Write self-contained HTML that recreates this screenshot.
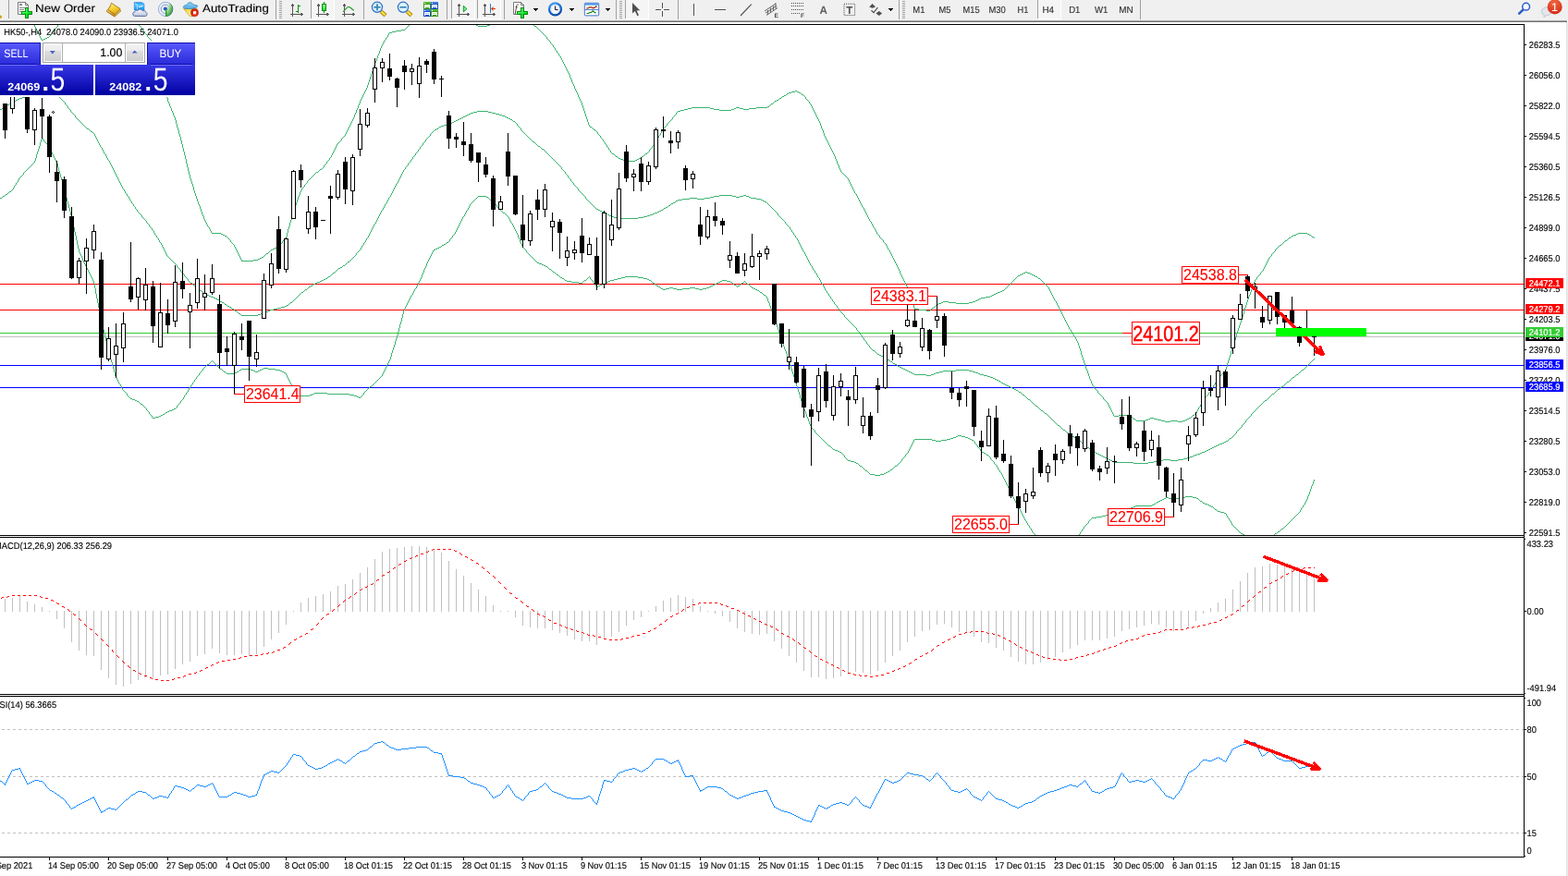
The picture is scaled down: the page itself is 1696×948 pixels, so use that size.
<!DOCTYPE html>
<html><head><meta charset="utf-8"><title>HK50-,H4</title>
<style>html,body{margin:0;padding:0;background:#fff;overflow:hidden}body{width:1696px;height:948px;position:relative;font-family:"Liberation Sans", sans-serif}svg text{white-space:pre}</style>
</head><body>
<svg width="1696" height="948" viewBox="0 0 1696 948" font-family='"Liberation Sans", sans-serif' text-rendering="geometricPrecision" style="position:absolute;left:0;top:0">
<defs>
<clipPath id="cm"><rect x="0" y="27" width="1648" height="552"/></clipPath>
<clipPath id="cd"><rect x="0" y="582" width="1648" height="169"/></clipPath>
<clipPath id="cr"><rect x="0" y="754" width="1648" height="173"/></clipPath>
<linearGradient id="gb1" x1="0" y1="0" x2="0" y2="1"><stop offset="0" stop-color="#5a5aff"/><stop offset="1" stop-color="#2a2ad8"/></linearGradient>
<linearGradient id="gb2" x1="0" y1="0" x2="0" y2="1"><stop offset="0" stop-color="#3838e8"/><stop offset="1" stop-color="#0000a0"/></linearGradient>
<linearGradient id="gbtn" x1="0" y1="0" x2="0" y2="1"><stop offset="0" stop-color="#f2f2f2"/><stop offset="0.4" stop-color="#ebebeb"/><stop offset="0.42" stop-color="#dddddd"/><stop offset="1" stop-color="#cfcfcf"/></linearGradient>

<linearGradient id="gplus" x1="0" y1="0" x2="1" y2="1"><stop offset="0" stop-color="#8cff9c"/><stop offset="0.5" stop-color="#10f030"/><stop offset="1" stop-color="#08b818"/></linearGradient>
<linearGradient id="gcandle" x1="0" y1="0" x2="0" y2="1"><stop offset="0" stop-color="#98ffa0"/><stop offset="1" stop-color="#18dc30"/></linearGradient>
<linearGradient id="ggold" x1="0.2" y1="0" x2="0.6" y2="1"><stop offset="0" stop-color="#fff6a0"/><stop offset="0.5" stop-color="#f4d030"/><stop offset="1" stop-color="#dca818"/></linearGradient>
<linearGradient id="gspine" x1="0" y1="0" x2="0.4" y2="1"><stop offset="0" stop-color="#fbe8a0"/><stop offset="1" stop-color="#c88a18"/></linearGradient>
<linearGradient id="gsky" x1="0" y1="0" x2="0" y2="1"><stop offset="0" stop-color="#1a9cf8"/><stop offset="0.35" stop-color="#58c4ff"/><stop offset="1" stop-color="#0890f0"/></linearGradient>
<linearGradient id="gcloud" x1="0" y1="0" x2="0" y2="1"><stop offset="0" stop-color="#ffffff"/><stop offset="1" stop-color="#b4c0d8"/></linearGradient>
<radialGradient id="glens" cx="0.5" cy="0.5" r="0.6"><stop offset="0" stop-color="#f0fcff"/><stop offset="1" stop-color="#c8eefa"/></radialGradient>
<radialGradient id="gred" cx="0.45" cy="0.25" r="0.85"><stop offset="0" stop-color="#f26a40"/><stop offset="1" stop-color="#d02414"/></radialGradient>
<radialGradient id="gstop" cx="0.6" cy="0.6" r="0.7"><stop offset="0" stop-color="#ff3010"/><stop offset="1" stop-color="#c42010"/></radialGradient>
<linearGradient id="gclock" x1="0.2" y1="0" x2="0.6" y2="1"><stop offset="0" stop-color="#48a8f8"/><stop offset="0.5" stop-color="#1868d0"/><stop offset="1" stop-color="#0848a0"/></linearGradient>
<linearGradient id="ghat" x1="0" y1="0" x2="0" y2="1"><stop offset="0" stop-color="#8cd0f8"/><stop offset="1" stop-color="#58a8e0"/></linearGradient>
<linearGradient id="gface" x1="0" y1="0" x2="1" y2="1"><stop offset="0" stop-color="#f0c820"/><stop offset="0.6" stop-color="#fff890"/><stop offset="1" stop-color="#f0d040"/></linearGradient>
<radialGradient id="gsig" cx="0" cy="0" r="1"><stop offset="0" stop-color="#e8f4e0" stop-opacity="0.6"/><stop offset="0.6" stop-color="#a8d8a0" stop-opacity="0.9"/><stop offset="1" stop-color="#48a848"/></radialGradient>
<linearGradient id="ghandle" x1="0" y1="0" x2="1" y2="0"><stop offset="0" stop-color="#d8a810"/><stop offset="0.5" stop-color="#fff050"/><stop offset="1" stop-color="#c89008"/></linearGradient>
<pattern id="dots" width="2" height="2" patternUnits="userSpaceOnUse"><rect width="2" height="2" fill="#fdfdfd"/><rect width="1" height="1" fill="#ededed"/><rect x="1" y="1" width="1" height="1" fill="#ededed"/></pattern>

</defs>
<rect x="0" y="0" width="1696" height="948" fill="#fff"/>
<g shape-rendering="crispEdges">
<rect x="0" y="307" width="1648" height="1" fill="#ff0000" />
<rect x="0" y="335" width="1648" height="1" fill="#ff0000" />
<rect x="0" y="364" width="1648" height="1" fill="#c0c0c0" />
<rect x="0" y="360" width="1648" height="1" fill="#32cd32" />
<rect x="0" y="395" width="1648" height="1" fill="#0000ff" />
<rect x="0" y="419" width="1648" height="1" fill="#0000ff" />
<path d="M37 27h1v2h-1zM38 29h1v2h-1zM39 31h1v2h-1zM40 33h1v2h-1zM41 35h1v2h-1zM42 37h1v2h-1zM43 39h1v2h-1zM44 41h1v2h-1zM45 43h2v1h-2zM47 42h2v1h-2zM49 41h2v1h-2zM51 40h2v1h-2zM53 39h1v1h-1zM54 38h1v1h-1zM55 36h1v2h-1zM56 35h1v1h-1zM57 34h1v1h-1zM58 33h1v1h-1zM59 31h1v2h-1zM60 30h1v1h-1zM61 29h1v1h-1zM62 27h1v2h-1zM150 27h1v1h-1zM151 28h1v1h-1zM152 29h1v1h-1zM153 30h1v2h-1zM154 32h1v1h-1zM155 33h1v1h-1zM156 34h1v2h-1zM157 36h1v1h-1zM158 37h1v1h-1zM159 38h1v2h-1zM160 40h1v1h-1zM161 41h1v1h-1zM162 42h1v1h-1zM163 43h1v2h-1zM164 45h1v1h-1zM165 46h1v2h-1zM166 48h1v4h-1zM167 52h1v4h-1zM168 56h1v3h-1zM169 59h1v4h-1zM170 63h1v3h-1zM171 66h1v4h-1zM172 70h1v4h-1zM173 74h1v4h-1zM174 78h1v4h-1zM175 82h1v4h-1zM176 86h1v4h-1zM177 90h1v4h-1zM178 94h1v4h-1zM179 98h1v4h-1zM180 102h1v4h-1zM181 106h1v4h-1zM182 110h1v2h-1zM183 112h1v3h-1zM184 115h1v2h-1zM185 117h1v3h-1zM186 120h1v2h-1zM187 122h1v3h-1zM188 125h1v2h-1zM189 127h1v3h-1zM190 130h1v4h-1zM191 134h1v4h-1zM192 138h1v3h-1zM193 141h1v4h-1zM194 145h1v3h-1zM195 148h1v4h-1zM196 152h1v4h-1zM197 156h1v4h-1zM198 160h1v4h-1zM199 164h1v4h-1zM200 168h1v4h-1zM201 172h1v5h-1zM202 177h1v4h-1zM203 181h1v4h-1zM204 185h1v4h-1zM205 189h1v4h-1zM206 193h1v3h-1zM207 196h1v3h-1zM208 199h1v3h-1zM209 202h1v4h-1zM210 206h1v3h-1zM211 209h1v3h-1zM212 212h1v3h-1zM213 215h1v3h-1zM214 218h1v3h-1zM215 221h1v2h-1zM216 223h1v3h-1zM217 226h1v3h-1zM218 229h1v3h-1zM219 232h1v2h-1zM220 234h1v3h-1zM221 237h1v2h-1zM222 239h1v2h-1zM223 241h1v2h-1zM224 243h1v2h-1zM225 245h1v1h-1zM226 246h1v2h-1zM227 248h1v2h-1zM228 250h1v2h-1zM229 252h10v1h-10zM239 253h2v1h-2zM241 254h2v1h-2zM243 255h2v1h-2zM245 256h1v1h-1zM246 257h1v1h-1zM247 258h1v1h-1zM248 259h1v1h-1zM249 260h1v2h-1zM250 262h1v1h-1zM251 263h1v1h-1zM252 264h1v1h-1zM253 265h1v2h-1zM254 267h1v2h-1zM255 269h1v2h-1zM256 271h1v2h-1zM257 273h1v2h-1zM258 275h1v2h-1zM259 277h1v2h-1zM260 279h1v2h-1zM261 281h1v2h-1zM262 282h12v1h-12zM274 281h5v1h-5zM279 280h2v1h-2zM281 279h2v1h-2zM283 278h2v1h-2zM285 277h1v1h-1zM286 276h1v1h-1zM287 275h1v1h-1zM288 274h2v1h-2zM290 273h1v1h-1zM291 272h1v1h-1zM292 271h1v1h-1zM293 270h2v1h-2zM295 269h2v1h-2zM297 268h2v1h-2zM299 267h2v1h-2zM301 266h1v1h-1zM302 265h1v1h-1zM303 264h1v1h-1zM304 263h1v1h-1zM305 261h1v2h-1zM306 260h1v1h-1zM307 259h1v1h-1zM308 258h1v1h-1zM309 256h1v2h-1zM310 252h1v4h-1zM311 248h1v4h-1zM312 245h1v3h-1zM313 241h1v4h-1zM314 238h1v3h-1zM315 234h1v4h-1zM316 230h1v4h-1zM317 227h1v3h-1zM318 224h1v3h-1zM319 222h1v2h-1zM320 219h1v3h-1zM321 216h1v3h-1zM322 213h1v3h-1zM323 211h1v2h-1zM324 208h1v3h-1zM325 206h1v2h-1zM326 204h1v2h-1zM327 203h1v1h-1zM328 202h1v1h-1zM329 200h1v2h-1zM330 199h1v1h-1zM331 198h1v1h-1zM332 196h1v2h-1zM333 195h1v1h-1zM334 194h1v1h-1zM335 193h1v1h-1zM336 192h1v1h-1zM337 191h1v1h-1zM338 190h1v1h-1zM339 189h1v1h-1zM340 188h1v1h-1zM341 187h1v1h-1zM342 186h2v1h-2zM344 185h1v1h-1zM345 184h1v1h-1zM346 183h2v1h-2zM348 182h1v1h-1zM349 181h1v1h-1zM350 179h1v2h-1zM351 178h1v1h-1zM352 177h1v1h-1zM353 175h1v2h-1zM354 174h1v1h-1zM355 173h1v1h-1zM356 171h1v2h-1zM357 170h1v1h-1zM358 168h1v2h-1zM359 166h1v2h-1zM360 164h1v2h-1zM361 162h1v2h-1zM362 160h1v2h-1zM363 158h1v2h-1zM364 156h1v2h-1zM365 155h1v1h-1zM366 154h1v1h-1zM367 153h1v1h-1zM368 152h1v1h-1zM369 150h1v2h-1zM370 149h1v1h-1zM371 148h1v1h-1zM372 147h1v1h-1zM373 145h1v2h-1zM374 143h1v2h-1zM375 141h1v2h-1zM376 139h1v2h-1zM377 137h1v2h-1zM378 135h1v2h-1zM379 133h1v2h-1zM380 131h1v2h-1zM381 129h1v2h-1zM382 127h1v2h-1zM383 124h1v3h-1zM384 122h1v2h-1zM385 119h1v3h-1zM386 117h1v2h-1zM387 114h1v3h-1zM388 112h1v2h-1zM389 109h1v3h-1zM390 107h1v2h-1zM391 105h1v2h-1zM392 103h1v2h-1zM393 101h1v2h-1zM394 99h1v2h-1zM395 97h1v2h-1zM396 95h1v2h-1zM397 92h1v3h-1zM398 89h1v3h-1zM399 86h1v3h-1zM400 83h1v3h-1zM401 80h1v3h-1zM402 77h1v3h-1zM403 74h1v3h-1zM404 71h1v3h-1zM405 68h1v3h-1zM406 66h1v2h-1zM407 63h1v3h-1zM408 60h1v3h-1zM409 58h1v2h-1zM410 55h1v3h-1zM411 52h1v3h-1zM412 50h1v2h-1zM413 48h1v2h-1zM414 46h1v2h-1zM415 44h1v2h-1zM416 43h1v1h-1zM417 41h1v2h-1zM418 40h1v1h-1zM419 38h1v2h-1zM420 36h1v2h-1zM421 35h3v1h-3zM424 34h4v1h-4zM428 33h6v1h-6zM434 32h4v1h-4zM438 31h1v1h-1zM439 30h1v1h-1zM440 29h1v1h-1zM441 28h1v1h-1zM442 27h1v1h-1zM515 27h2v1h-2zM517 28h10v1h-10zM527 27h3v1h-3zM577 27h1v1h-1zM578 28h2v1h-2zM580 29h1v1h-1zM581 30h1v1h-1zM582 31h1v1h-1zM583 32h1v1h-1zM584 33h1v1h-1zM585 34h1v1h-1zM586 35h1v1h-1zM587 36h1v1h-1zM588 37h1v1h-1zM589 38h1v1h-1zM590 39h1v1h-1zM591 40h1v2h-1zM592 42h1v1h-1zM593 43h1v1h-1zM594 44h1v1h-1zM595 45h1v2h-1zM596 47h1v1h-1zM597 48h1v1h-1zM598 49h1v2h-1zM599 51h1v1h-1zM600 52h1v2h-1zM601 54h1v1h-1zM602 55h1v2h-1zM603 57h1v1h-1zM604 58h1v2h-1zM605 60h1v1h-1zM606 61h1v2h-1zM607 63h1v2h-1zM608 65h1v2h-1zM609 67h1v2h-1zM610 69h1v2h-1zM611 71h1v2h-1zM612 73h1v2h-1zM613 75h1v2h-1zM614 77h1v2h-1zM615 79h1v2h-1zM616 81h1v3h-1zM617 84h1v2h-1zM618 86h1v3h-1zM619 89h1v2h-1zM620 91h1v2h-1zM621 93h1v3h-1zM622 96h1v2h-1zM623 98h1v2h-1zM624 100h1v2h-1zM625 102h1v3h-1zM626 105h1v2h-1zM627 107h1v2h-1zM628 109h1v2h-1zM629 111h1v3h-1zM630 114h1v3h-1zM631 117h1v3h-1zM632 120h1v3h-1zM633 123h1v3h-1zM634 126h1v3h-1zM635 129h1v3h-1zM636 132h1v3h-1zM637 135h1v2h-1zM638 137h2v1h-2zM640 138h1v1h-1zM641 139h1v1h-1zM642 140h2v1h-2zM644 141h1v1h-1zM645 142h1v1h-1zM646 143h1v2h-1zM647 145h1v1h-1zM648 146h1v1h-1zM649 147h1v2h-1zM650 149h1v1h-1zM651 150h1v1h-1zM652 151h1v2h-1zM653 153h1v1h-1zM654 154h1v2h-1zM655 156h1v1h-1zM656 157h1v2h-1zM657 159h1v1h-1zM658 160h1v2h-1zM659 162h1v1h-1zM660 163h1v2h-1zM661 165h1v1h-1zM662 166h2v1h-2zM664 167h1v1h-1zM665 168h1v1h-1zM666 169h2v1h-2zM668 170h1v1h-1zM669 171h2v1h-2zM671 172h3v1h-3zM674 173h2v1h-2zM676 174h11v1h-11zM687 173h2v1h-2zM689 172h2v1h-2zM691 171h2v1h-2zM693 170h1v1h-1zM694 169h2v1h-2zM696 168h1v1h-1zM697 167h1v1h-1zM698 166h2v1h-2zM700 165h1v1h-1zM701 164h1v1h-1zM702 162h1v2h-1zM703 161h1v1h-1zM704 160h1v1h-1zM705 158h1v2h-1zM706 157h1v1h-1zM707 156h1v1h-1zM708 154h1v2h-1zM709 153h1v1h-1zM710 151h1v2h-1zM711 149h1v2h-1zM712 147h1v2h-1zM713 146h1v1h-1zM714 144h1v2h-1zM715 142h1v2h-1zM716 140h1v2h-1zM717 139h1v1h-1zM718 138h1v1h-1zM719 137h1v1h-1zM720 136h1v1h-1zM721 134h1v2h-1zM722 133h1v1h-1zM723 132h1v1h-1zM724 131h1v1h-1zM725 130h1v1h-1zM726 129h1v1h-1zM727 127h1v2h-1zM728 126h1v1h-1zM729 125h1v1h-1zM730 124h1v1h-1zM731 122h1v2h-1zM732 121h1v1h-1zM733 120h3v1h-3zM736 119h4v1h-4zM740 118h4v1h-4zM744 117h4v1h-4zM748 116h20v1h-20zM768 117h4v1h-4zM772 118h6v1h-6zM778 119h13v1h-13zM791 118h3v1h-3zM794 117h2v1h-2zM796 116h4v1h-4zM800 117h4v1h-4zM804 118h6v1h-6zM810 117h8v1h-8zM818 116h12v1h-12zM830 115h2v1h-2zM832 114h1v1h-1zM833 113h1v1h-1zM834 112h2v1h-2zM836 111h1v1h-1zM837 110h1v1h-1zM838 109h2v1h-2zM840 108h2v1h-2zM842 107h1v1h-1zM843 106h2v1h-2zM845 105h1v1h-1zM846 104h2v1h-2zM848 103h2v1h-2zM850 102h1v1h-1zM851 101h2v1h-2zM853 100h3v1h-3zM856 99h4v1h-4zM860 98h2v1h-2zM862 99h2v1h-2zM864 100h2v1h-2zM866 101h1v1h-1zM867 102h2v1h-2zM869 103h1v1h-1zM870 104h1v1h-1zM871 105h1v2h-1zM872 107h1v1h-1zM873 108h1v1h-1zM874 109h1v1h-1zM875 110h1v2h-1zM876 112h1v1h-1zM877 113h1v2h-1zM878 115h1v2h-1zM879 117h1v2h-1zM880 119h1v2h-1zM881 121h1v2h-1zM882 123h1v2h-1zM883 125h1v2h-1zM884 127h1v2h-1zM885 129h1v2h-1zM886 131h1v2h-1zM887 133h1v3h-1zM888 136h1v3h-1zM889 139h1v2h-1zM890 141h1v3h-1zM891 144h1v3h-1zM892 147h1v2h-1zM893 149h1v2h-1zM894 151h1v2h-1zM895 153h1v2h-1zM896 155h1v2h-1zM897 157h1v2h-1zM898 159h1v2h-1zM899 161h1v2h-1zM900 163h1v2h-1zM901 165h1v2h-1zM902 167h1v2h-1zM903 169h1v3h-1zM904 172h1v2h-1zM905 174h1v3h-1zM906 177h1v2h-1zM907 179h1v3h-1zM908 182h1v2h-1zM909 184h1v2h-1zM910 186h1v1h-1zM911 187h1v1h-1zM912 188h1v1h-1zM913 189h1v1h-1zM914 190h1v1h-1zM915 191h1v1h-1zM916 192h1v1h-1zM917 193h1v2h-1zM918 195h1v2h-1zM919 197h1v2h-1zM920 199h1v2h-1zM921 201h1v2h-1zM922 203h1v2h-1zM923 205h1v2h-1zM924 207h1v2h-1zM925 209h1v1h-1zM926 210h1v2h-1zM927 212h1v2h-1zM928 214h1v2h-1zM929 216h1v2h-1zM930 218h1v2h-1zM931 220h1v2h-1zM932 222h1v2h-1zM933 224h1v1h-1zM934 225h1v2h-1zM935 227h1v2h-1zM936 229h1v2h-1zM937 231h1v2h-1zM938 233h1v2h-1zM939 235h1v2h-1zM940 237h1v2h-1zM941 239h1v1h-1zM942 240h1v2h-1zM943 242h1v2h-1zM944 244h1v2h-1zM945 246h1v1h-1zM946 247h1v2h-1zM947 249h1v2h-1zM948 251h1v2h-1zM949 253h1v1h-1zM950 254h1v1h-1zM951 255h1v2h-1zM952 257h1v1h-1zM953 258h1v1h-1zM954 259h1v1h-1zM955 260h1v2h-1zM956 262h1v1h-1zM957 263h1v1h-1zM958 264h1v2h-1zM959 266h1v2h-1zM960 268h1v2h-1zM961 270h1v1h-1zM962 271h1v2h-1zM963 273h1v2h-1zM964 275h1v2h-1zM965 277h1v2h-1zM966 279h1v2h-1zM967 281h1v2h-1zM968 283h1v2h-1zM969 285h1v2h-1zM970 287h1v2h-1zM971 289h1v2h-1zM972 291h1v2h-1zM973 293h1v3h-1zM974 296h1v2h-1zM975 298h1v2h-1zM976 300h1v2h-1zM977 302h1v2h-1zM978 304h1v2h-1zM979 306h1v2h-1zM980 308h1v2h-1zM981 310h1v3h-1zM982 313h1v3h-1zM983 316h1v3h-1zM984 319h1v3h-1zM985 322h1v2h-1zM986 324h1v3h-1zM987 327h1v3h-1zM988 330h1v3h-1zM989 333h1v2h-1zM990 334h4v1h-4zM994 335h8v1h-8zM1002 336h4v1h-4zM1006 335h1v1h-1zM1007 334h1v1h-1zM1008 333h2v1h-2zM1010 332h1v1h-1zM1011 331h1v1h-1zM1012 330h1v1h-1zM1013 329h2v1h-2zM1015 328h3v1h-3zM1018 327h2v1h-2zM1020 326h6v1h-6zM1026 327h8v1h-8zM1034 328h14v1h-14zM1048 327h4v1h-4zM1052 326h3v1h-3zM1055 325h2v1h-2zM1057 324h2v1h-2zM1059 323h2v1h-2zM1061 322h5v1h-5zM1066 321h5v1h-5zM1071 320h2v1h-2zM1073 319h2v1h-2zM1075 318h2v1h-2zM1077 317h2v1h-2zM1079 316h3v1h-3zM1082 315h2v1h-2zM1084 314h2v1h-2zM1086 313h1v1h-1zM1087 312h1v1h-1zM1088 311h1v1h-1zM1089 310h1v1h-1zM1090 309h1v1h-1zM1091 308h1v1h-1zM1092 307h1v1h-1zM1093 306h1v1h-1zM1094 305h1v1h-1zM1095 304h1v1h-1zM1096 303h1v1h-1zM1097 302h1v1h-1zM1098 301h1v1h-1zM1099 300h1v1h-1zM1100 299h1v1h-1zM1101 298h2v1h-2zM1103 297h2v1h-2zM1105 296h2v1h-2zM1107 295h2v1h-2zM1109 294h2v1h-2zM1111 295h3v1h-3zM1114 296h2v1h-2zM1116 297h2v1h-2zM1118 298h2v1h-2zM1120 299h2v1h-2zM1122 300h1v1h-1zM1123 301h2v1h-2zM1125 302h1v1h-1zM1126 303h1v1h-1zM1127 304h1v1h-1zM1128 305h1v1h-1zM1129 306h1v1h-1zM1130 307h1v1h-1zM1131 308h1v1h-1zM1132 309h1v1h-1zM1133 310h1v1h-1zM1134 311h1v2h-1zM1135 313h1v2h-1zM1136 315h1v2h-1zM1137 317h1v2h-1zM1138 319h1v2h-1zM1139 321h1v2h-1zM1140 323h1v2h-1zM1141 325h1v1h-1zM1142 326h1v2h-1zM1143 328h1v2h-1zM1144 330h1v2h-1zM1145 332h1v2h-1zM1146 334h1v2h-1zM1147 336h1v2h-1zM1148 338h1v2h-1zM1149 340h1v2h-1zM1150 342h1v2h-1zM1151 344h1v2h-1zM1152 346h1v2h-1zM1153 348h1v2h-1zM1154 350h1v2h-1zM1155 352h1v2h-1zM1156 354h1v2h-1zM1157 356h1v1h-1zM1158 357h1v2h-1zM1159 359h1v2h-1zM1160 361h1v1h-1zM1161 362h1v2h-1zM1162 364h1v1h-1zM1163 365h1v2h-1zM1164 367h1v2h-1zM1165 369h1v2h-1zM1166 371h1v3h-1zM1167 374h1v3h-1zM1168 377h1v3h-1zM1169 380h1v4h-1zM1170 384h1v3h-1zM1171 387h1v3h-1zM1172 390h1v3h-1zM1173 393h1v3h-1zM1174 396h1v3h-1zM1175 399h1v2h-1zM1176 401h1v3h-1zM1177 404h1v3h-1zM1178 407h1v3h-1zM1179 410h1v2h-1zM1180 412h1v3h-1zM1181 415h1v2h-1zM1182 417h1v1h-1zM1183 418h1v2h-1zM1184 420h1v1h-1zM1185 421h1v1h-1zM1186 422h1v1h-1zM1187 423h1v2h-1zM1188 425h1v1h-1zM1189 426h1v1h-1zM1190 427h1v1h-1zM1191 428h1v1h-1zM1192 429h1v1h-1zM1193 430h1v2h-1zM1194 432h1v1h-1zM1195 433h1v1h-1zM1196 434h1v1h-1zM1197 435h1v1h-1zM1198 436h1v2h-1zM1199 438h1v2h-1zM1200 440h1v2h-1zM1201 442h1v2h-1zM1202 444h1v2h-1zM1203 446h1v2h-1zM1204 448h1v2h-1zM1205 450h5v1h-5zM1210 449h12v1h-12zM1222 450h2v1h-2zM1224 451h1v1h-1zM1225 452h1v1h-1zM1226 453h2v1h-2zM1228 454h1v1h-1zM1229 455h10v1h-10zM1239 454h3v1h-3zM1242 453h2v1h-2zM1244 452h4v1h-4zM1248 453h4v1h-4zM1252 454h4v1h-4zM1256 455h4v1h-4zM1260 456h6v1h-6zM1266 455h8v1h-8zM1274 456h5v1h-5zM1279 455h3v1h-3zM1282 454h2v1h-2zM1284 453h2v1h-2zM1286 452h2v1h-2zM1288 451h1v1h-1zM1289 450h1v1h-1zM1290 449h2v1h-2zM1292 448h1v1h-1zM1293 447h1v1h-1zM1294 445h1v2h-1zM1295 443h1v2h-1zM1296 441h1v2h-1zM1297 440h1v1h-1zM1298 438h1v2h-1zM1299 436h1v2h-1zM1300 434h1v2h-1zM1301 433h1v1h-1zM1302 432h1v1h-1zM1303 430h1v2h-1zM1304 429h1v1h-1zM1305 428h1v1h-1zM1306 427h1v1h-1zM1307 425h1v2h-1zM1308 424h1v1h-1zM1309 423h1v1h-1zM1310 421h1v2h-1zM1311 419h1v2h-1zM1312 417h1v2h-1zM1313 416h1v1h-1zM1314 414h1v2h-1zM1315 412h1v2h-1zM1316 410h1v2h-1zM1317 409h1v1h-1zM1318 408h1v1h-1zM1319 407h1v1h-1zM1320 406h1v1h-1zM1321 405h1v1h-1zM1322 404h1v1h-1zM1323 403h1v1h-1zM1324 402h1v1h-1zM1325 400h1v2h-1zM1326 397h1v3h-1zM1327 393h1v4h-1zM1328 390h1v3h-1zM1329 387h1v3h-1zM1330 384h1v3h-1zM1331 380h1v4h-1zM1332 377h1v3h-1zM1333 374h1v3h-1zM1334 371h1v3h-1zM1335 368h1v3h-1zM1336 365h1v3h-1zM1337 361h1v4h-1zM1338 358h1v3h-1zM1339 355h1v3h-1zM1340 352h1v3h-1zM1341 349h1v3h-1zM1342 346h1v3h-1zM1343 343h1v3h-1zM1344 340h1v3h-1zM1345 336h1v4h-1zM1346 333h1v3h-1zM1347 330h1v3h-1zM1348 327h1v3h-1zM1349 324h1v3h-1zM1350 321h1v3h-1zM1351 319h1v2h-1zM1352 316h1v3h-1zM1353 313h1v3h-1zM1354 310h1v3h-1zM1355 308h1v2h-1zM1356 305h1v3h-1zM1357 303h1v2h-1zM1358 302h1v1h-1zM1359 300h1v2h-1zM1360 299h1v1h-1zM1361 298h1v1h-1zM1362 297h1v1h-1zM1363 295h1v2h-1zM1364 294h1v1h-1zM1365 293h1v1h-1zM1366 291h1v2h-1zM1367 289h1v2h-1zM1368 287h1v2h-1zM1369 285h1v2h-1zM1370 283h1v2h-1zM1371 281h1v2h-1zM1372 279h1v2h-1zM1373 278h1v1h-1zM1374 277h1v1h-1zM1375 275h1v2h-1zM1376 274h1v1h-1zM1377 273h1v1h-1zM1378 272h1v1h-1zM1379 270h1v2h-1zM1380 269h1v1h-1zM1381 268h1v1h-1zM1382 267h1v1h-1zM1383 266h1v1h-1zM1384 265h2v1h-2zM1386 264h1v1h-1zM1387 263h1v1h-1zM1388 262h1v1h-1zM1389 261h1v1h-1zM1390 260h2v1h-2zM1392 259h1v1h-1zM1393 258h1v1h-1zM1394 257h2v1h-2zM1396 256h1v1h-1zM1397 255h2v1h-2zM1399 254h3v1h-3zM1402 253h2v1h-2zM1404 252h10v1h-10zM1414 253h2v1h-2zM1416 254h2v1h-2zM1418 255h1v1h-1zM1419 256h2v1h-2zM1421 257h1v1h-1z" fill="#3CB371" />
<path d="M0 118h2v1h-2zM2 117h1v1h-1zM3 116h2v1h-2zM5 115h1v1h-1zM6 114h2v1h-2zM8 113h2v1h-2zM10 112h1v1h-1zM11 111h2v1h-2zM13 110h2v1h-2zM15 109h2v1h-2zM17 108h2v1h-2zM19 107h2v1h-2zM21 106h3v1h-3zM24 105h4v1h-4zM28 104h3v1h-3zM31 103h2v1h-2zM33 102h2v1h-2zM35 101h2v1h-2zM37 100h2v1h-2zM39 99h3v1h-3zM42 98h2v1h-2zM44 97h6v1h-6zM50 98h5v1h-5zM55 99h2v1h-2zM57 100h2v1h-2zM59 101h2v1h-2zM61 102h1v1h-1zM62 103h1v1h-1zM63 104h1v1h-1zM64 105h1v1h-1zM65 106h1v1h-1zM66 107h1v1h-1zM67 108h1v1h-1zM68 109h1v1h-1zM69 110h1v1h-1zM70 111h1v2h-1zM71 113h1v1h-1zM72 114h1v1h-1zM73 115h1v2h-1zM74 117h1v1h-1zM75 118h1v1h-1zM76 119h1v2h-1zM77 121h1v1h-1zM78 122h1v1h-1zM79 123h1v1h-1zM80 124h1v1h-1zM81 125h1v2h-1zM82 127h1v1h-1zM83 128h1v1h-1zM84 129h1v1h-1zM85 130h1v1h-1zM86 131h1v1h-1zM87 132h1v1h-1zM88 133h1v1h-1zM89 134h1v1h-1zM90 135h1v1h-1zM91 136h1v1h-1zM92 137h1v1h-1zM93 138h1v1h-1zM94 139h2v1h-2zM96 140h1v1h-1zM97 141h1v1h-1zM98 142h2v1h-2zM100 143h1v1h-1zM101 144h1v1h-1zM102 145h1v2h-1zM103 147h1v2h-1zM104 149h1v2h-1zM105 151h1v2h-1zM106 153h1v2h-1zM107 155h1v2h-1zM108 157h1v2h-1zM109 159h1v1h-1zM110 160h1v2h-1zM111 162h1v2h-1zM112 164h1v2h-1zM113 166h1v1h-1zM114 167h1v2h-1zM115 169h1v2h-1zM116 171h1v2h-1zM117 173h1v1h-1zM118 174h1v2h-1zM119 176h1v2h-1zM120 178h1v2h-1zM121 180h1v2h-1zM122 182h1v2h-1zM123 184h1v2h-1zM124 186h1v2h-1zM125 188h1v2h-1zM126 190h1v2h-1zM127 192h1v2h-1zM128 194h1v2h-1zM129 196h1v2h-1zM130 198h1v2h-1zM131 200h1v2h-1zM132 202h1v2h-1zM133 204h1v1h-1zM134 205h1v2h-1zM135 207h1v2h-1zM136 209h1v1h-1zM137 210h1v2h-1zM138 212h1v1h-1zM139 213h1v2h-1zM140 215h1v2h-1zM141 217h1v1h-1zM142 218h1v2h-1zM143 220h1v1h-1zM144 221h1v2h-1zM145 223h1v1h-1zM146 224h1v2h-1zM147 226h1v1h-1zM148 227h1v2h-1zM149 229h1v1h-1zM150 230h1v1h-1zM151 231h1v1h-1zM152 232h1v1h-1zM153 233h1v2h-1zM154 235h1v1h-1zM155 236h1v1h-1zM156 237h1v1h-1zM157 238h1v1h-1zM158 239h1v2h-1zM159 241h1v1h-1zM160 242h1v1h-1zM161 243h1v2h-1zM162 245h1v1h-1zM163 246h1v1h-1zM164 247h1v2h-1zM165 249h1v1h-1zM166 250h1v2h-1zM167 252h1v2h-1zM168 254h1v1h-1zM169 255h1v2h-1zM170 257h1v1h-1zM171 258h1v2h-1zM172 260h1v2h-1zM173 262h1v1h-1zM174 263h1v2h-1zM175 265h1v2h-1zM176 267h1v2h-1zM177 269h1v2h-1zM178 271h1v2h-1zM179 273h1v2h-1zM180 275h1v2h-1zM181 277h1v1h-1zM182 278h1v1h-1zM183 279h1v1h-1zM184 280h1v1h-1zM185 281h1v1h-1zM186 282h1v1h-1zM187 283h1v1h-1zM188 284h1v1h-1zM189 285h1v1h-1zM190 286h1v1h-1zM191 287h1v2h-1zM192 289h1v1h-1zM193 290h1v1h-1zM194 291h1v1h-1zM195 292h1v2h-1zM196 294h1v1h-1zM197 295h1v1h-1zM198 296h1v1h-1zM199 297h1v2h-1zM200 299h1v1h-1zM201 300h1v1h-1zM202 301h1v1h-1zM203 302h1v2h-1zM204 304h1v1h-1zM205 305h1v1h-1zM206 306h2v1h-2zM208 307h1v1h-1zM209 308h1v1h-1zM210 309h2v1h-2zM212 310h1v1h-1zM213 311h1v1h-1zM214 312h1v1h-1zM215 313h1v1h-1zM216 314h2v1h-2zM218 315h1v1h-1zM219 316h1v1h-1zM220 317h1v1h-1zM221 318h2v1h-2zM223 319h3v1h-3zM226 320h2v1h-2zM228 321h3v1h-3zM231 322h2v1h-2zM233 323h2v1h-2zM235 324h2v1h-2zM237 325h1v1h-1zM238 326h2v1h-2zM240 327h2v1h-2zM242 328h1v1h-1zM243 329h2v1h-2zM245 330h1v1h-1zM246 331h2v1h-2zM248 332h2v1h-2zM250 333h1v1h-1zM251 334h2v1h-2zM253 335h1v1h-1zM254 336h2v1h-2zM256 337h1v1h-1zM257 338h1v1h-1zM258 339h2v1h-2zM260 340h1v1h-1zM261 341h18v1h-18zM279 340h3v1h-3zM282 339h2v1h-2zM284 338h3v1h-3zM287 337h3v1h-3zM290 336h2v1h-2zM292 335h4v1h-4zM296 334h4v1h-4zM300 333h4v1h-4zM304 332h4v1h-4zM308 331h2v1h-2zM310 330h2v1h-2zM312 329h1v1h-1zM313 328h1v1h-1zM314 327h2v1h-2zM316 326h1v1h-1zM317 325h1v1h-1zM318 324h1v1h-1zM319 323h1v1h-1zM320 322h1v1h-1zM321 321h1v1h-1zM322 320h1v1h-1zM323 319h1v1h-1zM324 318h1v1h-1zM325 317h1v1h-1zM326 316h2v1h-2zM328 315h1v1h-1zM329 314h1v1h-1zM330 313h2v1h-2zM332 312h1v1h-1zM333 311h1v1h-1zM334 310h2v1h-2zM336 309h2v1h-2zM338 308h1v1h-1zM339 307h2v1h-2zM341 306h2v1h-2zM343 305h3v1h-3zM346 304h2v1h-2zM348 303h2v1h-2zM350 302h2v1h-2zM352 301h2v1h-2zM354 300h1v1h-1zM355 299h2v1h-2zM357 298h1v1h-1zM358 297h1v1h-1zM359 296h1v1h-1zM360 295h2v1h-2zM362 294h1v1h-1zM363 293h1v1h-1zM364 292h1v1h-1zM365 291h1v1h-1zM366 290h2v1h-2zM368 289h2v1h-2zM370 288h1v1h-1zM371 287h2v1h-2zM373 286h1v1h-1zM374 285h1v1h-1zM375 284h1v1h-1zM376 283h2v1h-2zM378 282h1v1h-1zM379 281h1v1h-1zM380 280h1v1h-1zM381 279h1v1h-1zM382 278h1v1h-1zM383 277h1v1h-1zM384 276h1v1h-1zM385 274h1v2h-1zM386 273h1v1h-1zM387 272h1v1h-1zM388 271h1v1h-1zM389 270h1v1h-1zM390 268h1v2h-1zM391 266h1v2h-1zM392 265h1v1h-1zM393 263h1v2h-1zM394 262h1v1h-1zM395 260h1v2h-1zM396 258h1v2h-1zM397 257h1v1h-1zM398 255h1v2h-1zM399 253h1v2h-1zM400 251h1v2h-1zM401 249h1v2h-1zM402 247h1v2h-1zM403 245h1v2h-1zM404 243h1v2h-1zM405 242h1v1h-1zM406 240h1v2h-1zM407 238h1v2h-1zM408 236h1v2h-1zM409 234h1v2h-1zM410 232h1v2h-1zM411 230h1v2h-1zM412 228h1v2h-1zM413 227h1v1h-1zM414 225h1v2h-1zM415 223h1v2h-1zM416 221h1v2h-1zM417 220h1v1h-1zM418 218h1v2h-1zM419 216h1v2h-1zM420 214h1v2h-1zM421 213h1v1h-1zM422 211h1v2h-1zM423 209h1v2h-1zM424 207h1v2h-1zM425 205h1v2h-1zM426 203h1v2h-1zM427 201h1v2h-1zM428 199h1v2h-1zM429 198h1v1h-1zM430 196h1v2h-1zM431 194h1v2h-1zM432 192h1v2h-1zM433 190h1v2h-1zM434 188h1v2h-1zM435 186h1v2h-1zM436 184h1v2h-1zM437 183h1v1h-1zM438 181h1v2h-1zM439 180h1v1h-1zM440 179h1v1h-1zM441 177h1v2h-1zM442 176h1v1h-1zM443 175h1v1h-1zM444 173h1v2h-1zM445 172h1v1h-1zM446 170h1v2h-1zM447 169h1v1h-1zM448 168h1v1h-1zM449 166h1v2h-1zM450 165h1v1h-1zM451 164h1v1h-1zM452 162h1v2h-1zM453 161h1v1h-1zM454 159h1v2h-1zM455 158h1v1h-1zM456 157h1v1h-1zM457 155h1v2h-1zM458 154h1v1h-1zM459 153h1v1h-1zM460 151h1v2h-1zM461 150h1v1h-1zM462 149h1v1h-1zM463 148h1v1h-1zM464 147h1v1h-1zM465 145h1v2h-1zM466 144h1v1h-1zM467 143h1v1h-1zM468 142h1v1h-1zM469 141h1v1h-1zM470 140h2v1h-2zM472 139h2v1h-2zM474 138h1v1h-1zM475 137h2v1h-2zM477 136h3v1h-3zM480 135h4v1h-4zM484 134h3v1h-3zM487 133h2v1h-2zM489 132h2v1h-2zM491 131h2v1h-2zM493 130h2v1h-2zM495 129h2v1h-2zM497 128h2v1h-2zM499 127h2v1h-2zM501 126h2v1h-2zM503 125h2v1h-2zM505 124h2v1h-2zM507 123h2v1h-2zM509 122h3v1h-3zM512 121h4v1h-4zM516 120h12v1h-12zM528 121h4v1h-4zM532 122h4v1h-4zM536 123h4v1h-4zM540 124h3v1h-3zM543 125h3v1h-3zM546 126h2v1h-2zM548 127h2v1h-2zM550 128h2v1h-2zM552 129h2v1h-2zM554 130h1v1h-1zM555 131h2v1h-2zM557 132h1v1h-1zM558 133h1v1h-1zM559 134h1v2h-1zM560 136h1v1h-1zM561 137h1v1h-1zM562 138h1v1h-1zM563 139h1v2h-1zM564 141h1v1h-1zM565 142h1v1h-1zM566 143h1v1h-1zM567 144h1v1h-1zM568 145h1v1h-1zM569 146h1v1h-1zM570 147h1v1h-1zM571 148h1v1h-1zM572 149h1v1h-1zM573 150h1v1h-1zM574 151h1v1h-1zM575 152h1v1h-1zM576 153h2v1h-2zM578 154h1v1h-1zM579 155h1v1h-1zM580 156h1v1h-1zM581 157h1v1h-1zM582 158h2v1h-2zM584 159h1v1h-1zM585 160h1v1h-1zM586 161h2v1h-2zM588 162h1v1h-1zM589 163h1v1h-1zM590 164h1v1h-1zM591 165h1v1h-1zM592 166h1v1h-1zM593 167h1v1h-1zM594 168h1v1h-1zM595 169h1v1h-1zM596 170h1v1h-1zM597 171h1v1h-1zM598 172h1v1h-1zM599 173h1v1h-1zM600 174h1v1h-1zM601 175h1v1h-1zM602 176h1v1h-1zM603 177h1v1h-1zM604 178h1v1h-1zM605 179h1v1h-1zM606 180h1v1h-1zM607 181h1v2h-1zM608 183h1v1h-1zM609 184h1v1h-1zM610 185h1v1h-1zM611 186h1v2h-1zM612 188h1v1h-1zM613 189h1v1h-1zM614 190h1v2h-1zM615 192h1v1h-1zM616 193h1v1h-1zM617 194h1v2h-1zM618 196h1v1h-1zM619 197h1v1h-1zM620 198h1v2h-1zM621 200h1v1h-1zM622 201h1v1h-1zM623 202h1v1h-1zM624 203h1v1h-1zM625 204h1v2h-1zM626 206h1v1h-1zM627 207h1v1h-1zM628 208h1v1h-1zM629 209h1v1h-1zM630 210h1v1h-1zM631 211h1v1h-1zM632 212h1v1h-1zM633 213h1v2h-1zM634 215h1v1h-1zM635 216h1v1h-1zM636 217h1v1h-1zM637 218h1v1h-1zM638 219h1v1h-1zM639 220h1v1h-1zM640 221h1v1h-1zM641 222h1v1h-1zM642 223h1v1h-1zM643 224h1v1h-1zM644 225h1v1h-1zM645 226h2v1h-2zM647 227h2v1h-2zM649 228h2v1h-2zM651 229h2v1h-2zM653 230h2v1h-2zM655 231h2v1h-2zM657 232h2v1h-2zM659 233h2v1h-2zM661 234h3v1h-3zM664 235h4v1h-4zM668 236h22v1h-22zM690 235h6v1h-6zM696 234h4v1h-4zM700 233h3v1h-3zM703 232h3v1h-3zM706 231h2v1h-2zM708 230h3v1h-3zM711 229h2v1h-2zM713 228h2v1h-2zM715 227h2v1h-2zM717 226h1v1h-1zM718 225h2v1h-2zM720 224h2v1h-2zM722 223h1v1h-1zM723 222h2v1h-2zM725 221h1v1h-1zM726 220h2v1h-2zM728 219h2v1h-2zM730 218h1v1h-1zM731 217h2v1h-2zM733 216h5v1h-5zM738 215h8v1h-8zM746 214h8v1h-8zM754 215h8v1h-8zM762 214h6v1h-6zM768 213h4v1h-4zM772 212h6v1h-6zM778 211h14v1h-14zM792 212h4v1h-4zM796 213h4v1h-4zM800 212h4v1h-4zM804 211h3v1h-3zM807 212h3v1h-3zM810 213h2v1h-2zM812 214h6v1h-6zM818 215h5v1h-5zM823 216h2v1h-2zM825 217h2v1h-2zM827 218h2v1h-2zM829 219h1v1h-1zM830 220h1v1h-1zM831 221h1v1h-1zM832 222h1v1h-1zM833 223h1v1h-1zM834 224h1v1h-1zM835 225h1v1h-1zM836 226h1v1h-1zM837 227h1v1h-1zM838 228h1v1h-1zM839 229h1v1h-1zM840 230h1v1h-1zM841 231h1v2h-1zM842 233h1v1h-1zM843 234h1v1h-1zM844 235h1v1h-1zM845 236h1v1h-1zM846 237h1v1h-1zM847 238h1v1h-1zM848 239h1v1h-1zM849 240h1v2h-1zM850 242h1v1h-1zM851 243h1v1h-1zM852 244h1v1h-1zM853 245h1v1h-1zM854 246h1v2h-1zM855 248h1v1h-1zM856 249h1v2h-1zM857 251h1v1h-1zM858 252h1v2h-1zM859 254h1v1h-1zM860 255h1v2h-1zM861 257h1v1h-1zM862 258h1v2h-1zM863 260h1v2h-1zM864 262h1v2h-1zM865 264h1v2h-1zM866 266h1v2h-1zM867 268h1v2h-1zM868 270h1v2h-1zM869 272h1v1h-1zM870 273h1v2h-1zM871 275h1v2h-1zM872 277h1v2h-1zM873 279h1v2h-1zM874 281h1v2h-1zM875 283h1v2h-1zM876 285h1v2h-1zM877 287h1v1h-1zM878 288h1v2h-1zM879 290h1v2h-1zM880 292h1v1h-1zM881 293h1v2h-1zM882 295h1v1h-1zM883 296h1v2h-1zM884 298h1v2h-1zM885 300h1v1h-1zM886 301h1v2h-1zM887 303h1v2h-1zM888 305h1v2h-1zM889 307h1v1h-1zM890 308h1v2h-1zM891 310h1v2h-1zM892 312h1v2h-1zM893 314h1v1h-1zM894 315h1v2h-1zM895 317h1v1h-1zM896 318h1v2h-1zM897 320h1v1h-1zM898 321h1v2h-1zM899 323h1v1h-1zM900 324h1v2h-1zM901 326h1v1h-1zM902 327h1v2h-1zM903 329h1v1h-1zM904 330h1v1h-1zM905 331h1v2h-1zM906 333h1v1h-1zM907 334h1v1h-1zM908 335h1v2h-1zM909 337h1v1h-1zM910 338h1v1h-1zM911 339h1v1h-1zM912 340h1v1h-1zM913 341h1v2h-1zM914 343h1v1h-1zM915 344h1v1h-1zM916 345h1v1h-1zM917 346h1v1h-1zM918 347h1v1h-1zM919 348h1v1h-1zM920 349h1v1h-1zM921 350h1v1h-1zM922 351h1v1h-1zM923 352h1v1h-1zM924 353h1v1h-1zM925 354h1v1h-1zM926 355h1v2h-1zM927 357h1v1h-1zM928 358h1v1h-1zM929 359h1v2h-1zM930 361h1v1h-1zM931 362h1v1h-1zM932 363h1v2h-1zM933 365h1v1h-1zM934 366h1v2h-1zM935 368h1v1h-1zM936 369h1v1h-1zM937 370h1v2h-1zM938 372h1v1h-1zM939 373h1v1h-1zM940 374h1v2h-1zM941 376h1v1h-1zM942 377h1v1h-1zM943 378h1v1h-1zM944 379h2v1h-2zM946 380h1v1h-1zM947 381h1v1h-1zM948 382h1v1h-1zM949 383h2v1h-2zM951 384h2v1h-2zM953 385h2v1h-2zM955 386h2v1h-2zM957 387h1v1h-1zM958 388h2v1h-2zM960 389h2v1h-2zM962 390h1v1h-1zM963 391h2v1h-2zM965 392h1v1h-1zM966 393h2v1h-2zM968 394h2v1h-2zM970 395h1v1h-1zM971 396h2v1h-2zM973 397h2v1h-2zM975 398h2v1h-2zM977 399h2v1h-2zM979 400h2v1h-2zM981 401h2v1h-2zM983 402h2v1h-2zM985 403h2v1h-2zM987 404h2v1h-2zM989 405h13v1h-13zM1002 406h5v1h-5zM1007 405h3v1h-3zM1010 404h2v1h-2zM1012 403h4v1h-4zM1016 402h4v1h-4zM1020 401h14v1h-14zM1034 400h14v1h-14zM1048 401h4v1h-4zM1052 402h3v1h-3zM1055 403h3v1h-3zM1058 404h2v1h-2zM1060 405h4v1h-4zM1064 406h4v1h-4zM1068 407h3v1h-3zM1071 408h3v1h-3zM1074 409h2v1h-2zM1076 410h2v1h-2zM1078 411h2v1h-2zM1080 412h2v1h-2zM1082 413h1v1h-1zM1083 414h2v1h-2zM1085 415h2v1h-2zM1087 416h2v1h-2zM1089 417h2v1h-2zM1091 418h2v1h-2zM1093 419h2v1h-2zM1095 420h2v1h-2zM1097 421h2v1h-2zM1099 422h2v1h-2zM1101 423h1v1h-1zM1102 424h2v1h-2zM1104 425h1v1h-1zM1105 426h1v1h-1zM1106 427h2v1h-2zM1108 428h1v1h-1zM1109 429h1v1h-1zM1110 430h1v1h-1zM1111 431h1v1h-1zM1112 432h2v1h-2zM1114 433h1v1h-1zM1115 434h1v1h-1zM1116 435h1v1h-1zM1117 436h1v1h-1zM1118 437h1v1h-1zM1119 438h1v1h-1zM1120 439h2v1h-2zM1122 440h1v1h-1zM1123 441h1v1h-1zM1124 442h1v1h-1zM1125 443h1v1h-1zM1126 444h2v1h-2zM1128 445h1v1h-1zM1129 446h1v1h-1zM1130 447h2v1h-2zM1132 448h1v1h-1zM1133 449h1v1h-1zM1134 450h1v1h-1zM1135 451h1v1h-1zM1136 452h1v1h-1zM1137 453h1v1h-1zM1138 454h1v1h-1zM1139 455h1v1h-1zM1140 456h1v1h-1zM1141 457h1v1h-1zM1142 458h1v1h-1zM1143 459h1v1h-1zM1144 460h2v1h-2zM1146 461h1v1h-1zM1147 462h1v1h-1zM1148 463h1v1h-1zM1149 464h1v1h-1zM1150 465h2v1h-2zM1152 466h1v1h-1zM1153 467h1v1h-1zM1154 468h2v1h-2zM1156 469h1v1h-1zM1157 470h1v1h-1zM1158 471h2v1h-2zM1160 472h2v1h-2zM1162 473h1v1h-1zM1163 474h2v1h-2zM1165 475h1v1h-1zM1166 476h2v1h-2zM1168 477h1v1h-1zM1169 478h1v1h-1zM1170 479h2v1h-2zM1172 480h1v1h-1zM1173 481h1v1h-1zM1174 482h1v1h-1zM1175 483h1v1h-1zM1176 484h2v1h-2zM1178 485h1v1h-1zM1179 486h1v1h-1zM1180 487h1v1h-1zM1181 488h2v1h-2zM1183 489h2v1h-2zM1185 490h2v1h-2zM1187 491h2v1h-2zM1189 492h2v1h-2zM1191 493h2v1h-2zM1193 494h2v1h-2zM1195 495h2v1h-2zM1197 496h2v1h-2zM1199 497h2v1h-2zM1201 498h2v1h-2zM1203 499h2v1h-2zM1205 500h21v1h-21zM1226 501h16v1h-16zM1242 500h6v1h-6zM1248 499h4v1h-4zM1252 498h6v1h-6zM1258 497h8v1h-8zM1266 498h8v1h-8zM1274 497h6v1h-6zM1280 496h4v1h-4zM1284 495h3v1h-3zM1287 494h3v1h-3zM1290 493h2v1h-2zM1292 492h3v1h-3zM1295 491h3v1h-3zM1298 490h2v1h-2zM1300 489h3v1h-3zM1303 488h2v1h-2zM1305 487h2v1h-2zM1307 486h2v1h-2zM1309 485h2v1h-2zM1311 484h2v1h-2zM1313 483h2v1h-2zM1315 482h2v1h-2zM1317 481h2v1h-2zM1319 480h3v1h-3zM1322 479h2v1h-2zM1324 478h2v1h-2zM1326 477h2v1h-2zM1328 476h1v1h-1zM1329 475h1v1h-1zM1330 474h2v1h-2zM1332 473h1v1h-1zM1333 472h1v1h-1zM1334 471h1v1h-1zM1335 470h1v1h-1zM1336 469h1v1h-1zM1337 467h1v2h-1zM1338 466h1v1h-1zM1339 465h1v1h-1zM1340 464h1v1h-1zM1341 463h1v1h-1zM1342 462h1v1h-1zM1343 460h1v2h-1zM1344 459h1v1h-1zM1345 458h1v1h-1zM1346 457h1v1h-1zM1347 455h1v2h-1zM1348 454h1v1h-1zM1349 453h1v1h-1zM1350 452h1v1h-1zM1351 451h1v1h-1zM1352 450h1v1h-1zM1353 448h1v2h-1zM1354 447h1v1h-1zM1355 446h1v1h-1zM1356 445h1v1h-1zM1357 444h1v1h-1zM1358 443h1v1h-1zM1359 442h1v1h-1zM1360 441h1v1h-1zM1361 440h1v1h-1zM1362 439h1v1h-1zM1363 438h1v1h-1zM1364 437h1v1h-1zM1365 436h1v1h-1zM1366 435h1v1h-1zM1367 434h1v1h-1zM1368 433h2v1h-2zM1370 432h1v1h-1zM1371 431h1v1h-1zM1372 430h1v1h-1zM1373 429h1v1h-1zM1374 428h1v1h-1zM1375 427h1v1h-1zM1376 426h2v1h-2zM1378 425h1v1h-1zM1379 424h1v1h-1zM1380 423h1v1h-1zM1381 422h1v1h-1zM1382 421h2v1h-2zM1384 420h1v1h-1zM1385 419h1v1h-1zM1386 418h2v1h-2zM1388 417h1v1h-1zM1389 416h1v1h-1zM1390 415h1v1h-1zM1391 414h1v1h-1zM1392 413h2v1h-2zM1394 412h1v1h-1zM1395 411h1v1h-1zM1396 410h1v1h-1zM1397 409h1v1h-1zM1398 408h2v1h-2zM1400 407h1v1h-1zM1401 406h1v1h-1zM1402 405h2v1h-2zM1404 404h1v1h-1zM1405 403h1v1h-1zM1406 402h1v1h-1zM1407 401h1v1h-1zM1408 400h2v1h-2zM1410 399h1v1h-1zM1411 398h1v1h-1zM1412 397h1v1h-1zM1413 396h1v1h-1zM1414 395h1v1h-1zM1415 394h1v1h-1zM1416 393h1v1h-1zM1417 392h1v1h-1zM1418 391h1v1h-1zM1419 390h1v1h-1zM1420 389h1v1h-1zM1421 388h1v1h-1z" fill="#3CB371" />
<path d="M0 214h2v1h-2zM2 213h1v1h-1zM3 212h2v1h-2zM5 211h1v1h-1zM6 210h2v1h-2zM8 209h1v1h-1zM9 208h1v1h-1zM10 207h2v1h-2zM12 206h1v1h-1zM13 205h1v1h-1zM14 203h1v2h-1zM15 201h1v2h-1zM16 200h1v1h-1zM17 198h1v2h-1zM18 197h1v1h-1zM19 195h1v2h-1zM20 193h1v2h-1zM21 192h1v1h-1zM22 191h1v1h-1zM23 190h1v1h-1zM24 189h1v1h-1zM25 187h1v2h-1zM26 186h1v1h-1zM27 185h1v1h-1zM28 184h1v1h-1zM29 183h1v1h-1zM30 182h1v1h-1zM31 181h1v1h-1zM32 180h1v1h-1zM33 179h1v1h-1zM34 178h1v1h-1zM35 177h1v1h-1zM36 176h1v1h-1zM37 174h1v2h-1zM38 171h1v3h-1zM39 167h1v4h-1zM40 164h1v3h-1zM41 161h1v3h-1zM42 158h1v3h-1zM43 154h1v4h-1zM44 151h1v3h-1zM45 149h1v2h-1zM46 150h1v1h-1zM47 151h1v2h-1zM48 153h1v1h-1zM49 154h1v1h-1zM50 155h1v1h-1zM51 156h1v2h-1zM52 158h1v1h-1zM53 159h1v2h-1zM54 161h1v2h-1zM55 163h1v2h-1zM56 165h1v2h-1zM57 167h1v2h-1zM58 169h1v2h-1zM59 171h1v2h-1zM60 173h1v2h-1zM61 175h1v2h-1zM62 177h1v4h-1zM63 181h1v4h-1zM64 185h1v3h-1zM65 188h1v4h-1zM66 192h1v3h-1zM67 195h1v4h-1zM68 199h1v4h-1zM69 203h1v3h-1zM70 206h1v4h-1zM71 210h1v4h-1zM72 214h1v4h-1zM73 218h1v3h-1zM74 221h1v4h-1zM75 225h1v4h-1zM76 229h1v4h-1zM77 233h1v4h-1zM78 237h1v4h-1zM79 241h1v5h-1zM80 246h1v5h-1zM81 251h1v4h-1zM82 255h1v5h-1zM83 260h1v5h-1zM84 265h1v4h-1zM85 269h1v4h-1zM86 273h1v2h-1zM87 275h1v2h-1zM88 277h1v2h-1zM89 279h1v3h-1zM90 282h1v2h-1zM91 284h1v2h-1zM92 286h1v2h-1zM93 288h1v2h-1zM94 290h1v2h-1zM95 292h1v2h-1zM96 294h1v2h-1zM97 296h1v2h-1zM98 298h1v2h-1zM99 300h1v2h-1zM100 302h1v2h-1zM101 304h1v3h-1zM102 307h1v5h-1zM103 312h1v6h-1zM104 318h1v5h-1zM105 323h1v5h-1zM106 328h1v5h-1zM107 333h1v6h-1zM108 339h1v5h-1zM109 344h1v5h-1zM110 349h1v4h-1zM111 353h1v4h-1zM112 357h1v4h-1zM113 361h1v4h-1zM114 365h1v4h-1zM115 369h1v4h-1zM116 373h1v4h-1zM117 377h1v4h-1zM118 381h1v4h-1zM119 385h1v4h-1zM120 389h1v3h-1zM121 392h1v4h-1zM122 396h1v3h-1zM123 399h1v4h-1zM124 403h1v4h-1zM125 407h1v2h-1zM126 409h1v2h-1zM127 411h1v2h-1zM128 413h1v2h-1zM129 415h1v1h-1zM130 416h1v2h-1zM131 418h1v2h-1zM132 420h1v2h-1zM133 422h1v1h-1zM134 423h1v1h-1zM135 424h1v1h-1zM136 425h1v1h-1zM137 426h1v2h-1zM138 428h1v1h-1zM139 429h1v1h-1zM140 430h1v1h-1zM141 431h2v1h-2zM143 432h3v1h-3zM146 433h2v1h-2zM148 434h2v1h-2zM150 435h1v1h-1zM151 436h1v1h-1zM152 437h2v1h-2zM154 438h1v1h-1zM155 439h1v1h-1zM156 440h1v1h-1zM157 441h1v1h-1zM158 442h1v2h-1zM159 444h1v1h-1zM160 445h1v1h-1zM161 446h1v2h-1zM162 448h1v1h-1zM163 449h1v1h-1zM164 450h1v2h-1zM165 452h3v1h-3zM168 451h4v1h-4zM172 450h2v1h-2zM174 449h2v1h-2zM176 448h2v1h-2zM178 447h1v1h-1zM179 446h2v1h-2zM181 445h2v1h-2zM183 444h3v1h-3zM186 443h2v1h-2zM188 442h2v1h-2zM190 441h1v1h-1zM191 439h1v2h-1zM192 438h1v1h-1zM193 437h1v1h-1zM194 436h1v1h-1zM195 434h1v2h-1zM196 433h1v1h-1zM197 432h1v1h-1zM198 430h1v2h-1zM199 428h1v2h-1zM200 427h1v1h-1zM201 425h1v2h-1zM202 424h1v1h-1zM203 422h1v2h-1zM204 420h1v2h-1zM205 419h1v1h-1zM206 417h1v2h-1zM207 416h1v1h-1zM208 414h1v2h-1zM209 413h1v1h-1zM210 411h1v2h-1zM211 410h1v1h-1zM212 408h1v2h-1zM213 407h1v1h-1zM214 406h1v1h-1zM215 404h1v2h-1zM216 403h1v1h-1zM217 402h1v1h-1zM218 401h1v1h-1zM219 399h1v2h-1zM220 398h1v1h-1zM221 397h1v1h-1zM222 396h1v1h-1zM223 395h1v1h-1zM224 394h2v1h-2zM226 393h1v1h-1zM227 392h1v1h-1zM228 391h1v1h-1zM229 390h1v1h-1zM230 391h1v1h-1zM231 392h1v1h-1zM232 393h1v1h-1zM233 394h1v1h-1zM234 395h1v1h-1zM235 396h1v1h-1zM236 397h1v1h-1zM237 398h1v1h-1zM238 399h2v1h-2zM240 400h1v1h-1zM241 401h1v1h-1zM242 402h2v1h-2zM244 403h1v1h-1zM245 404h9v1h-9zM254 403h2v1h-2zM256 402h2v1h-2zM258 401h1v1h-1zM259 400h2v1h-2zM261 399h10v1h-10zM271 400h3v1h-3zM274 401h2v1h-2zM276 402h3v1h-3zM279 401h2v1h-2zM281 400h2v1h-2zM283 399h2v1h-2zM285 398h5v1h-5zM290 399h8v1h-8zM298 400h5v1h-5zM303 401h2v1h-2zM305 402h2v1h-2zM307 403h2v1h-2zM309 404h1v2h-1zM310 406h1v2h-1zM311 408h1v2h-1zM312 410h1v2h-1zM313 412h1v2h-1zM314 414h1v2h-1zM315 416h1v2h-1zM316 418h1v2h-1zM317 420h1v2h-1zM318 422h1v1h-1zM319 423h1v1h-1zM320 424h2v1h-2zM322 425h1v1h-1zM323 426h1v1h-1zM324 427h1v1h-1zM325 428h10v1h-10zM335 427h3v1h-3zM338 426h2v1h-2zM340 425h14v1h-14zM354 426h24v1h-24zM378 427h5v1h-5zM383 428h3v1h-3zM386 429h2v1h-2zM388 430h2v1h-2zM390 429h1v1h-1zM391 428h1v1h-1zM392 427h1v1h-1zM393 425h1v2h-1zM394 424h1v1h-1zM395 423h1v1h-1zM396 422h1v1h-1zM397 421h1v1h-1zM398 420h1v1h-1zM399 419h1v1h-1zM400 418h2v1h-2zM402 417h1v1h-1zM403 416h1v1h-1zM404 415h1v1h-1zM405 414h1v1h-1zM406 413h1v1h-1zM407 412h1v1h-1zM408 411h1v1h-1zM409 410h1v1h-1zM410 409h1v1h-1zM411 408h1v1h-1zM412 407h1v1h-1zM413 405h1v2h-1zM414 403h1v2h-1zM415 401h1v2h-1zM416 399h1v2h-1zM417 397h1v2h-1zM418 395h1v2h-1zM419 393h1v2h-1zM420 391h1v2h-1zM421 389h1v2h-1zM422 386h1v3h-1zM423 382h1v4h-1zM424 379h1v3h-1zM425 376h1v3h-1zM426 373h1v3h-1zM427 369h1v4h-1zM428 366h1v3h-1zM429 363h1v3h-1zM430 359h1v4h-1zM431 355h1v4h-1zM432 351h1v4h-1zM433 348h1v3h-1zM434 344h1v4h-1zM435 340h1v4h-1zM436 336h1v4h-1zM437 334h1v2h-1zM438 332h1v2h-1zM439 330h1v2h-1zM440 328h1v2h-1zM441 326h1v2h-1zM442 324h1v2h-1zM443 322h1v2h-1zM444 320h1v2h-1zM445 319h1v1h-1zM446 317h1v2h-1zM447 315h1v2h-1zM448 313h1v2h-1zM449 312h1v1h-1zM450 310h1v2h-1zM451 308h1v2h-1zM452 306h1v2h-1zM453 304h1v2h-1zM454 302h1v2h-1zM455 300h1v2h-1zM456 297h1v3h-1zM457 295h1v2h-1zM458 292h1v3h-1zM459 290h1v2h-1zM460 288h1v2h-1zM461 285h1v3h-1zM462 283h1v2h-1zM463 281h1v2h-1zM464 279h1v2h-1zM465 277h1v2h-1zM466 275h1v2h-1zM467 273h1v2h-1zM468 271h1v2h-1zM469 270h2v1h-2zM471 269h2v1h-2zM473 268h2v1h-2zM475 267h2v1h-2zM477 266h1v1h-1zM478 265h2v1h-2zM480 264h2v1h-2zM482 263h1v1h-1zM483 262h2v1h-2zM485 261h1v1h-1zM486 259h1v2h-1zM487 258h1v1h-1zM488 257h1v1h-1zM489 255h1v2h-1zM490 254h1v1h-1zM491 253h1v1h-1zM492 251h1v2h-1zM493 249h1v2h-1zM494 247h1v2h-1zM495 245h1v2h-1zM496 243h1v2h-1zM497 241h1v2h-1zM498 239h1v2h-1zM499 237h1v2h-1zM500 235h1v2h-1zM501 234h1v1h-1zM502 232h1v2h-1zM503 230h1v2h-1zM504 228h1v2h-1zM505 227h1v1h-1zM506 225h1v2h-1zM507 223h1v2h-1zM508 221h1v2h-1zM509 220h1v1h-1zM510 219h1v1h-1zM511 218h1v1h-1zM512 217h1v1h-1zM513 216h1v1h-1zM514 215h1v1h-1zM515 214h1v1h-1zM516 213h1v1h-1zM517 212h9v1h-9zM526 213h2v1h-2zM528 214h1v1h-1zM529 215h1v1h-1zM530 216h2v1h-2zM532 217h1v1h-1zM533 218h1v1h-1zM534 219h1v1h-1zM535 220h1v1h-1zM536 221h1v1h-1zM537 222h1v2h-1zM538 224h1v1h-1zM539 225h1v1h-1zM540 226h1v1h-1zM541 227h1v1h-1zM542 228h1v1h-1zM543 229h1v1h-1zM544 230h2v1h-2zM546 231h1v1h-1zM547 232h1v1h-1zM548 233h1v1h-1zM549 234h1v1h-1zM550 235h1v2h-1zM551 237h1v2h-1zM552 239h1v2h-1zM553 241h1v1h-1zM554 242h1v2h-1zM555 244h1v2h-1zM556 246h1v2h-1zM557 248h1v2h-1zM558 250h1v2h-1zM559 252h1v2h-1zM560 254h1v3h-1zM561 257h1v2h-1zM562 259h1v3h-1zM563 262h1v2h-1zM564 264h1v2h-1zM565 266h1v2h-1zM566 268h1v1h-1zM567 269h1v1h-1zM568 270h1v1h-1zM569 271h1v2h-1zM570 273h1v1h-1zM571 274h1v1h-1zM572 275h1v1h-1zM573 276h1v1h-1zM574 277h1v1h-1zM575 278h1v1h-1zM576 279h1v1h-1zM577 280h1v1h-1zM578 281h1v1h-1zM579 282h1v1h-1zM580 283h1v1h-1zM581 284h2v1h-2zM583 285h3v1h-3zM586 286h2v1h-2zM588 287h2v1h-2zM590 288h2v1h-2zM592 289h1v1h-1zM593 290h1v1h-1zM594 291h2v1h-2zM596 292h1v1h-1zM597 293h1v1h-1zM598 294h2v1h-2zM600 295h1v1h-1zM601 296h1v1h-1zM602 297h2v1h-2zM604 298h1v1h-1zM605 299h1v1h-1zM606 300h2v1h-2zM608 301h2v1h-2zM610 302h1v1h-1zM611 303h2v1h-2zM613 304h5v1h-5zM618 305h8v1h-8zM626 306h4v1h-4zM630 305h1v1h-1zM631 304h1v1h-1zM632 303h2v1h-2zM634 302h1v1h-1zM635 301h1v1h-1zM636 300h1v1h-1zM637 299h1v1h-1zM638 300h1v2h-1zM639 302h1v1h-1zM640 303h1v1h-1zM641 304h1v2h-1zM642 306h1v1h-1zM643 307h1v1h-1zM644 308h1v2h-1zM645 310h2v1h-2zM647 309h2v1h-2zM649 308h2v1h-2zM651 307h2v1h-2zM653 306h2v1h-2zM655 305h3v1h-3zM658 304h2v1h-2zM660 303h4v1h-4zM664 302h4v1h-4zM668 301h4v1h-4zM672 300h4v1h-4zM676 299h14v1h-14zM690 300h6v1h-6zM696 301h4v1h-4zM700 302h2v1h-2zM702 303h2v1h-2zM704 304h1v1h-1zM705 305h1v1h-1zM706 306h2v1h-2zM708 307h1v1h-1zM709 308h1v1h-1zM710 309h2v1h-2zM712 310h2v1h-2zM714 311h1v1h-1zM715 312h2v1h-2zM717 313h3v1h-3zM720 312h4v1h-4zM724 311h4v1h-4zM728 312h4v1h-4zM732 313h6v1h-6zM738 312h8v1h-8zM746 311h6v1h-6zM752 312h4v1h-4zM756 313h4v1h-4zM760 312h4v1h-4zM764 311h3v1h-3zM767 310h2v1h-2zM769 309h2v1h-2zM771 308h2v1h-2zM773 307h2v1h-2zM775 306h2v1h-2zM777 305h2v1h-2zM779 304h2v1h-2zM781 303h5v1h-5zM786 304h4v1h-4zM790 305h2v1h-2zM792 306h1v1h-1zM793 307h1v1h-1zM794 308h2v1h-2zM796 309h1v1h-1zM797 310h1v1h-1zM798 309h2v1h-2zM800 308h1v1h-1zM801 307h1v1h-1zM802 306h2v1h-2zM804 305h1v1h-1zM805 304h1v1h-1zM806 305h1v1h-1zM807 306h1v1h-1zM808 307h2v1h-2zM810 308h1v1h-1zM811 309h1v1h-1zM812 310h1v1h-1zM813 311h2v1h-2zM815 312h2v1h-2zM817 313h2v1h-2zM819 314h2v1h-2zM821 315h1v1h-1zM822 316h2v1h-2zM824 317h1v1h-1zM825 318h1v1h-1zM826 319h2v1h-2zM828 320h1v1h-1zM829 321h1v2h-1zM830 323h1v3h-1zM831 326h1v2h-1zM832 328h1v3h-1zM833 331h1v3h-1zM834 334h1v3h-1zM835 337h1v2h-1zM836 339h1v3h-1zM837 342h1v3h-1zM838 345h1v3h-1zM839 348h1v3h-1zM840 351h1v3h-1zM841 354h1v3h-1zM842 357h1v3h-1zM843 360h1v3h-1zM844 363h1v3h-1zM845 366h1v3h-1zM846 369h1v3h-1zM847 372h1v3h-1zM848 375h1v3h-1zM849 378h1v2h-1zM850 380h1v3h-1zM851 383h1v3h-1zM852 386h1v3h-1zM853 389h1v3h-1zM854 392h1v3h-1zM855 395h1v4h-1zM856 399h1v3h-1zM857 402h1v3h-1zM858 405h1v3h-1zM859 408h1v4h-1zM860 412h1v3h-1zM861 415h1v3h-1zM862 418h1v3h-1zM863 421h1v3h-1zM864 424h1v3h-1zM865 427h1v4h-1zM866 431h1v3h-1zM867 434h1v3h-1zM868 437h1v3h-1zM869 440h1v3h-1zM870 443h1v2h-1zM871 445h1v3h-1zM872 448h1v3h-1zM873 451h1v2h-1zM874 453h1v3h-1zM875 456h1v3h-1zM876 459h1v2h-1zM877 461h1v2h-1zM878 463h1v1h-1zM879 464h1v1h-1zM880 465h1v1h-1zM881 466h1v2h-1zM882 468h1v1h-1zM883 469h1v1h-1zM884 470h1v1h-1zM885 471h1v1h-1zM886 472h1v1h-1zM887 473h1v1h-1zM888 474h1v1h-1zM889 475h1v1h-1zM890 476h1v1h-1zM891 477h1v1h-1zM892 478h1v1h-1zM893 479h1v1h-1zM894 480h1v1h-1zM895 481h1v1h-1zM896 482h2v1h-2zM898 483h1v1h-1zM899 484h1v1h-1zM900 485h1v1h-1zM901 486h2v1h-2zM903 487h3v1h-3zM906 488h2v1h-2zM908 489h2v1h-2zM910 490h1v1h-1zM911 491h1v1h-1zM912 492h1v1h-1zM913 493h1v2h-1zM914 495h1v1h-1zM915 496h1v1h-1zM916 497h1v1h-1zM917 498h3v1h-3zM920 499h4v1h-4zM924 500h2v1h-2zM926 501h2v1h-2zM928 502h1v1h-1zM929 503h1v1h-1zM930 504h2v1h-2zM932 505h1v1h-1zM933 506h1v1h-1zM934 507h1v1h-1zM935 508h1v1h-1zM936 509h2v1h-2zM938 510h1v1h-1zM939 511h1v1h-1zM940 512h1v1h-1zM941 513h5v1h-5zM946 514h6v1h-6zM952 513h4v1h-4zM956 512h2v1h-2zM958 511h2v1h-2zM960 510h2v1h-2zM962 509h1v1h-1zM963 508h2v1h-2zM965 507h1v1h-1zM966 506h1v1h-1zM967 505h1v1h-1zM968 504h2v1h-2zM970 503h1v1h-1zM971 502h1v1h-1zM972 501h1v1h-1zM973 500h1v1h-1zM974 499h1v1h-1zM975 497h1v2h-1zM976 496h1v1h-1zM977 495h1v1h-1zM978 494h1v1h-1zM979 492h1v2h-1zM980 491h1v1h-1zM981 490h1v1h-1zM982 488h1v2h-1zM983 486h1v2h-1zM984 484h1v2h-1zM985 482h1v2h-1zM986 480h1v2h-1zM987 478h1v2h-1zM988 476h1v2h-1zM989 475h19v1h-19zM1008 476h4v1h-4zM1012 477h6v1h-6zM1018 476h6v1h-6zM1024 475h4v1h-4zM1028 474h3v1h-3zM1031 473h3v1h-3zM1034 472h2v1h-2zM1036 471h4v1h-4zM1040 472h4v1h-4zM1044 473h3v1h-3zM1047 474h2v1h-2zM1049 475h2v1h-2zM1051 476h2v1h-2zM1053 477h1v1h-1zM1054 478h1v2h-1zM1055 480h1v1h-1zM1056 481h1v1h-1zM1057 482h1v2h-1zM1058 484h1v1h-1zM1059 485h1v1h-1zM1060 486h1v2h-1zM1061 488h1v1h-1zM1062 489h2v1h-2zM1064 490h2v1h-2zM1066 491h1v1h-1zM1067 492h2v1h-2zM1069 493h1v1h-1zM1070 494h1v1h-1zM1071 495h1v2h-1zM1072 497h1v1h-1zM1073 498h1v1h-1zM1074 499h1v1h-1zM1075 500h1v2h-1zM1076 502h1v1h-1zM1077 503h1v1h-1zM1078 504h1v2h-1zM1079 506h1v2h-1zM1080 508h1v1h-1zM1081 509h1v2h-1zM1082 511h1v1h-1zM1083 512h1v2h-1zM1084 514h1v2h-1zM1085 516h1v2h-1zM1086 518h1v2h-1zM1087 520h1v2h-1zM1088 522h1v2h-1zM1089 524h1v2h-1zM1090 526h1v2h-1zM1091 528h1v2h-1zM1092 530h1v2h-1zM1093 532h1v2h-1zM1094 534h1v2h-1zM1095 536h1v2h-1zM1096 538h1v2h-1zM1097 540h1v2h-1zM1098 542h1v2h-1zM1099 544h1v2h-1zM1100 546h1v2h-1zM1101 548h1v1h-1zM1102 549h1v2h-1zM1103 551h1v2h-1zM1104 553h1v2h-1zM1105 555h1v2h-1zM1106 557h1v2h-1zM1107 559h1v2h-1zM1108 561h1v2h-1zM1109 563h1v1h-1zM1110 564h1v2h-1zM1111 566h1v2h-1zM1112 568h1v1h-1zM1113 569h1v2h-1zM1114 571h1v1h-1zM1115 572h1v2h-1zM1116 574h1v2h-1zM1117 576h1v1h-1zM1118 577h1v1h-1zM1119 578h1v1h-1zM1167 578h1v1h-1zM1168 576h1v2h-1zM1169 575h1v1h-1zM1170 573h1v2h-1zM1171 572h1v1h-1zM1172 570h1v2h-1zM1173 569h1v1h-1zM1174 568h1v1h-1zM1175 567h1v1h-1zM1176 566h1v1h-1zM1177 564h1v2h-1zM1178 563h1v1h-1zM1179 562h1v1h-1zM1180 561h1v1h-1zM1181 560h5v1h-5zM1186 559h6v1h-6zM1192 558h4v1h-4zM1196 557h2v1h-2zM1198 556h1v1h-1zM1199 555h1v1h-1zM1200 554h2v1h-2zM1202 553h1v1h-1zM1203 552h1v1h-1zM1204 551h1v1h-1zM1205 550h18v1h-18zM1223 549h3v1h-3zM1226 548h2v1h-2zM1228 547h18v1h-18zM1246 546h2v1h-2zM1248 545h2v1h-2zM1250 544h1v1h-1zM1251 543h2v1h-2zM1253 542h2v1h-2zM1255 541h2v1h-2zM1257 540h2v1h-2zM1259 539h2v1h-2zM1261 538h3v1h-3zM1264 539h4v1h-4zM1268 540h4v1h-4zM1272 539h4v1h-4zM1276 538h6v1h-6zM1282 537h8v1h-8zM1290 538h4v1h-4zM1294 539h2v1h-2zM1296 540h1v1h-1zM1297 541h1v1h-1zM1298 542h2v1h-2zM1300 543h1v1h-1zM1301 544h2v1h-2zM1303 545h3v1h-3zM1306 546h2v1h-2zM1308 547h2v1h-2zM1310 548h2v1h-2zM1312 549h1v1h-1zM1313 550h1v1h-1zM1314 551h2v1h-2zM1316 552h1v1h-1zM1317 553h3v1h-3zM1320 554h4v1h-4zM1324 555h2v1h-2zM1326 556h1v2h-1zM1327 558h1v2h-1zM1328 560h1v1h-1zM1329 561h1v2h-1zM1330 563h1v1h-1zM1331 564h1v2h-1zM1332 566h1v2h-1zM1333 568h1v1h-1zM1334 569h1v1h-1zM1335 570h1v1h-1zM1336 571h1v1h-1zM1337 572h1v1h-1zM1338 573h1v1h-1zM1339 574h1v1h-1zM1340 575h1v1h-1zM1341 576h1v1h-1zM1342 577h2v1h-2zM1344 578h2v1h-2zM1378 578h1v1h-1zM1379 577h2v1h-2zM1381 576h1v1h-1zM1382 575h2v1h-2zM1384 574h1v1h-1zM1385 573h1v1h-1zM1386 572h2v1h-2zM1388 571h1v1h-1zM1389 570h1v1h-1zM1390 569h1v1h-1zM1391 568h1v1h-1zM1392 567h1v1h-1zM1393 566h1v1h-1zM1394 565h1v1h-1zM1395 564h1v1h-1zM1396 563h1v1h-1zM1397 562h1v1h-1zM1398 561h1v1h-1zM1399 560h1v1h-1zM1400 559h1v1h-1zM1401 558h1v1h-1zM1402 557h1v1h-1zM1403 556h1v1h-1zM1404 555h1v1h-1zM1405 554h1v1h-1zM1406 552h1v2h-1zM1407 550h1v2h-1zM1408 549h1v1h-1zM1409 547h1v2h-1zM1410 546h1v1h-1zM1411 544h1v2h-1zM1412 542h1v2h-1zM1413 540h1v2h-1zM1414 537h1v3h-1zM1415 535h1v2h-1zM1416 532h1v3h-1zM1417 529h1v3h-1zM1418 526h1v3h-1zM1419 524h1v2h-1zM1420 521h1v3h-1zM1421 519h1v2h-1z" fill="#3CB371" />
<rect x="5" y="112" width="1" height="38" fill="#000" />
<rect x="3" y="112" width="5" height="29" fill="#000"/>
<rect x="13" y="61" width="1" height="62" fill="#000" />
<rect x="11" y="65" width="5" height="53" fill="#000"/>
<rect x="12" y="66" width="3" height="51" fill="#fff"/>
<rect x="21" y="59" width="1" height="17" fill="#000" />
<rect x="19" y="62" width="5" height="4" fill="#000"/>
<rect x="29" y="89" width="1" height="55" fill="#000" />
<rect x="27" y="91" width="5" height="49" fill="#000"/>
<rect x="37" y="117" width="1" height="40" fill="#000" />
<rect x="35" y="119" width="5" height="22" fill="#000"/>
<rect x="36" y="120" width="3" height="20" fill="#fff"/>
<rect x="45" y="106" width="1" height="44" fill="#000" />
<rect x="43" y="118" width="5" height="8" fill="#000"/>
<rect x="53" y="124" width="1" height="63" fill="#000" />
<rect x="51" y="126" width="5" height="44" fill="#000"/>
<rect x="61" y="174" width="1" height="45" fill="#000" />
<rect x="59" y="186" width="5" height="10" fill="#000"/>
<rect x="69" y="191" width="1" height="45" fill="#000" />
<rect x="67" y="194" width="5" height="34" fill="#000"/>
<rect x="77" y="224" width="1" height="78" fill="#000" />
<rect x="75" y="234" width="5" height="67" fill="#000"/>
<rect x="85" y="279" width="1" height="28" fill="#000" />
<rect x="83" y="282" width="5" height="19" fill="#000"/>
<rect x="84" y="283" width="3" height="17" fill="#fff"/>
<rect x="93" y="258" width="1" height="60" fill="#000" />
<rect x="91" y="268" width="5" height="15" fill="#000"/>
<rect x="92" y="269" width="3" height="13" fill="#fff"/>
<rect x="101" y="243" width="1" height="37" fill="#000" />
<rect x="99" y="250" width="5" height="21" fill="#000"/>
<rect x="100" y="251" width="3" height="19" fill="#fff"/>
<rect x="109" y="273" width="1" height="127" fill="#000" />
<rect x="107" y="281" width="5" height="106" fill="#000"/>
<rect x="117" y="354" width="1" height="37" fill="#000" />
<rect x="115" y="366" width="5" height="23" fill="#000"/>
<rect x="116" y="367" width="3" height="21" fill="#fff"/>
<rect x="125" y="350" width="1" height="59" fill="#000" />
<rect x="123" y="374" width="5" height="10" fill="#000"/>
<rect x="124" y="375" width="3" height="8" fill="#fff"/>
<rect x="133" y="338" width="1" height="54" fill="#000" />
<rect x="131" y="350" width="5" height="27" fill="#000"/>
<rect x="132" y="351" width="3" height="25" fill="#fff"/>
<rect x="141" y="262" width="1" height="65" fill="#000" />
<rect x="139" y="310" width="5" height="14" fill="#000"/>
<rect x="149" y="300" width="1" height="35" fill="#000" />
<rect x="147" y="301" width="5" height="21" fill="#000"/>
<rect x="148" y="302" width="3" height="19" fill="#fff"/>
<rect x="157" y="290" width="1" height="46" fill="#000" />
<rect x="155" y="308" width="5" height="17" fill="#000"/>
<rect x="156" y="309" width="3" height="15" fill="#fff"/>
<rect x="165" y="304" width="1" height="67" fill="#000" />
<rect x="163" y="310" width="5" height="43" fill="#000"/>
<rect x="173" y="306" width="1" height="70" fill="#000" />
<rect x="171" y="338" width="5" height="38" fill="#000"/>
<rect x="172" y="339" width="3" height="36" fill="#fff"/>
<rect x="181" y="324" width="1" height="37" fill="#000" />
<rect x="179" y="339" width="5" height="13" fill="#000"/>
<rect x="189" y="287" width="1" height="67" fill="#000" />
<rect x="187" y="305" width="5" height="43" fill="#000"/>
<rect x="188" y="306" width="3" height="41" fill="#fff"/>
<rect x="197" y="284" width="1" height="39" fill="#000" />
<rect x="195" y="304" width="5" height="9" fill="#000"/>
<rect x="205" y="317" width="1" height="60" fill="#000" />
<rect x="203" y="330" width="5" height="8" fill="#000"/>
<rect x="204" y="331" width="3" height="6" fill="#fff"/>
<rect x="213" y="280" width="1" height="54" fill="#000" />
<rect x="211" y="301" width="5" height="27" fill="#000"/>
<rect x="212" y="302" width="3" height="25" fill="#fff"/>
<rect x="221" y="297" width="1" height="39" fill="#000" />
<rect x="219" y="317" width="5" height="5" fill="#000"/>
<rect x="220" y="318" width="3" height="3" fill="#fff"/>
<rect x="229" y="286" width="1" height="33" fill="#000" />
<rect x="227" y="301" width="5" height="16" fill="#000"/>
<rect x="228" y="302" width="3" height="14" fill="#fff"/>
<rect x="237" y="319" width="1" height="80" fill="#000" />
<rect x="235" y="329" width="5" height="53" fill="#000"/>
<rect x="245" y="364" width="1" height="32" fill="#000" />
<rect x="243" y="377" width="5" height="4" fill="#000"/>
<rect x="253" y="359" width="1" height="68" fill="#000" />
<rect x="251" y="361" width="5" height="35" fill="#000"/>
<rect x="252" y="362" width="3" height="33" fill="#fff"/>
<rect x="261" y="350" width="1" height="29" fill="#000" />
<rect x="259" y="364" width="5" height="4" fill="#000"/>
<rect x="269" y="347" width="1" height="65" fill="#000" />
<rect x="267" y="347" width="5" height="39" fill="#000"/>
<rect x="277" y="362" width="1" height="35" fill="#000" />
<rect x="275" y="381" width="5" height="8" fill="#000"/>
<rect x="276" y="382" width="3" height="6" fill="#fff"/>
<rect x="285" y="296" width="1" height="49" fill="#000" />
<rect x="283" y="303" width="5" height="42" fill="#000"/>
<rect x="284" y="304" width="3" height="40" fill="#fff"/>
<rect x="293" y="274" width="1" height="38" fill="#000" />
<rect x="291" y="285" width="5" height="24" fill="#000"/>
<rect x="292" y="286" width="3" height="22" fill="#fff"/>
<rect x="301" y="234" width="1" height="62" fill="#000" />
<rect x="299" y="248" width="5" height="43" fill="#000"/>
<rect x="309" y="257" width="1" height="38" fill="#000" />
<rect x="307" y="258" width="5" height="34" fill="#000"/>
<rect x="308" y="259" width="3" height="32" fill="#fff"/>
<rect x="317" y="184" width="1" height="53" fill="#000" />
<rect x="315" y="185" width="5" height="52" fill="#000"/>
<rect x="316" y="186" width="3" height="50" fill="#fff"/>
<rect x="325" y="178" width="1" height="25" fill="#000" />
<rect x="323" y="184" width="5" height="11" fill="#000"/>
<rect x="333" y="212" width="1" height="41" fill="#000" />
<rect x="331" y="229" width="5" height="19" fill="#000"/>
<rect x="332" y="230" width="3" height="17" fill="#fff"/>
<rect x="341" y="224" width="1" height="35" fill="#000" />
<rect x="339" y="229" width="5" height="17" fill="#000"/>
<rect x="349" y="238" width="1" height="1" fill="#000" />
<rect x="347" y="238" width="5" height="1" fill="#000"/>
<rect x="357" y="201" width="1" height="52" fill="#000" />
<rect x="355" y="212" width="5" height="3" fill="#000"/>
<rect x="365" y="184" width="1" height="32" fill="#000" />
<rect x="363" y="188" width="5" height="26" fill="#000"/>
<rect x="364" y="189" width="3" height="24" fill="#fff"/>
<rect x="373" y="170" width="1" height="51" fill="#000" />
<rect x="371" y="175" width="5" height="30" fill="#000"/>
<rect x="381" y="167" width="1" height="55" fill="#000" />
<rect x="379" y="170" width="5" height="37" fill="#000"/>
<rect x="380" y="171" width="3" height="35" fill="#fff"/>
<rect x="389" y="118" width="1" height="51" fill="#000" />
<rect x="387" y="134" width="5" height="28" fill="#000"/>
<rect x="388" y="135" width="3" height="26" fill="#fff"/>
<rect x="397" y="117" width="1" height="21" fill="#000" />
<rect x="395" y="122" width="5" height="14" fill="#000"/>
<rect x="396" y="123" width="3" height="12" fill="#fff"/>
<rect x="405" y="63" width="1" height="48" fill="#000" />
<rect x="403" y="73" width="5" height="24" fill="#000"/>
<rect x="404" y="74" width="3" height="22" fill="#fff"/>
<rect x="413" y="63" width="1" height="26" fill="#000" />
<rect x="411" y="67" width="5" height="7" fill="#000"/>
<rect x="412" y="68" width="3" height="5" fill="#fff"/>
<rect x="421" y="58" width="1" height="29" fill="#000" />
<rect x="419" y="74" width="5" height="9" fill="#000"/>
<rect x="429" y="84" width="1" height="32" fill="#000" />
<rect x="427" y="85" width="5" height="10" fill="#000"/>
<rect x="437" y="65" width="1" height="32" fill="#000" />
<rect x="435" y="71" width="5" height="7" fill="#000"/>
<rect x="445" y="69" width="1" height="23" fill="#000" />
<rect x="443" y="74" width="5" height="4" fill="#000"/>
<rect x="444" y="75" width="3" height="2" fill="#fff"/>
<rect x="453" y="62" width="1" height="44" fill="#000" />
<rect x="451" y="71" width="5" height="20" fill="#000"/>
<rect x="452" y="72" width="3" height="18" fill="#fff"/>
<rect x="461" y="64" width="1" height="15" fill="#000" />
<rect x="459" y="66" width="5" height="4" fill="#000"/>
<rect x="469" y="53" width="1" height="38" fill="#000" />
<rect x="467" y="56" width="5" height="30" fill="#000"/>
<rect x="477" y="82" width="1" height="23" fill="#000" />
<rect x="475" y="85" width="5" height="1" fill="#000"/>
<rect x="485" y="120" width="1" height="41" fill="#000" />
<rect x="483" y="125" width="5" height="25" fill="#000"/>
<rect x="493" y="144" width="1" height="16" fill="#000" />
<rect x="491" y="148" width="5" height="3" fill="#000"/>
<rect x="501" y="132" width="1" height="37" fill="#000" />
<rect x="499" y="153" width="5" height="4" fill="#000"/>
<rect x="509" y="144" width="1" height="32" fill="#000" />
<rect x="507" y="156" width="5" height="18" fill="#000"/>
<rect x="517" y="165" width="1" height="32" fill="#000" />
<rect x="515" y="165" width="5" height="11" fill="#000"/>
<rect x="525" y="170" width="1" height="22" fill="#000" />
<rect x="523" y="178" width="5" height="11" fill="#000"/>
<rect x="533" y="190" width="1" height="55" fill="#000" />
<rect x="531" y="193" width="5" height="34" fill="#000"/>
<rect x="541" y="212" width="1" height="15" fill="#000" />
<rect x="539" y="218" width="5" height="9" fill="#000"/>
<rect x="540" y="219" width="3" height="7" fill="#fff"/>
<rect x="549" y="144" width="1" height="57" fill="#000" />
<rect x="547" y="164" width="5" height="27" fill="#000"/>
<rect x="557" y="190" width="1" height="43" fill="#000" />
<rect x="555" y="190" width="5" height="42" fill="#000"/>
<rect x="565" y="211" width="1" height="57" fill="#000" />
<rect x="563" y="243" width="5" height="17" fill="#000"/>
<rect x="573" y="228" width="1" height="38" fill="#000" />
<rect x="571" y="231" width="5" height="30" fill="#000"/>
<rect x="572" y="232" width="3" height="28" fill="#fff"/>
<rect x="581" y="205" width="1" height="33" fill="#000" />
<rect x="579" y="216" width="5" height="11" fill="#000"/>
<rect x="589" y="199" width="1" height="36" fill="#000" />
<rect x="587" y="205" width="5" height="22" fill="#000"/>
<rect x="588" y="206" width="3" height="20" fill="#fff"/>
<rect x="597" y="230" width="1" height="42" fill="#000" />
<rect x="595" y="239" width="5" height="7" fill="#000"/>
<rect x="596" y="240" width="3" height="5" fill="#fff"/>
<rect x="605" y="237" width="1" height="43" fill="#000" />
<rect x="603" y="240" width="5" height="12" fill="#000"/>
<rect x="613" y="256" width="1" height="32" fill="#000" />
<rect x="611" y="271" width="5" height="8" fill="#000"/>
<rect x="612" y="272" width="3" height="6" fill="#fff"/>
<rect x="621" y="261" width="1" height="20" fill="#000" />
<rect x="619" y="270" width="5" height="4" fill="#000"/>
<rect x="620" y="271" width="3" height="2" fill="#fff"/>
<rect x="629" y="236" width="1" height="48" fill="#000" />
<rect x="627" y="255" width="5" height="19" fill="#000"/>
<rect x="637" y="257" width="1" height="19" fill="#000" />
<rect x="635" y="264" width="5" height="12" fill="#000"/>
<rect x="636" y="265" width="3" height="10" fill="#fff"/>
<rect x="645" y="257" width="1" height="57" fill="#000" />
<rect x="643" y="277" width="5" height="31" fill="#000"/>
<rect x="653" y="228" width="1" height="84" fill="#000" />
<rect x="651" y="230" width="5" height="78" fill="#000"/>
<rect x="652" y="231" width="3" height="76" fill="#fff"/>
<rect x="661" y="216" width="1" height="50" fill="#000" />
<rect x="659" y="243" width="5" height="17" fill="#000"/>
<rect x="660" y="244" width="3" height="15" fill="#fff"/>
<rect x="669" y="187" width="1" height="62" fill="#000" />
<rect x="667" y="204" width="5" height="43" fill="#000"/>
<rect x="668" y="205" width="3" height="41" fill="#fff"/>
<rect x="677" y="157" width="1" height="40" fill="#000" />
<rect x="675" y="164" width="5" height="29" fill="#000"/>
<rect x="685" y="183" width="1" height="24" fill="#000" />
<rect x="683" y="188" width="5" height="4" fill="#000"/>
<rect x="684" y="189" width="3" height="2" fill="#fff"/>
<rect x="693" y="170" width="1" height="37" fill="#000" />
<rect x="691" y="177" width="5" height="20" fill="#000"/>
<rect x="701" y="175" width="1" height="25" fill="#000" />
<rect x="699" y="179" width="5" height="18" fill="#000"/>
<rect x="700" y="180" width="3" height="16" fill="#fff"/>
<rect x="709" y="138" width="1" height="45" fill="#000" />
<rect x="707" y="140" width="5" height="41" fill="#000"/>
<rect x="708" y="141" width="3" height="39" fill="#fff"/>
<rect x="717" y="126" width="1" height="23" fill="#000" />
<rect x="715" y="140" width="5" height="2" fill="#000"/>
<rect x="725" y="142" width="1" height="24" fill="#000" />
<rect x="723" y="152" width="5" height="3" fill="#000"/>
<rect x="733" y="141" width="1" height="20" fill="#000" />
<rect x="731" y="143" width="5" height="11" fill="#000"/>
<rect x="732" y="144" width="3" height="9" fill="#fff"/>
<rect x="741" y="179" width="1" height="27" fill="#000" />
<rect x="739" y="182" width="5" height="13" fill="#000"/>
<rect x="749" y="185" width="1" height="19" fill="#000" />
<rect x="747" y="188" width="5" height="6" fill="#000"/>
<rect x="748" y="189" width="3" height="4" fill="#fff"/>
<rect x="757" y="224" width="1" height="41" fill="#000" />
<rect x="755" y="243" width="5" height="13" fill="#000"/>
<rect x="765" y="227" width="1" height="32" fill="#000" />
<rect x="763" y="234" width="5" height="23" fill="#000"/>
<rect x="764" y="235" width="3" height="21" fill="#fff"/>
<rect x="773" y="219" width="1" height="26" fill="#000" />
<rect x="771" y="234" width="5" height="5" fill="#000"/>
<rect x="781" y="236" width="1" height="18" fill="#000" />
<rect x="779" y="239" width="5" height="5" fill="#000"/>
<rect x="789" y="261" width="1" height="29" fill="#000" />
<rect x="787" y="276" width="5" height="6" fill="#000"/>
<rect x="788" y="277" width="3" height="4" fill="#fff"/>
<rect x="797" y="273" width="1" height="23" fill="#000" />
<rect x="795" y="277" width="5" height="19" fill="#000"/>
<rect x="805" y="274" width="1" height="25" fill="#000" />
<rect x="803" y="285" width="5" height="8" fill="#000"/>
<rect x="804" y="286" width="3" height="6" fill="#fff"/>
<rect x="813" y="253" width="1" height="37" fill="#000" />
<rect x="811" y="277" width="5" height="12" fill="#000"/>
<rect x="812" y="278" width="3" height="10" fill="#fff"/>
<rect x="821" y="271" width="1" height="32" fill="#000" />
<rect x="819" y="274" width="5" height="4" fill="#000"/>
<rect x="820" y="275" width="3" height="2" fill="#fff"/>
<rect x="829" y="266" width="1" height="15" fill="#000" />
<rect x="827" y="269" width="5" height="6" fill="#000"/>
<rect x="828" y="270" width="3" height="4" fill="#fff"/>
<rect x="837" y="307" width="1" height="45" fill="#000" />
<rect x="835" y="307" width="5" height="44" fill="#000"/>
<rect x="845" y="350" width="1" height="26" fill="#000" />
<rect x="843" y="350" width="5" height="22" fill="#000"/>
<rect x="853" y="356" width="1" height="44" fill="#000" />
<rect x="851" y="386" width="5" height="6" fill="#000"/>
<rect x="852" y="387" width="3" height="4" fill="#fff"/>
<rect x="861" y="386" width="1" height="29" fill="#000" />
<rect x="859" y="392" width="5" height="22" fill="#000"/>
<rect x="869" y="396" width="1" height="56" fill="#000" />
<rect x="867" y="399" width="5" height="42" fill="#000"/>
<rect x="877" y="437" width="1" height="67" fill="#000" />
<rect x="875" y="443" width="5" height="8" fill="#000"/>
<rect x="885" y="398" width="1" height="58" fill="#000" />
<rect x="883" y="406" width="5" height="40" fill="#000"/>
<rect x="884" y="407" width="3" height="38" fill="#fff"/>
<rect x="893" y="394" width="1" height="47" fill="#000" />
<rect x="891" y="402" width="5" height="32" fill="#000"/>
<rect x="901" y="406" width="1" height="49" fill="#000" />
<rect x="899" y="418" width="5" height="32" fill="#000"/>
<rect x="900" y="419" width="3" height="30" fill="#fff"/>
<rect x="909" y="404" width="1" height="25" fill="#000" />
<rect x="907" y="412" width="5" height="7" fill="#000"/>
<rect x="908" y="413" width="3" height="5" fill="#fff"/>
<rect x="917" y="422" width="1" height="39" fill="#000" />
<rect x="915" y="429" width="5" height="4" fill="#000"/>
<rect x="925" y="397" width="1" height="40" fill="#000" />
<rect x="923" y="406" width="5" height="27" fill="#000"/>
<rect x="924" y="407" width="3" height="25" fill="#fff"/>
<rect x="933" y="430" width="1" height="39" fill="#000" />
<rect x="931" y="450" width="5" height="11" fill="#000"/>
<rect x="932" y="451" width="3" height="9" fill="#fff"/>
<rect x="941" y="446" width="1" height="30" fill="#000" />
<rect x="939" y="450" width="5" height="22" fill="#000"/>
<rect x="949" y="409" width="1" height="38" fill="#000" />
<rect x="947" y="417" width="5" height="5" fill="#000"/>
<rect x="957" y="371" width="1" height="50" fill="#000" />
<rect x="955" y="373" width="5" height="47" fill="#000"/>
<rect x="956" y="374" width="3" height="45" fill="#fff"/>
<rect x="965" y="357" width="1" height="33" fill="#000" />
<rect x="963" y="362" width="5" height="21" fill="#000"/>
<rect x="973" y="370" width="1" height="17" fill="#000" />
<rect x="971" y="375" width="5" height="8" fill="#000"/>
<rect x="972" y="376" width="3" height="6" fill="#fff"/>
<rect x="981" y="328" width="1" height="26" fill="#000" />
<rect x="979" y="346" width="5" height="7" fill="#000"/>
<rect x="980" y="347" width="3" height="5" fill="#fff"/>
<rect x="989" y="335" width="1" height="19" fill="#000" />
<rect x="987" y="347" width="5" height="7" fill="#000"/>
<rect x="997" y="344" width="1" height="36" fill="#000" />
<rect x="995" y="355" width="5" height="21" fill="#000"/>
<rect x="996" y="356" width="3" height="19" fill="#fff"/>
<rect x="1005" y="356" width="1" height="33" fill="#000" />
<rect x="1003" y="357" width="5" height="23" fill="#000"/>
<rect x="1013" y="320" width="1" height="35" fill="#000" />
<rect x="1011" y="342" width="5" height="5" fill="#000"/>
<rect x="1012" y="343" width="3" height="3" fill="#fff"/>
<rect x="1021" y="339" width="1" height="47" fill="#000" />
<rect x="1019" y="342" width="5" height="32" fill="#000"/>
<rect x="1029" y="402" width="1" height="30" fill="#000" />
<rect x="1027" y="420" width="5" height="5" fill="#000"/>
<rect x="1037" y="420" width="1" height="20" fill="#000" />
<rect x="1035" y="425" width="5" height="8" fill="#000"/>
<rect x="1045" y="412" width="1" height="28" fill="#000" />
<rect x="1043" y="418" width="5" height="3" fill="#000"/>
<rect x="1053" y="422" width="1" height="50" fill="#000" />
<rect x="1051" y="422" width="5" height="40" fill="#000"/>
<rect x="1061" y="466" width="1" height="33" fill="#000" />
<rect x="1059" y="477" width="5" height="7" fill="#000"/>
<rect x="1069" y="442" width="1" height="41" fill="#000" />
<rect x="1067" y="450" width="5" height="33" fill="#000"/>
<rect x="1068" y="451" width="3" height="31" fill="#fff"/>
<rect x="1077" y="439" width="1" height="58" fill="#000" />
<rect x="1075" y="452" width="5" height="43" fill="#000"/>
<rect x="1085" y="476" width="1" height="25" fill="#000" />
<rect x="1083" y="491" width="5" height="8" fill="#000"/>
<rect x="1093" y="493" width="1" height="46" fill="#000" />
<rect x="1091" y="502" width="5" height="35" fill="#000"/>
<rect x="1101" y="522" width="1" height="45" fill="#000" />
<rect x="1099" y="537" width="5" height="13" fill="#000"/>
<rect x="1109" y="529" width="1" height="26" fill="#000" />
<rect x="1107" y="534" width="5" height="9" fill="#000"/>
<rect x="1108" y="535" width="3" height="7" fill="#fff"/>
<rect x="1117" y="506" width="1" height="34" fill="#000" />
<rect x="1115" y="532" width="5" height="5" fill="#000"/>
<rect x="1116" y="533" width="3" height="3" fill="#fff"/>
<rect x="1125" y="484" width="1" height="32" fill="#000" />
<rect x="1123" y="487" width="5" height="25" fill="#000"/>
<rect x="1133" y="501" width="1" height="21" fill="#000" />
<rect x="1131" y="504" width="5" height="8" fill="#000"/>
<rect x="1132" y="505" width="3" height="6" fill="#fff"/>
<rect x="1141" y="481" width="1" height="34" fill="#000" />
<rect x="1139" y="491" width="5" height="7" fill="#000"/>
<rect x="1149" y="486" width="1" height="16" fill="#000" />
<rect x="1147" y="488" width="5" height="10" fill="#000"/>
<rect x="1148" y="489" width="3" height="8" fill="#fff"/>
<rect x="1157" y="460" width="1" height="31" fill="#000" />
<rect x="1155" y="469" width="5" height="14" fill="#000"/>
<rect x="1165" y="469" width="1" height="35" fill="#000" />
<rect x="1163" y="472" width="5" height="13" fill="#000"/>
<rect x="1173" y="464" width="1" height="25" fill="#000" />
<rect x="1171" y="466" width="5" height="20" fill="#000"/>
<rect x="1172" y="467" width="3" height="18" fill="#fff"/>
<rect x="1181" y="476" width="1" height="34" fill="#000" />
<rect x="1179" y="479" width="5" height="29" fill="#000"/>
<rect x="1189" y="504" width="1" height="16" fill="#000" />
<rect x="1187" y="507" width="5" height="4" fill="#000"/>
<rect x="1197" y="484" width="1" height="29" fill="#000" />
<rect x="1195" y="499" width="5" height="8" fill="#000"/>
<rect x="1196" y="500" width="3" height="6" fill="#fff"/>
<rect x="1205" y="493" width="1" height="30" fill="#000" />
<rect x="1203" y="499" width="5" height="1" fill="#000"/>
<rect x="1213" y="432" width="1" height="33" fill="#000" />
<rect x="1211" y="451" width="5" height="8" fill="#000"/>
<rect x="1221" y="429" width="1" height="59" fill="#000" />
<rect x="1219" y="449" width="5" height="36" fill="#000"/>
<rect x="1229" y="478" width="1" height="16" fill="#000" />
<rect x="1227" y="480" width="5" height="5" fill="#000"/>
<rect x="1228" y="481" width="3" height="3" fill="#fff"/>
<rect x="1237" y="456" width="1" height="43" fill="#000" />
<rect x="1235" y="466" width="5" height="23" fill="#000"/>
<rect x="1245" y="466" width="1" height="28" fill="#000" />
<rect x="1243" y="476" width="5" height="11" fill="#000"/>
<rect x="1244" y="477" width="3" height="9" fill="#fff"/>
<rect x="1253" y="471" width="1" height="48" fill="#000" />
<rect x="1251" y="484" width="5" height="20" fill="#000"/>
<rect x="1261" y="505" width="1" height="33" fill="#000" />
<rect x="1259" y="506" width="5" height="26" fill="#000"/>
<rect x="1269" y="512" width="1" height="48" fill="#000" />
<rect x="1267" y="534" width="5" height="10" fill="#000"/>
<rect x="1277" y="506" width="1" height="48" fill="#000" />
<rect x="1275" y="519" width="5" height="28" fill="#000"/>
<rect x="1276" y="520" width="3" height="26" fill="#fff"/>
<rect x="1285" y="461" width="1" height="38" fill="#000" />
<rect x="1283" y="471" width="5" height="10" fill="#000"/>
<rect x="1284" y="472" width="3" height="8" fill="#fff"/>
<rect x="1293" y="446" width="1" height="27" fill="#000" />
<rect x="1291" y="452" width="5" height="19" fill="#000"/>
<rect x="1292" y="453" width="3" height="17" fill="#fff"/>
<rect x="1301" y="412" width="1" height="49" fill="#000" />
<rect x="1299" y="420" width="5" height="27" fill="#000"/>
<rect x="1300" y="421" width="3" height="25" fill="#fff"/>
<rect x="1309" y="406" width="1" height="23" fill="#000" />
<rect x="1307" y="420" width="5" height="3" fill="#000"/>
<rect x="1317" y="396" width="1" height="48" fill="#000" />
<rect x="1315" y="401" width="5" height="29" fill="#000"/>
<rect x="1316" y="402" width="3" height="27" fill="#fff"/>
<rect x="1325" y="400" width="1" height="39" fill="#000" />
<rect x="1323" y="402" width="5" height="17" fill="#000"/>
<rect x="1333" y="341" width="1" height="42" fill="#000" />
<rect x="1331" y="344" width="5" height="33" fill="#000"/>
<rect x="1332" y="345" width="3" height="31" fill="#fff"/>
<rect x="1341" y="318" width="1" height="28" fill="#000" />
<rect x="1339" y="329" width="5" height="17" fill="#000"/>
<rect x="1340" y="330" width="3" height="15" fill="#fff"/>
<rect x="1349" y="298" width="1" height="25" fill="#000" />
<rect x="1347" y="299" width="5" height="16" fill="#000"/>
<rect x="1357" y="306" width="1" height="28" fill="#000" />
<rect x="1355" y="310" width="5" height="4" fill="#000"/>
<rect x="1356" y="311" width="3" height="2" fill="#fff"/>
<rect x="1365" y="331" width="1" height="24" fill="#000" />
<rect x="1363" y="343" width="5" height="6" fill="#000"/>
<rect x="1373" y="320" width="1" height="31" fill="#000" />
<rect x="1371" y="320" width="5" height="27" fill="#000"/>
<rect x="1372" y="321" width="3" height="25" fill="#fff"/>
<rect x="1381" y="316" width="1" height="35" fill="#000" />
<rect x="1379" y="316" width="5" height="27" fill="#000"/>
<rect x="1389" y="341" width="1" height="14" fill="#000" />
<rect x="1387" y="341" width="5" height="8" fill="#000"/>
<rect x="1397" y="321" width="1" height="29" fill="#000" />
<rect x="1395" y="336" width="5" height="14" fill="#000"/>
<rect x="1405" y="353" width="1" height="22" fill="#000" />
<rect x="1403" y="354" width="5" height="17" fill="#000"/>
<rect x="1413" y="336" width="1" height="28" fill="#000" />
<rect x="1411" y="361" width="5" height="3" fill="#000"/>
<rect x="1421" y="362" width="1" height="23" fill="#000" />
<rect x="1419" y="364" width="5" height="1" fill="#000"/>
<rect x="57" y="120" width="1" height="1" fill="#000"/><rect x="56" y="121" width="1" height="1" fill="#000"/><rect x="58" y="121" width="1" height="1" fill="#000"/><rect x="57" y="122" width="1" height="1" fill="#000"/>
<rect x="5" y="648" width="1" height="14" fill="#c0c0c0" />
<rect x="13" y="647" width="1" height="15" fill="#c0c0c0" />
<rect x="21" y="645" width="1" height="17" fill="#c0c0c0" />
<rect x="29" y="651" width="1" height="11" fill="#c0c0c0" />
<rect x="37" y="654" width="1" height="8" fill="#c0c0c0" />
<rect x="45" y="657" width="1" height="5" fill="#c0c0c0" />
<rect x="53" y="661" width="1" height="1" fill="#c0c0c0" />
<rect x="61" y="661" width="1" height="9" fill="#c0c0c0" />
<rect x="69" y="661" width="1" height="19" fill="#c0c0c0" />
<rect x="77" y="661" width="1" height="34" fill="#c0c0c0" />
<rect x="85" y="661" width="1" height="43" fill="#c0c0c0" />
<rect x="93" y="661" width="1" height="48" fill="#c0c0c0" />
<rect x="101" y="661" width="1" height="49" fill="#c0c0c0" />
<rect x="109" y="661" width="1" height="64" fill="#c0c0c0" />
<rect x="117" y="661" width="1" height="73" fill="#c0c0c0" />
<rect x="125" y="661" width="1" height="80" fill="#c0c0c0" />
<rect x="133" y="661" width="1" height="82" fill="#c0c0c0" />
<rect x="141" y="661" width="1" height="79" fill="#c0c0c0" />
<rect x="149" y="661" width="1" height="75" fill="#c0c0c0" />
<rect x="157" y="661" width="1" height="72" fill="#c0c0c0" />
<rect x="165" y="661" width="1" height="73" fill="#c0c0c0" />
<rect x="173" y="661" width="1" height="70" fill="#c0c0c0" />
<rect x="181" y="661" width="1" height="69" fill="#c0c0c0" />
<rect x="189" y="661" width="1" height="63" fill="#c0c0c0" />
<rect x="197" y="661" width="1" height="58" fill="#c0c0c0" />
<rect x="205" y="661" width="1" height="55" fill="#c0c0c0" />
<rect x="213" y="661" width="1" height="49" fill="#c0c0c0" />
<rect x="221" y="661" width="1" height="47" fill="#c0c0c0" />
<rect x="229" y="661" width="1" height="41" fill="#c0c0c0" />
<rect x="237" y="661" width="1" height="46" fill="#c0c0c0" />
<rect x="245" y="661" width="1" height="48" fill="#c0c0c0" />
<rect x="253" y="661" width="1" height="48" fill="#c0c0c0" />
<rect x="261" y="661" width="1" height="47" fill="#c0c0c0" />
<rect x="269" y="661" width="1" height="49" fill="#c0c0c0" />
<rect x="277" y="661" width="1" height="47" fill="#c0c0c0" />
<rect x="285" y="661" width="1" height="39" fill="#c0c0c0" />
<rect x="293" y="661" width="1" height="31" fill="#c0c0c0" />
<rect x="301" y="661" width="1" height="24" fill="#c0c0c0" />
<rect x="309" y="661" width="1" height="15" fill="#c0c0c0" />
<rect x="317" y="661" width="1" height="1" fill="#c0c0c0" />
<rect x="325" y="652" width="1" height="10" fill="#c0c0c0" />
<rect x="333" y="647" width="1" height="15" fill="#c0c0c0" />
<rect x="341" y="645" width="1" height="17" fill="#c0c0c0" />
<rect x="349" y="643" width="1" height="19" fill="#c0c0c0" />
<rect x="357" y="640" width="1" height="22" fill="#c0c0c0" />
<rect x="365" y="634" width="1" height="28" fill="#c0c0c0" />
<rect x="373" y="632" width="1" height="30" fill="#c0c0c0" />
<rect x="381" y="627" width="1" height="35" fill="#c0c0c0" />
<rect x="389" y="620" width="1" height="42" fill="#c0c0c0" />
<rect x="397" y="614" width="1" height="48" fill="#c0c0c0" />
<rect x="405" y="605" width="1" height="57" fill="#c0c0c0" />
<rect x="413" y="597" width="1" height="65" fill="#c0c0c0" />
<rect x="421" y="594" width="1" height="68" fill="#c0c0c0" />
<rect x="429" y="593" width="1" height="69" fill="#c0c0c0" />
<rect x="437" y="592" width="1" height="70" fill="#c0c0c0" />
<rect x="445" y="591" width="1" height="71" fill="#c0c0c0" />
<rect x="453" y="591" width="1" height="71" fill="#c0c0c0" />
<rect x="461" y="592" width="1" height="70" fill="#c0c0c0" />
<rect x="469" y="594" width="1" height="68" fill="#c0c0c0" />
<rect x="477" y="598" width="1" height="64" fill="#c0c0c0" />
<rect x="485" y="607" width="1" height="55" fill="#c0c0c0" />
<rect x="493" y="616" width="1" height="46" fill="#c0c0c0" />
<rect x="501" y="623" width="1" height="39" fill="#c0c0c0" />
<rect x="509" y="631" width="1" height="31" fill="#c0c0c0" />
<rect x="517" y="638" width="1" height="24" fill="#c0c0c0" />
<rect x="525" y="645" width="1" height="17" fill="#c0c0c0" />
<rect x="533" y="655" width="1" height="7" fill="#c0c0c0" />
<rect x="541" y="661" width="1" height="1" fill="#c0c0c0" />
<rect x="549" y="661" width="1" height="1" fill="#c0c0c0" />
<rect x="557" y="661" width="1" height="7" fill="#c0c0c0" />
<rect x="565" y="661" width="1" height="16" fill="#c0c0c0" />
<rect x="573" y="661" width="1" height="18" fill="#c0c0c0" />
<rect x="581" y="661" width="1" height="19" fill="#c0c0c0" />
<rect x="589" y="661" width="1" height="19" fill="#c0c0c0" />
<rect x="597" y="661" width="1" height="21" fill="#c0c0c0" />
<rect x="605" y="661" width="1" height="24" fill="#c0c0c0" />
<rect x="613" y="661" width="1" height="27" fill="#c0c0c0" />
<rect x="621" y="661" width="1" height="31" fill="#c0c0c0" />
<rect x="629" y="661" width="1" height="33" fill="#c0c0c0" />
<rect x="637" y="661" width="1" height="33" fill="#c0c0c0" />
<rect x="645" y="661" width="1" height="37" fill="#c0c0c0" />
<rect x="653" y="661" width="1" height="31" fill="#c0c0c0" />
<rect x="661" y="661" width="1" height="28" fill="#c0c0c0" />
<rect x="669" y="661" width="1" height="23" fill="#c0c0c0" />
<rect x="677" y="661" width="1" height="16" fill="#c0c0c0" />
<rect x="685" y="661" width="1" height="10" fill="#c0c0c0" />
<rect x="693" y="661" width="1" height="7" fill="#c0c0c0" />
<rect x="701" y="661" width="1" height="1" fill="#c0c0c0" />
<rect x="709" y="656" width="1" height="6" fill="#c0c0c0" />
<rect x="717" y="650" width="1" height="12" fill="#c0c0c0" />
<rect x="725" y="647" width="1" height="15" fill="#c0c0c0" />
<rect x="733" y="644" width="1" height="18" fill="#c0c0c0" />
<rect x="741" y="646" width="1" height="16" fill="#c0c0c0" />
<rect x="749" y="648" width="1" height="14" fill="#c0c0c0" />
<rect x="757" y="656" width="1" height="6" fill="#c0c0c0" />
<rect x="765" y="661" width="1" height="1" fill="#c0c0c0" />
<rect x="773" y="661" width="1" height="3" fill="#c0c0c0" />
<rect x="781" y="661" width="1" height="6" fill="#c0c0c0" />
<rect x="789" y="661" width="1" height="12" fill="#c0c0c0" />
<rect x="797" y="661" width="1" height="19" fill="#c0c0c0" />
<rect x="805" y="661" width="1" height="23" fill="#c0c0c0" />
<rect x="813" y="661" width="1" height="25" fill="#c0c0c0" />
<rect x="821" y="661" width="1" height="26" fill="#c0c0c0" />
<rect x="829" y="661" width="1" height="25" fill="#c0c0c0" />
<rect x="837" y="661" width="1" height="33" fill="#c0c0c0" />
<rect x="845" y="661" width="1" height="41" fill="#c0c0c0" />
<rect x="853" y="661" width="1" height="49" fill="#c0c0c0" />
<rect x="861" y="661" width="1" height="56" fill="#c0c0c0" />
<rect x="869" y="661" width="1" height="65" fill="#c0c0c0" />
<rect x="877" y="661" width="1" height="72" fill="#c0c0c0" />
<rect x="885" y="661" width="1" height="72" fill="#c0c0c0" />
<rect x="893" y="661" width="1" height="74" fill="#c0c0c0" />
<rect x="901" y="661" width="1" height="73" fill="#c0c0c0" />
<rect x="909" y="661" width="1" height="71" fill="#c0c0c0" />
<rect x="917" y="661" width="1" height="69" fill="#c0c0c0" />
<rect x="925" y="661" width="1" height="66" fill="#c0c0c0" />
<rect x="933" y="661" width="1" height="67" fill="#c0c0c0" />
<rect x="941" y="661" width="1" height="69" fill="#c0c0c0" />
<rect x="949" y="661" width="1" height="65" fill="#c0c0c0" />
<rect x="957" y="661" width="1" height="56" fill="#c0c0c0" />
<rect x="965" y="661" width="1" height="49" fill="#c0c0c0" />
<rect x="973" y="661" width="1" height="43" fill="#c0c0c0" />
<rect x="981" y="661" width="1" height="34" fill="#c0c0c0" />
<rect x="989" y="661" width="1" height="28" fill="#c0c0c0" />
<rect x="997" y="661" width="1" height="22" fill="#c0c0c0" />
<rect x="1005" y="661" width="1" height="21" fill="#c0c0c0" />
<rect x="1013" y="661" width="1" height="15" fill="#c0c0c0" />
<rect x="1021" y="661" width="1" height="14" fill="#c0c0c0" />
<rect x="1029" y="661" width="1" height="18" fill="#c0c0c0" />
<rect x="1037" y="661" width="1" height="23" fill="#c0c0c0" />
<rect x="1045" y="661" width="1" height="24" fill="#c0c0c0" />
<rect x="1053" y="661" width="1" height="28" fill="#c0c0c0" />
<rect x="1061" y="661" width="1" height="34" fill="#c0c0c0" />
<rect x="1069" y="661" width="1" height="35" fill="#c0c0c0" />
<rect x="1077" y="661" width="1" height="40" fill="#c0c0c0" />
<rect x="1085" y="661" width="1" height="43" fill="#c0c0c0" />
<rect x="1093" y="661" width="1" height="50" fill="#c0c0c0" />
<rect x="1101" y="661" width="1" height="55" fill="#c0c0c0" />
<rect x="1109" y="661" width="1" height="58" fill="#c0c0c0" />
<rect x="1117" y="661" width="1" height="58" fill="#c0c0c0" />
<rect x="1125" y="661" width="1" height="56" fill="#c0c0c0" />
<rect x="1133" y="661" width="1" height="53" fill="#c0c0c0" />
<rect x="1141" y="661" width="1" height="50" fill="#c0c0c0" />
<rect x="1149" y="661" width="1" height="45" fill="#c0c0c0" />
<rect x="1157" y="661" width="1" height="41" fill="#c0c0c0" />
<rect x="1165" y="661" width="1" height="37" fill="#c0c0c0" />
<rect x="1173" y="661" width="1" height="32" fill="#c0c0c0" />
<rect x="1181" y="661" width="1" height="32" fill="#c0c0c0" />
<rect x="1189" y="661" width="1" height="32" fill="#c0c0c0" />
<rect x="1197" y="661" width="1" height="30" fill="#c0c0c0" />
<rect x="1205" y="661" width="1" height="28" fill="#c0c0c0" />
<rect x="1213" y="661" width="1" height="22" fill="#c0c0c0" />
<rect x="1221" y="661" width="1" height="20" fill="#c0c0c0" />
<rect x="1229" y="661" width="1" height="18" fill="#c0c0c0" />
<rect x="1237" y="661" width="1" height="16" fill="#c0c0c0" />
<rect x="1245" y="661" width="1" height="14" fill="#c0c0c0" />
<rect x="1253" y="661" width="1" height="15" fill="#c0c0c0" />
<rect x="1261" y="661" width="1" height="18" fill="#c0c0c0" />
<rect x="1269" y="661" width="1" height="22" fill="#c0c0c0" />
<rect x="1277" y="661" width="1" height="21" fill="#c0c0c0" />
<rect x="1285" y="661" width="1" height="17" fill="#c0c0c0" />
<rect x="1293" y="661" width="1" height="11" fill="#c0c0c0" />
<rect x="1301" y="661" width="1" height="3" fill="#c0c0c0" />
<rect x="1309" y="658" width="1" height="4" fill="#c0c0c0" />
<rect x="1317" y="652" width="1" height="10" fill="#c0c0c0" />
<rect x="1325" y="648" width="1" height="14" fill="#c0c0c0" />
<rect x="1333" y="638" width="1" height="24" fill="#c0c0c0" />
<rect x="1341" y="629" width="1" height="33" fill="#c0c0c0" />
<rect x="1349" y="620" width="1" height="42" fill="#c0c0c0" />
<rect x="1357" y="614" width="1" height="48" fill="#c0c0c0" />
<rect x="1365" y="613" width="1" height="49" fill="#c0c0c0" />
<rect x="1373" y="610" width="1" height="52" fill="#c0c0c0" />
<rect x="1381" y="611" width="1" height="51" fill="#c0c0c0" />
<rect x="1389" y="613" width="1" height="49" fill="#c0c0c0" />
<rect x="1397" y="615" width="1" height="47" fill="#c0c0c0" />
<rect x="1405" y="618" width="1" height="44" fill="#c0c0c0" />
<rect x="1413" y="621" width="1" height="41" fill="#c0c0c0" />
<rect x="1421" y="624" width="1" height="38" fill="#c0c0c0" />
<path d="M1 647h1v1h-1zM2 646h2v1h-2zM7 646h1v1h-1zM8 645h2v1h-2zM13 644h3v1h-3zM19 644h3v1h-3zM25 644h3v1h-3zM31 644h3v1h-3zM37 644h3v1h-3zM43 645h1v1h-1zM44 646h2v1h-2zM49 647h3v1h-3zM55 649h2v1h-2zM57 650h1v1h-1zM61 652h1v1h-1zM62 653h2v1h-2zM67 656h2v1h-2zM69 657h1v1h-1zM73 659h1v1h-1zM74 660h1v1h-1zM75 661h1v1h-1zM79 664h1v1h-1zM80 665h2v1h-2zM85 669h1v1h-1zM86 670h1v1h-1zM87 671h1v1h-1zM91 675h1v1h-1zM92 676h1v1h-1zM93 677h1v1h-1zM97 680h1v1h-1zM98 681h2v1h-2zM103 685h1v1h-1zM104 686h1v1h-1zM105 687h1v1h-1zM109 691h1v1h-1zM110 692h1v1h-1zM111 693h1v1h-1zM115 697h1v1h-1zM116 698h1v1h-1zM117 699h1v1h-1zM121 703h1v2h-1zM122 705h1v1h-1zM126 709h1v1h-1zM127 710h1v1h-1zM128 711h1v1h-1zM132 715h1v1h-1zM133 716h1v1h-1zM134 717h1v1h-1zM138 720h1v1h-1zM139 721h1v1h-1zM140 722h1v1h-1zM144 725h2v1h-2zM146 726h1v1h-1zM150 728h1v1h-1zM151 729h2v1h-2zM156 731h3v1h-3zM162 733h2v1h-2zM164 734h1v1h-1zM168 735h3v1h-3zM174 736h3v1h-3zM180 736h3v1h-3zM186 735h2v1h-2zM188 734h1v1h-1zM192 733h3v1h-3zM198 732h1v1h-1zM199 731h2v1h-2zM204 729h3v1h-3zM210 728h2v1h-2zM212 727h1v1h-1zM216 726h1v1h-1zM217 725h2v1h-2zM222 723h1v1h-1zM223 722h2v1h-2zM228 720h1v1h-1zM229 719h2v1h-2zM234 717h2v1h-2zM236 716h1v1h-1zM240 715h3v1h-3zM246 714h3v1h-3zM252 713h3v1h-3zM258 712h2v1h-2zM260 711h1v1h-1zM264 710h3v1h-3zM270 709h3v1h-3zM276 709h3v1h-3zM282 708h2v1h-2zM284 707h1v1h-1zM288 707h2v1h-2zM290 706h1v1h-1zM294 706h1v1h-1zM295 705h2v1h-2zM300 703h3v1h-3zM306 701h1v1h-1zM307 700h2v1h-2zM312 697h1v1h-1zM313 696h1v1h-1zM314 695h1v1h-1zM318 692h2v1h-2zM320 691h1v1h-1zM324 689h1v1h-1zM325 688h2v1h-2zM330 686h1v1h-1zM331 685h2v1h-2zM336 681h2v1h-2zM338 680h1v1h-1zM342 676h1v1h-1zM343 675h1v1h-1zM344 674h1v1h-1zM347 670h1v1h-1zM348 669h1v1h-1zM349 668h1v1h-1zM353 665h1v1h-1zM354 664h2v1h-2zM359 661h1v1h-1zM360 660h1v1h-1zM361 659h1v1h-1zM365 656h1v1h-1zM366 655h1v1h-1zM367 654h1v1h-1zM371 651h1v1h-1zM372 650h1v1h-1zM373 649h1v1h-1zM377 647h1v1h-1zM378 646h1v1h-1zM379 645h1v1h-1zM383 643h1v1h-1zM384 642h1v1h-1zM385 641h1v1h-1zM389 638h2v1h-2zM391 637h1v1h-1zM395 635h2v1h-2zM397 634h1v1h-1zM401 632h2v1h-2zM403 631h1v1h-1zM407 628h1v1h-1zM408 627h2v1h-2zM413 623h1v1h-1zM414 622h2v1h-2zM419 619h2v1h-2zM421 618h1v1h-1zM425 615h1v1h-1zM426 614h2v1h-2zM431 611h1v1h-1zM432 610h2v1h-2zM437 607h2v1h-2zM439 606h1v1h-1zM443 604h2v1h-2zM445 603h1v1h-1zM449 602h1v1h-1zM450 601h2v1h-2zM455 599h3v1h-3zM461 597h2v1h-2zM463 596h1v1h-1zM467 595h1v1h-1zM468 594h2v1h-2zM473 594h3v1h-3zM479 594h3v1h-3zM485 594h3v1h-3zM491 595h1v1h-1zM492 596h2v1h-2zM497 598h1v1h-1zM498 599h1v1h-1zM499 600h1v1h-1zM503 602h2v1h-2zM505 603h1v1h-1zM509 605h1v1h-1zM510 606h2v1h-2zM515 609h2v1h-2zM517 610h1v1h-1zM521 613h1v1h-1zM522 614h1v1h-1zM523 615h1v1h-1zM527 618h1v1h-1zM528 619h1v1h-1zM529 620h1v1h-1zM533 623h1v1h-1zM534 624h1v1h-1zM535 625h1v1h-1zM539 629h1v1h-1zM540 630h1v1h-1zM541 631h1v1h-1zM545 635h1v1h-1zM546 636h1v1h-1zM547 637h1v1h-1zM551 641h1v1h-1zM552 642h2v1h-2zM557 646h1v1h-1zM558 647h2v1h-2zM563 650h1v1h-1zM564 651h1v1h-1zM565 652h1v1h-1zM569 655h1v1h-1zM570 656h2v1h-2zM575 659h1v1h-1zM576 660h1v1h-1zM577 661h1v1h-1zM581 664h2v1h-2zM583 665h1v1h-1zM587 666h1v1h-1zM588 667h2v1h-2zM593 670h1v1h-1zM594 671h2v1h-2zM599 674h3v1h-3zM605 676h2v1h-2zM607 677h1v1h-1zM611 678h1v1h-1zM612 679h2v1h-2zM617 680h1v1h-1zM618 681h2v1h-2zM623 682h1v1h-1zM624 683h2v1h-2zM629 684h2v1h-2zM631 685h1v1h-1zM635 686h1v1h-1zM636 687h2v1h-2zM641 687h1v1h-1zM642 688h2v1h-2zM647 689h3v1h-3zM653 691h3v1h-3zM659 692h3v1h-3zM665 692h3v1h-3zM671 692h1v1h-1zM672 691h2v1h-2zM677 690h3v1h-3zM683 689h1v1h-1zM684 688h2v1h-2zM689 687h3v1h-3zM695 685h3v1h-3zM701 683h2v1h-2zM703 682h1v1h-1zM707 680h2v1h-2zM709 679h1v1h-1zM713 676h1v1h-1zM714 675h2v1h-2zM719 672h1v1h-1zM720 671h1v1h-1zM721 670h1v1h-1zM725 667h2v1h-2zM727 666h1v1h-1zM731 664h2v1h-2zM733 663h1v1h-1zM737 661h1v1h-1zM738 660h1v1h-1zM739 659h1v1h-1zM743 657h2v1h-2zM745 656h1v1h-1zM749 654h3v1h-3zM755 653h1v1h-1zM756 652h2v1h-2zM761 652h3v1h-3zM767 652h3v1h-3zM773 652h3v1h-3zM779 653h1v1h-1zM780 654h2v1h-2zM785 655h1v1h-1zM786 656h2v1h-2zM791 658h3v1h-3zM797 660h2v1h-2zM799 661h1v1h-1zM803 663h2v1h-2zM805 664h1v1h-1zM809 666h2v1h-2zM811 667h1v1h-1zM815 669h2v1h-2zM817 670h1v1h-1zM821 672h2v1h-2zM823 673h1v1h-1zM827 675h2v1h-2zM829 676h1v1h-1zM833 677h1v1h-1zM834 678h2v1h-2zM839 680h1v1h-1zM840 681h1v1h-1zM841 682h1v1h-1zM845 685h2v1h-2zM847 686h1v1h-1zM851 688h2v1h-2zM853 689h1v1h-1zM857 691h1v1h-1zM858 692h1v1h-1zM859 693h1v1h-1zM863 695h1v1h-1zM864 696h1v1h-1zM865 697h1v1h-1zM869 700h1v1h-1zM870 701h2v1h-2zM875 704h1v1h-1zM876 705h1v1h-1zM877 706h1v1h-1zM881 709h1v1h-1zM882 710h2v1h-2zM887 713h2v1h-2zM889 714h1v1h-1zM893 716h2v1h-2zM895 717h1v1h-1zM899 719h2v1h-2zM901 720h1v1h-1zM905 722h2v1h-2zM907 723h1v1h-1zM911 725h2v1h-2zM913 726h1v1h-1zM917 728h3v1h-3zM923 729h1v1h-1zM924 730h2v1h-2zM929 730h1v1h-1zM930 731h2v1h-2zM935 731h3v1h-3zM941 732h3v1h-3zM947 731h3v1h-3zM953 730h3v1h-3zM959 728h3v1h-3zM965 726h2v1h-2zM967 725h1v1h-1zM971 724h1v1h-1zM972 723h2v1h-2zM977 721h2v1h-2zM979 720h1v1h-1zM983 718h1v1h-1zM984 717h2v1h-2zM989 714h1v1h-1zM990 713h2v1h-2zM995 710h2v1h-2zM997 709h1v1h-1zM1001 707h2v1h-2zM1003 706h1v1h-1zM1007 704h1v1h-1zM1008 703h1v1h-1zM1009 702h1v1h-1zM1013 699h1v1h-1zM1014 698h2v1h-2zM1019 695h2v1h-2zM1021 694h1v1h-1zM1025 692h2v1h-2zM1027 691h1v1h-1zM1031 689h2v1h-2zM1033 688h1v1h-1zM1037 686h3v1h-3zM1043 685h1v1h-1zM1044 684h2v1h-2zM1049 684h1v1h-1zM1050 683h2v1h-2zM1055 683h3v1h-3zM1061 683h3v1h-3zM1067 684h1v1h-1zM1068 685h2v1h-2zM1073 685h1v1h-1zM1074 686h2v1h-2zM1079 687h2v1h-2zM1081 688h1v1h-1zM1085 690h2v1h-2zM1087 691h1v1h-1zM1091 693h2v1h-2zM1093 694h1v1h-1zM1097 696h1v1h-1zM1098 697h1v1h-1zM1099 698h1v1h-1zM1103 700h2v1h-2zM1105 701h1v1h-1zM1109 703h2v1h-2zM1111 704h1v1h-1zM1115 705h1v1h-1zM1116 706h2v1h-2zM1121 708h2v1h-2zM1123 709h1v1h-1zM1127 710h1v1h-1zM1128 711h2v1h-2zM1133 712h3v1h-3zM1139 713h3v1h-3zM1145 713h1v1h-1zM1146 714h2v1h-2zM1151 714h3v1h-3zM1157 713h3v1h-3zM1163 712h1v1h-1zM1164 711h2v1h-2zM1169 710h3v1h-3zM1175 709h1v1h-1zM1176 708h2v1h-2zM1181 707h2v1h-2zM1183 706h1v1h-1zM1187 705h1v1h-1zM1188 704h2v1h-2zM1193 703h1v1h-1zM1194 702h2v1h-2zM1199 701h1v1h-1zM1200 700h2v1h-2zM1205 699h2v1h-2zM1207 698h1v1h-1zM1211 696h2v1h-2zM1213 695h1v1h-1zM1217 694h1v1h-1zM1218 693h2v1h-2zM1223 692h3v1h-3zM1229 691h2v1h-2zM1231 690h1v1h-1zM1235 688h2v1h-2zM1237 687h1v1h-1zM1241 686h3v1h-3zM1247 685h3v1h-3zM1253 684h2v1h-2zM1255 683h1v1h-1zM1259 682h1v1h-1zM1260 681h2v1h-2zM1265 681h3v1h-3zM1271 681h3v1h-3zM1277 681h3v1h-3zM1283 680h1v1h-1zM1284 679h2v1h-2zM1289 679h1v1h-1zM1290 678h2v1h-2zM1295 678h1v1h-1zM1296 677h2v1h-2zM1301 676h3v1h-3zM1307 675h1v1h-1zM1308 674h2v1h-2zM1313 673h3v1h-3zM1319 671h2v1h-2zM1321 670h1v1h-1zM1325 668h2v1h-2zM1327 667h1v1h-1zM1331 665h2v1h-2zM1333 664h1v1h-1zM1337 661h1v1h-1zM1338 660h2v1h-2zM1343 656h1v1h-1zM1344 655h2v1h-2zM1349 651h1v1h-1zM1350 650h1v1h-1zM1351 649h1v1h-1zM1355 646h1v1h-1zM1356 645h1v1h-1zM1357 644h1v1h-1zM1361 641h1v1h-1zM1362 640h2v1h-2zM1367 636h1v1h-1zM1368 635h2v1h-2zM1373 631h2v1h-2zM1375 630h1v1h-1zM1379 628h2v1h-2zM1381 627h1v1h-1zM1385 625h1v1h-1zM1386 624h1v1h-1zM1387 623h1v1h-1zM1391 621h2v1h-2zM1393 620h1v1h-1zM1397 618h2v1h-2zM1399 617h1v1h-1zM1403 616h1v1h-1zM1404 615h2v1h-2zM1409 615h1v1h-1zM1410 614h2v1h-2zM1415 614h3v1h-3zM1421 614h1v1h-1z" fill="#ff0000" />
<line x1="0" y1="789.5" x2="1648" y2="789.5" stroke="#c0c0c0" stroke-width="1" stroke-dasharray="3 3" stroke-dashoffset="4"/>
<line x1="0" y1="840.5" x2="1648" y2="840.5" stroke="#c0c0c0" stroke-width="1" stroke-dasharray="3 3" stroke-dashoffset="4"/>
<line x1="0" y1="901.5" x2="1648" y2="901.5" stroke="#c0c0c0" stroke-width="1" stroke-dasharray="3 3" stroke-dashoffset="4"/>
<path d="M0 845h2v1h-2zM2 846h1v1h-1zM3 847h1v1h-1zM4 848h1v1h-1zM5 848h1v2h-1zM6 846h1v2h-1zM7 844h1v2h-1zM8 842h1v2h-1zM9 840h1v2h-1zM10 838h1v2h-1zM11 836h1v2h-1zM12 834h1v2h-1zM13 833h3v1h-3zM16 832h4v1h-4zM20 831h2v1h-2zM21 832h1v1h-1zM22 833h1v2h-1zM23 835h1v2h-1zM24 837h1v2h-1zM25 839h1v2h-1zM26 841h1v2h-1zM27 843h1v2h-1zM28 845h1v2h-1zM29 847h1v2h-1zM30 848h1v1h-1zM31 847h2v1h-2zM33 846h2v1h-2zM35 845h2v1h-2zM37 844h5v1h-5zM42 845h4v1h-4zM46 846h1v1h-1zM47 847h1v1h-1zM48 848h1v1h-1zM49 849h1v2h-1zM50 851h1v1h-1zM51 852h1v1h-1zM52 853h1v1h-1zM53 854h1v1h-1zM54 855h2v1h-2zM56 856h2v1h-2zM58 857h1v1h-1zM59 858h2v1h-2zM61 859h1v1h-1zM62 860h2v1h-2zM64 861h1v1h-1zM65 862h1v1h-1zM66 863h2v1h-2zM68 864h1v1h-1zM69 865h1v1h-1zM70 866h1v1h-1zM71 867h1v2h-1zM72 869h1v1h-1zM73 870h1v1h-1zM74 871h1v1h-1zM75 872h1v2h-1zM76 874h1v1h-1zM77 875h1v1h-1zM78 874h2v1h-2zM80 873h2v1h-2zM82 872h1v1h-1zM83 871h2v1h-2zM85 870h2v1h-2zM87 869h2v1h-2zM89 868h2v1h-2zM91 867h2v1h-2zM93 866h2v1h-2zM95 865h2v1h-2zM97 864h2v1h-2zM99 863h2v1h-2zM101 862h1v2h-1zM102 864h1v2h-1zM103 866h1v2h-1zM104 868h1v2h-1zM105 870h1v2h-1zM106 872h1v2h-1zM107 874h1v2h-1zM108 876h1v2h-1zM109 878h1v2h-1zM110 878h2v1h-2zM112 877h2v1h-2zM114 876h1v1h-1zM115 875h2v1h-2zM117 874h3v1h-3zM120 875h4v1h-4zM124 876h2v1h-2zM126 875h1v1h-1zM127 874h1v1h-1zM128 873h1v1h-1zM129 872h1v1h-1zM130 871h1v1h-1zM131 870h1v1h-1zM132 869h1v1h-1zM133 868h1v1h-1zM134 867h1v1h-1zM135 866h1v1h-1zM136 865h2v1h-2zM138 864h1v1h-1zM139 863h1v1h-1zM140 862h1v1h-1zM141 861h1v1h-1zM142 860h2v1h-2zM144 859h2v1h-2zM146 858h1v1h-1zM147 857h2v1h-2zM149 856h5v1h-5zM154 857h4v1h-4zM158 858h1v1h-1zM159 859h1v1h-1zM160 860h2v1h-2zM162 861h1v1h-1zM163 862h1v1h-1zM164 863h1v1h-1zM165 864h2v1h-2zM167 863h3v1h-3zM170 862h2v1h-2zM172 861h4v1h-4zM176 862h4v1h-4zM180 863h2v1h-2zM182 861h1v2h-1zM183 859h1v2h-1zM184 858h1v1h-1zM185 856h1v2h-1zM186 855h1v1h-1zM187 853h1v2h-1zM188 851h1v2h-1zM189 850h3v1h-3zM192 851h4v1h-4zM196 852h3v1h-3zM199 853h2v1h-2zM201 854h2v1h-2zM203 855h2v1h-2zM205 856h1v1h-1zM206 855h1v1h-1zM207 854h1v1h-1zM208 853h2v1h-2zM210 852h1v1h-1zM211 851h1v1h-1zM212 850h1v1h-1zM213 849h3v1h-3zM216 850h4v1h-4zM220 851h3v1h-3zM223 850h2v1h-2zM225 849h2v1h-2zM227 848h2v1h-2zM229 847h1v1h-1zM230 848h1v2h-1zM231 850h1v2h-1zM232 852h1v2h-1zM233 854h1v2h-1zM234 856h1v2h-1zM235 858h1v2h-1zM236 860h1v2h-1zM237 862h9v1h-9zM246 861h2v1h-2zM248 860h2v1h-2zM250 859h1v1h-1zM251 858h2v1h-2zM253 857h3v1h-3zM256 858h4v1h-4zM260 859h3v1h-3zM263 860h3v1h-3zM266 861h2v1h-2zM268 862h4v1h-4zM272 861h4v1h-4zM276 860h2v1h-2zM277 859h1v1h-1zM278 856h1v3h-1zM279 854h1v2h-1zM280 851h1v3h-1zM281 848h1v3h-1zM282 845h1v3h-1zM283 843h1v2h-1zM284 840h1v3h-1zM285 838h1v2h-1zM286 838h1v1h-1zM287 837h2v1h-2zM289 836h2v1h-2zM291 835h2v1h-2zM293 834h3v1h-3zM296 835h4v1h-4zM300 836h2v1h-2zM302 835h1v1h-1zM303 834h1v1h-1zM304 833h1v1h-1zM305 832h1v1h-1zM306 831h1v1h-1zM307 830h1v1h-1zM308 829h1v1h-1zM309 828h1v1h-1zM310 826h1v2h-1zM311 825h1v1h-1zM312 823h1v2h-1zM313 822h1v1h-1zM314 820h1v2h-1zM315 819h1v1h-1zM316 817h1v2h-1zM317 816h3v1h-3zM320 817h4v1h-4zM324 818h2v1h-2zM326 819h1v1h-1zM327 820h1v2h-1zM328 822h1v1h-1zM329 823h1v1h-1zM330 824h1v1h-1zM331 825h1v2h-1zM332 827h1v1h-1zM333 828h2v1h-2zM335 829h2v1h-2zM337 830h2v1h-2zM339 831h2v1h-2zM341 832h3v1h-3zM344 831h4v1h-4zM348 830h2v1h-2zM350 829h2v1h-2zM352 828h2v1h-2zM354 827h1v1h-1zM355 826h2v1h-2zM357 825h2v1h-2zM359 824h2v1h-2zM361 823h2v1h-2zM363 822h2v1h-2zM365 821h1v1h-1zM366 822h2v1h-2zM368 823h2v1h-2zM370 824h1v1h-1zM371 825h2v1h-2zM373 826h1v1h-1zM374 825h1v1h-1zM375 824h1v1h-1zM376 823h2v1h-2zM378 822h1v1h-1zM379 821h1v1h-1zM380 820h1v1h-1zM381 819h1v1h-1zM382 818h2v1h-2zM384 817h1v1h-1zM385 816h1v1h-1zM386 815h2v1h-2zM388 814h1v1h-1zM389 813h3v1h-3zM392 812h4v1h-4zM396 811h2v1h-2zM398 810h1v1h-1zM399 809h1v1h-1zM400 808h2v1h-2zM402 807h1v1h-1zM403 806h1v1h-1zM404 805h1v1h-1zM405 804h3v1h-3zM408 803h4v1h-4zM412 802h2v1h-2zM414 803h2v1h-2zM416 804h1v1h-1zM417 805h1v1h-1zM418 806h2v1h-2zM420 807h1v1h-1zM421 808h2v1h-2zM423 809h3v1h-3zM426 810h2v1h-2zM428 811h6v1h-6zM434 810h8v1h-8zM442 809h8v1h-8zM450 808h12v1h-12zM462 809h2v1h-2zM464 810h1v1h-1zM465 811h1v1h-1zM466 812h2v1h-2zM468 813h1v1h-1zM469 814h5v1h-5zM474 815h4v1h-4zM477 816h1v1h-1zM478 817h1v3h-1zM479 820h1v3h-1zM480 823h1v3h-1zM481 826h1v3h-1zM482 829h1v3h-1zM483 832h1v3h-1zM484 835h1v3h-1zM485 838h1v2h-1zM486 839h4v1h-4zM490 840h8v1h-8zM498 841h4v1h-4zM502 842h2v1h-2zM504 843h1v1h-1zM505 844h1v1h-1zM506 845h2v1h-2zM508 846h1v1h-1zM509 847h3v1h-3zM512 848h4v1h-4zM516 849h3v1h-3zM519 850h3v1h-3zM522 851h2v1h-2zM524 852h2v1h-2zM526 853h1v2h-1zM527 855h1v1h-1zM528 856h1v1h-1zM529 857h1v2h-1zM530 859h1v1h-1zM531 860h1v1h-1zM532 861h1v2h-1zM533 863h2v1h-2zM535 862h2v1h-2zM537 861h2v1h-2zM539 860h2v1h-2zM541 859h1v1h-1zM542 858h1v1h-1zM543 856h1v2h-1zM544 855h1v1h-1zM545 854h1v1h-1zM546 853h1v1h-1zM547 851h1v2h-1zM548 850h1v1h-1zM549 849h1v1h-1zM550 850h1v2h-1zM551 852h1v1h-1zM552 853h1v2h-1zM553 855h1v1h-1zM554 856h1v2h-1zM555 858h1v1h-1zM556 859h1v2h-1zM557 861h1v1h-1zM558 862h2v1h-2zM560 863h2v1h-2zM562 864h1v1h-1zM563 865h2v1h-2zM565 866h1v1h-1zM566 865h1v1h-1zM567 863h1v2h-1zM568 862h1v1h-1zM569 861h1v1h-1zM570 860h1v1h-1zM571 858h1v2h-1zM572 857h1v1h-1zM573 856h3v1h-3zM576 855h4v1h-4zM580 854h2v1h-2zM582 853h1v1h-1zM583 852h1v1h-1zM584 851h2v1h-2zM586 850h1v1h-1zM587 849h1v1h-1zM588 848h1v1h-1zM589 847h1v1h-1zM590 848h1v1h-1zM591 849h1v1h-1zM592 850h1v1h-1zM593 851h1v2h-1zM594 853h1v1h-1zM595 854h1v1h-1zM596 855h1v1h-1zM597 856h2v1h-2zM599 857h3v1h-3zM602 858h2v1h-2zM604 859h3v1h-3zM607 860h2v1h-2zM609 861h2v1h-2zM611 862h2v1h-2zM613 863h5v1h-5zM618 864h13v1h-13zM631 863h3v1h-3zM634 862h2v1h-2zM636 861h2v1h-2zM638 862h1v1h-1zM639 863h1v1h-1zM640 864h1v1h-1zM641 865h1v2h-1zM642 867h1v1h-1zM643 868h1v1h-1zM644 869h1v1h-1zM645 869h1v2h-1zM646 866h1v3h-1zM647 862h1v4h-1zM648 859h1v3h-1zM649 856h1v3h-1zM650 853h1v3h-1zM651 849h1v4h-1zM652 846h1v3h-1zM653 844h1v2h-1zM654 844h2v1h-2zM656 845h4v1h-4zM660 846h2v1h-2zM662 845h1v1h-1zM663 843h1v2h-1zM664 842h1v1h-1zM665 841h1v1h-1zM666 840h1v1h-1zM667 838h1v2h-1zM668 837h1v1h-1zM669 836h2v1h-2zM671 835h3v1h-3zM674 834h2v1h-2zM676 833h4v1h-4zM680 832h4v1h-4zM684 831h3v1h-3zM687 832h2v1h-2zM689 833h2v1h-2zM691 834h2v1h-2zM693 835h1v1h-1zM694 834h2v1h-2zM696 833h2v1h-2zM698 832h1v1h-1zM699 831h2v1h-2zM701 830h1v1h-1zM702 829h1v1h-1zM703 828h1v1h-1zM704 827h1v1h-1zM705 825h1v2h-1zM706 824h1v1h-1zM707 823h1v1h-1zM708 822h1v1h-1zM709 821h9v1h-9zM718 822h2v1h-2zM720 823h2v1h-2zM722 824h1v1h-1zM723 825h2v1h-2zM725 826h2v1h-2zM727 825h2v1h-2zM729 824h2v1h-2zM731 823h2v1h-2zM733 822h1v2h-1zM734 824h1v2h-1zM735 826h1v2h-1zM736 828h1v2h-1zM737 830h1v3h-1zM738 833h1v2h-1zM739 835h1v2h-1zM740 837h1v2h-1zM741 839h1v2h-1zM742 840h4v1h-4zM746 839h4v1h-4zM749 840h1v1h-1zM750 841h1v2h-1zM751 843h1v2h-1zM752 845h1v2h-1zM753 847h1v2h-1zM754 849h1v2h-1zM755 851h1v2h-1zM756 853h1v2h-1zM757 855h1v2h-1zM758 855h2v1h-2zM760 854h2v1h-2zM762 853h1v1h-1zM763 852h2v1h-2zM765 851h11v1h-11zM776 852h4v1h-4zM780 853h2v1h-2zM782 854h1v1h-1zM783 855h1v1h-1zM784 856h2v1h-2zM786 857h1v1h-1zM787 858h1v1h-1zM788 859h1v1h-1zM789 860h2v1h-2zM791 861h2v1h-2zM793 862h2v1h-2zM795 863h2v1h-2zM797 864h2v1h-2zM799 863h3v1h-3zM802 862h2v1h-2zM804 861h3v1h-3zM807 860h3v1h-3zM810 859h2v1h-2zM812 858h4v1h-4zM816 857h4v1h-4zM820 856h6v1h-6zM826 855h4v1h-4zM829 856h1v1h-1zM830 857h1v2h-1zM831 859h1v2h-1zM832 861h1v2h-1zM833 863h1v3h-1zM834 866h1v2h-1zM835 868h1v2h-1zM836 870h1v2h-1zM837 872h1v2h-1zM838 873h1v1h-1zM839 874h2v1h-2zM841 875h2v1h-2zM843 876h2v1h-2zM845 877h3v1h-3zM848 878h4v1h-4zM852 879h3v1h-3zM855 880h2v1h-2zM857 881h2v1h-2zM859 882h2v1h-2zM861 883h2v1h-2zM863 884h2v1h-2zM865 885h2v1h-2zM867 886h2v1h-2zM869 887h3v1h-3zM872 888h4v1h-4zM876 889h2v1h-2zM877 888h1v1h-1zM878 886h1v2h-1zM879 884h1v2h-1zM880 882h1v2h-1zM881 879h1v3h-1zM882 877h1v2h-1zM883 875h1v2h-1zM884 873h1v2h-1zM885 871h1v2h-1zM886 871h1v1h-1zM887 872h2v1h-2zM889 873h2v1h-2zM891 874h2v1h-2zM893 875h1v1h-1zM894 874h2v1h-2zM896 873h2v1h-2zM898 872h1v1h-1zM899 871h2v1h-2zM901 870h3v1h-3zM904 869h4v1h-4zM908 868h3v1h-3zM911 869h3v1h-3zM914 870h2v1h-2zM916 871h2v1h-2zM918 870h1v1h-1zM919 869h1v1h-1zM920 868h1v1h-1zM921 866h1v2h-1zM922 865h1v1h-1zM923 864h1v1h-1zM924 863h1v1h-1zM925 862h1v1h-1zM926 863h1v1h-1zM927 864h1v1h-1zM928 865h1v1h-1zM929 866h1v2h-1zM930 868h1v1h-1zM931 869h1v1h-1zM932 870h1v1h-1zM933 871h2v1h-2zM935 872h3v1h-3zM938 873h2v1h-2zM940 874h2v1h-2zM941 873h1v1h-1zM942 871h1v2h-1zM943 869h1v2h-1zM944 867h1v2h-1zM945 865h1v2h-1zM946 863h1v2h-1zM947 861h1v2h-1zM948 859h1v2h-1zM949 858h1v1h-1zM950 856h1v2h-1zM951 854h1v2h-1zM952 852h1v2h-1zM953 850h1v2h-1zM954 848h1v2h-1zM955 846h1v2h-1zM956 844h1v2h-1zM957 843h2v1h-2zM959 844h2v1h-2zM961 845h2v1h-2zM963 846h2v1h-2zM965 847h2v1h-2zM967 846h3v1h-3zM970 845h2v1h-2zM972 844h2v1h-2zM974 843h1v1h-1zM975 842h1v1h-1zM976 841h1v1h-1zM977 840h1v1h-1zM978 839h1v1h-1zM979 838h1v1h-1zM980 837h1v1h-1zM981 836h3v1h-3zM984 837h4v1h-4zM988 838h6v1h-6zM994 839h4v1h-4zM998 840h2v1h-2zM1000 841h1v1h-1zM1001 842h1v1h-1zM1002 843h2v1h-2zM1004 844h1v1h-1zM1005 845h1v1h-1zM1006 844h1v1h-1zM1007 843h1v1h-1zM1008 842h1v1h-1zM1009 840h1v2h-1zM1010 839h1v1h-1zM1011 838h1v1h-1zM1012 837h1v1h-1zM1013 836h1v1h-1zM1014 837h1v1h-1zM1015 838h1v1h-1zM1016 839h1v1h-1zM1017 840h1v2h-1zM1018 842h1v1h-1zM1019 843h1v1h-1zM1020 844h1v1h-1zM1021 845h1v1h-1zM1022 846h1v1h-1zM1023 847h1v2h-1zM1024 849h1v1h-1zM1025 850h1v1h-1zM1026 851h1v1h-1zM1027 852h1v2h-1zM1028 854h1v1h-1zM1029 855h3v1h-3zM1032 856h4v1h-4zM1036 857h3v1h-3zM1039 856h2v1h-2zM1041 855h2v1h-2zM1043 854h2v1h-2zM1045 853h1v1h-1zM1046 854h1v1h-1zM1047 855h1v1h-1zM1048 856h1v1h-1zM1049 857h1v2h-1zM1050 859h1v1h-1zM1051 860h1v1h-1zM1052 861h1v1h-1zM1053 862h2v1h-2zM1055 863h2v1h-2zM1057 864h2v1h-2zM1059 865h2v1h-2zM1061 866h1v1h-1zM1062 865h1v1h-1zM1063 863h1v2h-1zM1064 862h1v1h-1zM1065 861h1v1h-1zM1066 860h1v1h-1zM1067 858h1v2h-1zM1068 857h1v1h-1zM1069 856h1v1h-1zM1070 857h1v1h-1zM1071 858h1v1h-1zM1072 859h1v1h-1zM1073 860h1v1h-1zM1074 861h1v1h-1zM1075 862h1v1h-1zM1076 863h1v1h-1zM1077 864h3v1h-3zM1080 865h4v1h-4zM1084 866h2v1h-2zM1086 867h2v1h-2zM1088 868h2v1h-2zM1090 869h1v1h-1zM1091 870h2v1h-2zM1093 871h2v1h-2zM1095 872h3v1h-3zM1098 873h2v1h-2zM1100 874h2v1h-2zM1102 873h2v1h-2zM1104 872h2v1h-2zM1106 871h1v1h-1zM1107 870h2v1h-2zM1109 869h3v1h-3zM1112 868h4v1h-4zM1116 867h2v1h-2zM1118 866h2v1h-2zM1120 865h1v1h-1zM1121 864h1v1h-1zM1122 863h2v1h-2zM1124 862h1v1h-1zM1125 861h2v1h-2zM1127 860h2v1h-2zM1129 859h2v1h-2zM1131 858h2v1h-2zM1133 857h3v1h-3zM1136 856h4v1h-4zM1140 855h3v1h-3zM1143 854h3v1h-3zM1146 853h2v1h-2zM1148 852h3v1h-3zM1151 851h3v1h-3zM1154 850h2v1h-2zM1156 849h4v1h-4zM1160 850h4v1h-4zM1164 851h2v1h-2zM1166 850h1v1h-1zM1167 849h1v1h-1zM1168 848h2v1h-2zM1170 847h1v1h-1zM1171 846h1v1h-1zM1172 845h1v1h-1zM1173 844h1v1h-1zM1174 845h1v2h-1zM1175 847h1v1h-1zM1176 848h1v2h-1zM1177 850h1v1h-1zM1178 851h1v2h-1zM1179 853h1v1h-1zM1180 854h1v2h-1zM1181 856h3v1h-3zM1184 857h4v1h-4zM1188 858h2v1h-2zM1190 857h2v1h-2zM1192 856h2v1h-2zM1194 855h1v1h-1zM1195 854h2v1h-2zM1197 853h3v1h-3zM1200 852h4v1h-4zM1204 851h2v1h-2zM1206 849h1v2h-1zM1207 847h1v2h-1zM1208 845h1v2h-1zM1209 843h1v2h-1zM1210 841h1v2h-1zM1211 839h1v2h-1zM1212 837h1v2h-1zM1213 836h1v1h-1zM1214 837h1v1h-1zM1215 838h1v2h-1zM1216 840h1v1h-1zM1217 841h1v1h-1zM1218 842h1v1h-1zM1219 843h1v2h-1zM1220 845h1v1h-1zM1221 846h3v1h-3zM1224 845h4v1h-4zM1228 844h4v1h-4zM1232 845h4v1h-4zM1236 846h3v1h-3zM1239 845h2v1h-2zM1241 844h2v1h-2zM1243 843h2v1h-2zM1245 842h1v1h-1zM1246 843h1v1h-1zM1247 844h1v1h-1zM1248 845h1v1h-1zM1249 846h1v2h-1zM1250 848h1v1h-1zM1251 849h1v1h-1zM1252 850h1v1h-1zM1253 851h1v1h-1zM1254 852h1v1h-1zM1255 853h1v2h-1zM1256 855h1v1h-1zM1257 856h1v1h-1zM1258 857h1v1h-1zM1259 858h1v2h-1zM1260 860h1v1h-1zM1261 861h2v1h-2zM1263 862h3v1h-3zM1266 863h2v1h-2zM1268 864h2v1h-2zM1270 863h1v1h-1zM1271 861h1v2h-1zM1272 860h1v1h-1zM1273 859h1v1h-1zM1274 858h1v1h-1zM1275 856h1v2h-1zM1276 855h1v1h-1zM1277 853h1v2h-1zM1278 851h1v2h-1zM1279 849h1v2h-1zM1280 847h1v2h-1zM1281 844h1v3h-1zM1282 842h1v2h-1zM1283 840h1v2h-1zM1284 838h1v2h-1zM1285 836h1v2h-1zM1286 835h2v1h-2zM1288 834h2v1h-2zM1290 833h1v1h-1zM1291 832h2v1h-2zM1293 831h1v1h-1zM1294 830h1v1h-1zM1295 829h1v1h-1zM1296 828h1v1h-1zM1297 826h1v2h-1zM1298 825h1v1h-1zM1299 824h1v1h-1zM1300 823h1v1h-1zM1301 822h5v1h-5zM1306 823h5v1h-5zM1311 822h2v1h-2zM1313 821h2v1h-2zM1315 820h2v1h-2zM1317 819h1v1h-1zM1318 820h2v1h-2zM1320 821h2v1h-2zM1322 822h1v1h-1zM1323 823h2v1h-2zM1325 824h1v1h-1zM1326 822h1v2h-1zM1327 820h1v2h-1zM1328 818h1v2h-1zM1329 817h1v1h-1zM1330 815h1v2h-1zM1331 813h1v2h-1zM1332 811h1v2h-1zM1333 810h2v1h-2zM1335 809h2v1h-2zM1337 808h2v1h-2zM1339 807h2v1h-2zM1341 806h3v1h-3zM1344 805h4v1h-4zM1348 804h6v1h-6zM1354 803h4v1h-4zM1358 804h1v2h-1zM1359 806h1v2h-1zM1360 808h1v2h-1zM1361 810h1v2h-1zM1362 812h1v2h-1zM1363 814h1v2h-1zM1364 816h1v2h-1zM1365 818h1v1h-1zM1366 817h2v1h-2zM1368 816h1v1h-1zM1369 815h1v1h-1zM1370 814h2v1h-2zM1372 813h1v1h-1zM1373 812h1v1h-1zM1374 813h1v1h-1zM1375 814h1v1h-1zM1376 815h1v1h-1zM1377 816h1v1h-1zM1378 817h1v1h-1zM1379 818h1v1h-1zM1380 819h1v1h-1zM1381 820h2v1h-2zM1383 821h3v1h-3zM1386 822h2v1h-2zM1388 823h10v1h-10zM1398 824h1v1h-1zM1399 825h1v1h-1zM1400 826h1v1h-1zM1401 827h1v1h-1zM1402 828h1v1h-1zM1403 829h1v1h-1zM1404 830h1v1h-1zM1405 831h3v1h-3zM1408 830h4v1h-4zM1412 829h6v1h-6zM1418 830h4v1h-4z" fill="#1e90ff" />
<rect x="0" y="26" width="1649" height="1" fill="#000" />
<rect x="1648" y="26" width="1" height="902" fill="#000" />
<rect x="0" y="579" width="1649" height="1" fill="#000" />
<rect x="0" y="581" width="1649" height="1" fill="#000" />
<rect x="0" y="751" width="1649" height="1" fill="#000" />
<rect x="0" y="753" width="1649" height="1" fill="#000" />
<rect x="0" y="927" width="1649" height="1" fill="#000" />
<rect x="1694" y="24" width="1" height="924" fill="#e3e3e3" />
<rect x="1695" y="24" width="1" height="924" fill="#ececec" />
<rect x="1649" y="48" width="2" height="1" fill="#000" />
<rect x="1649" y="81" width="2" height="1" fill="#000" />
<rect x="1649" y="114" width="2" height="1" fill="#000" />
<rect x="1649" y="147" width="2" height="1" fill="#000" />
<rect x="1649" y="180" width="2" height="1" fill="#000" />
<rect x="1649" y="213" width="2" height="1" fill="#000" />
<rect x="1649" y="246" width="2" height="1" fill="#000" />
<rect x="1649" y="279" width="2" height="1" fill="#000" />
<rect x="1649" y="312" width="2" height="1" fill="#000" />
<rect x="1649" y="345" width="2" height="1" fill="#000" />
<rect x="1649" y="378" width="2" height="1" fill="#000" />
<rect x="1649" y="411" width="2" height="1" fill="#000" />
<rect x="1649" y="444" width="2" height="1" fill="#000" />
<rect x="1649" y="477" width="2" height="1" fill="#000" />
<rect x="1649" y="510" width="2" height="1" fill="#000" />
<rect x="1649" y="543" width="2" height="1" fill="#000" />
<rect x="1649" y="576" width="2" height="1" fill="#000" />
<rect x="1649" y="661" width="2" height="1" fill="#000" />
<rect x="1649" y="789" width="2" height="1" fill="#000" />
<rect x="1649" y="840" width="2" height="1" fill="#000" />
<rect x="1649" y="901" width="2" height="1" fill="#000" />
<rect x="1649" y="583" width="1" height="1" fill="#000" />
<rect x="1649" y="750" width="1" height="1" fill="#000" />
<rect x="1649" y="755" width="1" height="1" fill="#000" />
<rect x="1649" y="926" width="1" height="1" fill="#000" />
<rect x="53" y="928" width="1" height="3" fill="#000" />
<rect x="117" y="928" width="1" height="3" fill="#000" />
<rect x="181" y="928" width="1" height="3" fill="#000" />
<rect x="245" y="928" width="1" height="3" fill="#000" />
<rect x="309" y="928" width="1" height="3" fill="#000" />
<rect x="373" y="928" width="1" height="3" fill="#000" />
<rect x="437" y="928" width="1" height="3" fill="#000" />
<rect x="501" y="928" width="1" height="3" fill="#000" />
<rect x="565" y="928" width="1" height="3" fill="#000" />
<rect x="629" y="928" width="1" height="3" fill="#000" />
<rect x="693" y="928" width="1" height="3" fill="#000" />
<rect x="757" y="928" width="1" height="3" fill="#000" />
<rect x="821" y="928" width="1" height="3" fill="#000" />
<rect x="885" y="928" width="1" height="3" fill="#000" />
<rect x="949" y="928" width="1" height="3" fill="#000" />
<rect x="1013" y="928" width="1" height="3" fill="#000" />
<rect x="1077" y="928" width="1" height="3" fill="#000" />
<rect x="1141" y="928" width="1" height="3" fill="#000" />
<rect x="1205" y="928" width="1" height="3" fill="#000" />
<rect x="1269" y="928" width="1" height="3" fill="#000" />
<rect x="1333" y="928" width="1" height="3" fill="#000" />
<rect x="1397" y="928" width="1" height="3" fill="#000" />
</g>
<text x="1653.8" y="52" font-size="9.9" fill="#000" text-anchor="start" font-weight="normal" textLength="33.69" lengthAdjust="spacingAndGlyphs"  stroke="#000" stroke-width="0.12">26283.5</text>
<text x="1653.8" y="85" font-size="9.9" fill="#000" text-anchor="start" font-weight="normal" textLength="33.69" lengthAdjust="spacingAndGlyphs"  stroke="#000" stroke-width="0.12">26056.0</text>
<text x="1653.8" y="118" font-size="9.9" fill="#000" text-anchor="start" font-weight="normal" textLength="33.69" lengthAdjust="spacingAndGlyphs"  stroke="#000" stroke-width="0.12">25822.0</text>
<text x="1653.8" y="151" font-size="9.9" fill="#000" text-anchor="start" font-weight="normal" textLength="33.69" lengthAdjust="spacingAndGlyphs"  stroke="#000" stroke-width="0.12">25594.5</text>
<text x="1653.8" y="184" font-size="9.9" fill="#000" text-anchor="start" font-weight="normal" textLength="33.69" lengthAdjust="spacingAndGlyphs"  stroke="#000" stroke-width="0.12">25360.5</text>
<text x="1653.8" y="217" font-size="9.9" fill="#000" text-anchor="start" font-weight="normal" textLength="33.69" lengthAdjust="spacingAndGlyphs"  stroke="#000" stroke-width="0.12">25126.5</text>
<text x="1653.8" y="250" font-size="9.9" fill="#000" text-anchor="start" font-weight="normal" textLength="33.69" lengthAdjust="spacingAndGlyphs"  stroke="#000" stroke-width="0.12">24899.0</text>
<text x="1653.8" y="283" font-size="9.9" fill="#000" text-anchor="start" font-weight="normal" textLength="33.69" lengthAdjust="spacingAndGlyphs"  stroke="#000" stroke-width="0.12">24665.0</text>
<text x="1653.8" y="316" font-size="9.9" fill="#000" text-anchor="start" font-weight="normal" textLength="33.69" lengthAdjust="spacingAndGlyphs"  stroke="#000" stroke-width="0.12">24437.5</text>
<text x="1653.8" y="349" font-size="9.9" fill="#000" text-anchor="start" font-weight="normal" textLength="33.69" lengthAdjust="spacingAndGlyphs"  stroke="#000" stroke-width="0.12">24203.5</text>
<text x="1653.8" y="382" font-size="9.9" fill="#000" text-anchor="start" font-weight="normal" textLength="33.69" lengthAdjust="spacingAndGlyphs"  stroke="#000" stroke-width="0.12">23976.0</text>
<text x="1653.8" y="415" font-size="9.9" fill="#000" text-anchor="start" font-weight="normal" textLength="33.69" lengthAdjust="spacingAndGlyphs"  stroke="#000" stroke-width="0.12">23742.0</text>
<text x="1653.8" y="448" font-size="9.9" fill="#000" text-anchor="start" font-weight="normal" textLength="33.69" lengthAdjust="spacingAndGlyphs"  stroke="#000" stroke-width="0.12">23514.5</text>
<text x="1653.8" y="481" font-size="9.9" fill="#000" text-anchor="start" font-weight="normal" textLength="33.69" lengthAdjust="spacingAndGlyphs"  stroke="#000" stroke-width="0.12">23280.5</text>
<text x="1653.8" y="514" font-size="9.9" fill="#000" text-anchor="start" font-weight="normal" textLength="33.69" lengthAdjust="spacingAndGlyphs"  stroke="#000" stroke-width="0.12">23053.0</text>
<text x="1653.8" y="547" font-size="9.9" fill="#000" text-anchor="start" font-weight="normal" textLength="33.69" lengthAdjust="spacingAndGlyphs"  stroke="#000" stroke-width="0.12">22819.0</text>
<text x="1653.8" y="580" font-size="9.9" fill="#000" text-anchor="start" font-weight="normal" textLength="33.69" lengthAdjust="spacingAndGlyphs"  stroke="#000" stroke-width="0.12">22591.5</text>
<rect x="1650" y="358" width="41" height="11" fill="#000" shape-rendering="crispEdges"/>
<text x="1653.8" y="367" font-size="9.9" fill="#fff" text-anchor="start" font-weight="normal" textLength="33.69" lengthAdjust="spacingAndGlyphs"  stroke="#fff" stroke-width="0.2">24071.0</text>
<rect x="1650" y="354" width="41" height="11" fill="#32cd32" shape-rendering="crispEdges"/>
<text x="1653.8" y="363" font-size="9.9" fill="#fff" text-anchor="start" font-weight="normal" textLength="33.69" lengthAdjust="spacingAndGlyphs"  stroke="#fff" stroke-width="0.2">24101.2</text>
<rect x="1650" y="301" width="41" height="11" fill="#ff0000" shape-rendering="crispEdges"/>
<text x="1653.8" y="310" font-size="9.9" fill="#fff" text-anchor="start" font-weight="normal" textLength="33.69" lengthAdjust="spacingAndGlyphs"  stroke="#fff" stroke-width="0.2">24472.1</text>
<rect x="1650" y="329" width="41" height="11" fill="#ff0000" shape-rendering="crispEdges"/>
<text x="1653.8" y="338" font-size="9.9" fill="#fff" text-anchor="start" font-weight="normal" textLength="33.69" lengthAdjust="spacingAndGlyphs"  stroke="#fff" stroke-width="0.2">24279.2</text>
<rect x="1650" y="389" width="41" height="11" fill="#0000ff" shape-rendering="crispEdges"/>
<text x="1653.8" y="398" font-size="9.9" fill="#fff" text-anchor="start" font-weight="normal" textLength="33.69" lengthAdjust="spacingAndGlyphs"  stroke="#fff" stroke-width="0.2">23856.5</text>
<rect x="1650" y="413" width="41" height="11" fill="#0000ff" shape-rendering="crispEdges"/>
<text x="1653.8" y="422" font-size="9.9" fill="#fff" text-anchor="start" font-weight="normal" textLength="33.69" lengthAdjust="spacingAndGlyphs"  stroke="#fff" stroke-width="0.2">23685.9</text>
<text x="1651.5" y="592" font-size="9.9" fill="#000" text-anchor="start" font-weight="normal" textLength="28.51" lengthAdjust="spacingAndGlyphs"  stroke="#000" stroke-width="0.12">433.23</text>
<text x="1651.5" y="665" font-size="9.9" fill="#000" text-anchor="start" font-weight="normal" textLength="18.14" lengthAdjust="spacingAndGlyphs"  stroke="#000" stroke-width="0.12">0.00</text>
<text x="1651.5" y="748" font-size="9.9" fill="#000" text-anchor="start" font-weight="normal" textLength="31.61" lengthAdjust="spacingAndGlyphs"  stroke="#000" stroke-width="0.12">-491.94</text>
<text x="1651.5" y="764" font-size="9.9" fill="#000" text-anchor="start" font-weight="normal" textLength="15.55" lengthAdjust="spacingAndGlyphs"  stroke="#000" stroke-width="0.12">100</text>
<text x="1651.5" y="793" font-size="9.9" fill="#000" text-anchor="start" font-weight="normal" textLength="10.37" lengthAdjust="spacingAndGlyphs"  stroke="#000" stroke-width="0.12">80</text>
<text x="1651.5" y="844" font-size="9.9" fill="#000" text-anchor="start" font-weight="normal" textLength="10.37" lengthAdjust="spacingAndGlyphs"  stroke="#000" stroke-width="0.12">50</text>
<text x="1651.5" y="905" font-size="9.9" fill="#000" text-anchor="start" font-weight="normal" textLength="10.37" lengthAdjust="spacingAndGlyphs"  stroke="#000" stroke-width="0.12">15</text>
<text x="1651.5" y="924" font-size="9.9" fill="#000" text-anchor="start" font-weight="normal" textLength="5.18" lengthAdjust="spacingAndGlyphs"  stroke="#000" stroke-width="0.12">0</text>
<text x="-5.9" y="594" font-size="9.9" fill="#000" text-anchor="start" font-weight="normal" textLength="126.94" lengthAdjust="spacingAndGlyphs"  stroke="#000" stroke-width="0.12">MACD(12,26,9) 206.33 256.29</text>
<text x="-7.3" y="766" font-size="9.9" fill="#000" text-anchor="start" font-weight="normal" textLength="68.39" lengthAdjust="spacingAndGlyphs"  stroke="#000" stroke-width="0.12">RSI(14) 56.3665</text>
<text x="4.2" y="38" font-size="9.9" fill="#000" text-anchor="start" font-weight="normal" textLength="188.63" lengthAdjust="spacingAndGlyphs" xml:space="preserve" stroke="#000" stroke-width="0.12">HK50-,H4  24078.0 24090.0 23936.5 24071.0</text>
<text x="-12.1" y="940" font-size="9.9" fill="#000" text-anchor="start" font-weight="normal" textLength="47.41" lengthAdjust="spacingAndGlyphs"  stroke="#000" stroke-width="0.12">9 Sep 2021</text>
<text x="51.9" y="940" font-size="9.9" fill="#000" text-anchor="start" font-weight="normal" textLength="55.13" lengthAdjust="spacingAndGlyphs"  stroke="#000" stroke-width="0.12">14 Sep 05:00</text>
<text x="115.9" y="940" font-size="9.9" fill="#000" text-anchor="start" font-weight="normal" textLength="55.13" lengthAdjust="spacingAndGlyphs"  stroke="#000" stroke-width="0.12">20 Sep 05:00</text>
<text x="179.9" y="940" font-size="9.9" fill="#000" text-anchor="start" font-weight="normal" textLength="55.13" lengthAdjust="spacingAndGlyphs"  stroke="#000" stroke-width="0.12">27 Sep 05:00</text>
<text x="243.9" y="940" font-size="9.9" fill="#000" text-anchor="start" font-weight="normal" textLength="47.91" lengthAdjust="spacingAndGlyphs"  stroke="#000" stroke-width="0.12">4 Oct 05:00</text>
<text x="307.9" y="940" font-size="9.9" fill="#000" text-anchor="start" font-weight="normal" textLength="47.91" lengthAdjust="spacingAndGlyphs"  stroke="#000" stroke-width="0.12">8 Oct 05:00</text>
<text x="371.9" y="940" font-size="9.9" fill="#000" text-anchor="start" font-weight="normal" textLength="53.06" lengthAdjust="spacingAndGlyphs"  stroke="#000" stroke-width="0.12">18 Oct 01:15</text>
<text x="435.9" y="940" font-size="9.9" fill="#000" text-anchor="start" font-weight="normal" textLength="53.06" lengthAdjust="spacingAndGlyphs"  stroke="#000" stroke-width="0.12">22 Oct 01:15</text>
<text x="499.9" y="940" font-size="9.9" fill="#000" text-anchor="start" font-weight="normal" textLength="53.06" lengthAdjust="spacingAndGlyphs"  stroke="#000" stroke-width="0.12">28 Oct 01:15</text>
<text x="563.9" y="940" font-size="9.9" fill="#000" text-anchor="start" font-weight="normal" textLength="49.97" lengthAdjust="spacingAndGlyphs"  stroke="#000" stroke-width="0.12">3 Nov 01:15</text>
<text x="627.9" y="940" font-size="9.9" fill="#000" text-anchor="start" font-weight="normal" textLength="49.97" lengthAdjust="spacingAndGlyphs"  stroke="#000" stroke-width="0.12">9 Nov 01:15</text>
<text x="691.9" y="940" font-size="9.9" fill="#000" text-anchor="start" font-weight="normal" textLength="55.12" lengthAdjust="spacingAndGlyphs"  stroke="#000" stroke-width="0.12">15 Nov 01:15</text>
<text x="755.9" y="940" font-size="9.9" fill="#000" text-anchor="start" font-weight="normal" textLength="55.12" lengthAdjust="spacingAndGlyphs"  stroke="#000" stroke-width="0.12">19 Nov 01:15</text>
<text x="819.9" y="940" font-size="9.9" fill="#000" text-anchor="start" font-weight="normal" textLength="55.12" lengthAdjust="spacingAndGlyphs"  stroke="#000" stroke-width="0.12">25 Nov 01:15</text>
<text x="883.9" y="940" font-size="9.9" fill="#000" text-anchor="start" font-weight="normal" textLength="49.97" lengthAdjust="spacingAndGlyphs"  stroke="#000" stroke-width="0.12">1 Dec 01:15</text>
<text x="947.9" y="940" font-size="9.9" fill="#000" text-anchor="start" font-weight="normal" textLength="49.97" lengthAdjust="spacingAndGlyphs"  stroke="#000" stroke-width="0.12">7 Dec 01:15</text>
<text x="1011.9" y="940" font-size="9.9" fill="#000" text-anchor="start" font-weight="normal" textLength="55.12" lengthAdjust="spacingAndGlyphs"  stroke="#000" stroke-width="0.12">13 Dec 01:15</text>
<text x="1075.9" y="940" font-size="9.9" fill="#000" text-anchor="start" font-weight="normal" textLength="55.12" lengthAdjust="spacingAndGlyphs"  stroke="#000" stroke-width="0.12">17 Dec 01:15</text>
<text x="1139.9" y="940" font-size="9.9" fill="#000" text-anchor="start" font-weight="normal" textLength="55.12" lengthAdjust="spacingAndGlyphs"  stroke="#000" stroke-width="0.12">23 Dec 01:15</text>
<text x="1203.9" y="940" font-size="9.9" fill="#000" text-anchor="start" font-weight="normal" textLength="55.12" lengthAdjust="spacingAndGlyphs"  stroke="#000" stroke-width="0.12">30 Dec 05:00</text>
<text x="1267.9" y="940" font-size="9.9" fill="#000" text-anchor="start" font-weight="normal" textLength="48.43" lengthAdjust="spacingAndGlyphs"  stroke="#000" stroke-width="0.12">6 Jan 01:15</text>
<text x="1331.9" y="940" font-size="9.9" fill="#000" text-anchor="start" font-weight="normal" textLength="53.59" lengthAdjust="spacingAndGlyphs"  stroke="#000" stroke-width="0.12">12 Jan 01:15</text>
<text x="1395.9" y="940" font-size="9.9" fill="#000" text-anchor="start" font-weight="normal" textLength="53.59" lengthAdjust="spacingAndGlyphs"  stroke="#000" stroke-width="0.12">18 Jan 01:15</text>
<rect x="264.5" y="417.5" width="60" height="18" fill="#fff" stroke="#ff0000" stroke-width="1" shape-rendering="crispEdges"/>
<rect x="253" y="426" width="11" height="1" fill="#ff0000" shape-rendering="crispEdges"/>
<text x="266.0" y="432.3" font-size="17.3" fill="#ff0000" text-anchor="start" font-weight="normal" textLength="57.6" lengthAdjust="spacingAndGlyphs"  stroke="#ff0000" stroke-width="0.1">23641.4</text>
<rect x="942.5" y="311.5" width="61" height="18" fill="#fff" stroke="#ff0000" stroke-width="1" shape-rendering="crispEdges"/>
<rect x="1004" y="320" width="10" height="1" fill="#ff0000" shape-rendering="crispEdges"/>
<text x="944.0" y="326.3" font-size="17.3" fill="#ff0000" text-anchor="start" font-weight="normal" textLength="58" lengthAdjust="spacingAndGlyphs"  stroke="#ff0000" stroke-width="0.1">24383.1</text>
<rect x="1030.5" y="558.5" width="61" height="18" fill="#fff" stroke="#ff0000" stroke-width="1" shape-rendering="crispEdges"/>
<rect x="1092" y="567" width="10" height="1" fill="#ff0000" shape-rendering="crispEdges"/>
<text x="1032.0" y="573.4" font-size="17.3" fill="#ff0000" text-anchor="start" font-weight="normal" textLength="58" lengthAdjust="spacingAndGlyphs"  stroke="#ff0000" stroke-width="0.1">22655.0</text>
<rect x="1198.5" y="550.5" width="61" height="18" fill="#fff" stroke="#ff0000" stroke-width="1" shape-rendering="crispEdges"/>
<rect x="1260" y="559" width="10" height="1" fill="#ff0000" shape-rendering="crispEdges"/>
<text x="1200.0" y="565.4" font-size="17.3" fill="#ff0000" text-anchor="start" font-weight="normal" textLength="58" lengthAdjust="spacingAndGlyphs"  stroke="#ff0000" stroke-width="0.1">22706.9</text>
<rect x="1278.5" y="288.5" width="61" height="18" fill="#fff" stroke="#ff0000" stroke-width="1" shape-rendering="crispEdges"/>
<rect x="1340" y="297" width="10" height="1" fill="#ff0000" shape-rendering="crispEdges"/>
<text x="1280.0" y="303.4" font-size="17.3" fill="#ff0000" text-anchor="start" font-weight="normal" textLength="58" lengthAdjust="spacingAndGlyphs"  stroke="#ff0000" stroke-width="0.1">24538.8</text>
<rect x="1224.5" y="348.5" width="73" height="24" fill="#fff" stroke="#ff0000" stroke-width="1" shape-rendering="crispEdges"/>
<rect x="1214" y="360" width="10" height="1" fill="#ff0000" shape-rendering="crispEdges"/>
<text x="1225.2" y="369.1" font-size="23.4" fill="#ff0000" text-anchor="start" font-weight="normal" textLength="71.6" lengthAdjust="spacingAndGlyphs"  stroke="#ff0000" stroke-width="0.5">24101.2</text>
<g stroke="#ff0000" fill="#ff0000" stroke-linecap="butt" shape-rendering="crispEdges">
<line x1="1347" y1="303" x2="1430.2" y2="382.7" stroke-width="3.4"/>
<line x1="1431.8" y1="384.2" x2="1421.8" y2="380.3" stroke-width="3"/>
<line x1="1431.8" y1="384.2" x2="1427.5" y2="374.4" stroke-width="3"/>
<polygon stroke="none" points="1432.4,384.8 1424.8,381.6 1428.9,377.3"/>
</g>
<g stroke="#ff0000" fill="#ff0000" stroke-linecap="butt" shape-rendering="crispEdges">
<line x1="1366.4" y1="602.2" x2="1434.2" y2="627.9" stroke-width="3.4"/>
<line x1="1436.3" y1="628.7" x2="1425.5" y2="629.0" stroke-width="3"/>
<line x1="1436.3" y1="628.7" x2="1428.4" y2="621.3" stroke-width="3"/>
<polygon stroke="none" points="1437.0,629.0 1428.7,629.0 1430.8,623.5"/>
</g>
<g stroke="#ff0000" fill="#ff0000" stroke-linecap="butt" shape-rendering="crispEdges">
<line x1="1345.9" y1="801.9" x2="1426.2" y2="831.8" stroke-width="3.4"/>
<line x1="1428.3" y1="832.5" x2="1417.5" y2="832.9" stroke-width="3"/>
<line x1="1428.3" y1="832.5" x2="1420.4" y2="825.2" stroke-width="3"/>
<polygon stroke="none" points="1429.0,832.8 1420.7,832.9 1422.8,827.3"/>
</g>
<rect x="1380" y="355" width="98" height="9" fill="#00ff00" shape-rendering="crispEdges"/>
<g shape-rendering="crispEdges">
<rect x="0" y="44" width="213" height="61" fill="#fff"/>
<rect x="0" y="46" width="44" height="24" fill="url(#gb1)"/>
<rect x="159" y="46" width="52" height="24" fill="url(#gb1)"/>
<rect x="0" y="70" width="101" height="33" fill="url(#gb2)"/>
<rect x="103" y="70" width="108" height="33" fill="url(#gb2)"/>
<rect x="0" y="46" width="44" height="1" fill="#1010b0"/>
<rect x="43" y="46" width="1" height="24" fill="#1010b0"/>
<rect x="159" y="46" width="52" height="1" fill="#1010b0"/>
<rect x="159" y="46" width="1" height="24" fill="#1010b0"/>
<rect x="0" y="69" width="40" height="1" fill="#0c0ca8"/>
<rect x="0" y="70" width="40" height="1" fill="#7070ff"/>
<rect x="163" y="69" width="44" height="1" fill="#0c0ca8"/>
<rect x="163" y="70" width="44" height="1" fill="#7070ff"/>
<rect x="0" y="102" width="101" height="1" fill="#0000a0"/>
<rect x="103" y="102" width="108" height="1" fill="#0000a0"/>
<rect x="46.5" y="46.5" width="110" height="21" rx="1" fill="#fff" stroke="#a4a4a4"/>
<rect x="48" y="48" width="18" height="18" fill="url(#gbtn)"/>
<rect x="137" y="48" width="18" height="18" fill="url(#gbtn)"/>
<rect x="67" y="47" width="1" height="20" fill="#b0b0b0"/>
<rect x="135" y="47" width="1" height="20" fill="#b0b0b0"/>
</g>
<polygon points="53.8,55 59.8,55 56.8,58.4" fill="#4a64c4"/>
<polygon points="142.6,57.6 148.6,57.6 145.6,54.4" fill="#4a64c4"/>
<text x="132.3" y="60.9" font-size="12.4" fill="#000" text-anchor="end" font-weight="normal" textLength="24" lengthAdjust="spacingAndGlyphs"  stroke="#000" stroke-width="0.2">1.00</text>
<text x="4.3" y="62.1" font-size="12.3" fill="#fff" text-anchor="start" font-weight="normal" textLength="26.2" lengthAdjust="spacingAndGlyphs" >SELL</text>
<text x="172.4" y="62.1" font-size="12.3" fill="#fff" text-anchor="start" font-weight="normal" textLength="24" lengthAdjust="spacingAndGlyphs" >BUY</text>
<text x="8.3" y="97.9" font-size="11.8" fill="#fff" text-anchor="start" font-weight="bold" textLength="35" lengthAdjust="spacingAndGlyphs" >24069</text>
<text x="118.3" y="97.9" font-size="11.8" fill="#fff" text-anchor="start" font-weight="bold" textLength="35" lengthAdjust="spacingAndGlyphs" >24082</text>
<text x="45.6" y="98.1" font-size="27" font-weight="bold" fill="#fff">.</text>
<text x="156.6" y="98.1" font-size="27" font-weight="bold" fill="#fff">.</text>
<text x="54.6" y="98.1" font-size="35.3" fill="#fff" text-anchor="start" font-weight="normal" textLength="15.8" lengthAdjust="spacingAndGlyphs" >5</text>
<text x="165.7" y="98.1" font-size="35.3" fill="#fff" text-anchor="start" font-weight="normal" textLength="15.8" lengthAdjust="spacingAndGlyphs" >5</text>
<g shape-rendering="crispEdges">
<rect x="0" y="0" width="1696" height="22" fill="#f0f0f0"/>
<rect x="0" y="22" width="1695" height="1" fill="#a9a9a9"/>
<rect x="0" y="23" width="1695" height="1" fill="#707070"/>
</g>
<path d="M0,16.2 L2.2,17.6 L1.6,19.6 L0,20.2 z" fill="#d4a020"/>
<g shape-rendering="crispEdges"><rect x="9" y="0" width="1" height="20" fill="#a0a0a0"/></g>
<path d="M19.5,2.5 H27.5 L30.5,5.5 V15.5 H19.5 Z" fill="#ffffff" stroke="#7a7a7a" stroke-width="1"/><path d="M27.5,2.5 V5.5 H30.5" fill="none" stroke="#7a7a7a" stroke-width="1"/><g shape-rendering="crispEdges"><rect x="21" y="4" width="3" height="2" fill="#8c8c8c"/><rect x="21" y="8" width="6" height="1" fill="#8c8c8c"/><rect x="21" y="10" width="5" height="1" fill="#8c8c8c"/><rect x="21" y="12" width="3" height="1" fill="#8c8c8c"/><rect x="27" y="8" width="4" height="12" fill="#0a8a10"/><rect x="23" y="12" width="12" height="4" fill="#0a8a10"/><rect x="28" y="9" width="2" height="10" fill="url(#gplus)"/><rect x="24" y="13" width="10" height="2" fill="url(#gplus)"/></g>
<text x="38.0" y="12.8" font-size="12.0" fill="#000" stroke="#000" stroke-width="0.12" textLength="65.0" lengthAdjust="spacingAndGlyphs">New Order</text>
<path d="M121,4 L131,11.6 L124.2,18 L115.6,12.6 z" fill="#d8b860" stroke="#a87410" stroke-width="0.8"/>
<path d="M116.6,10.4 L124.6,15.6 L123.4,17.7 L115,12 z" fill="url(#gspine)" stroke="#a86c0c" stroke-width="0.7"/>
<path d="M120.4,3.2 L130,9.4 L124.6,15.6 L116.6,10.4 C118.6,8.6 119.8,6 120.4,3.2 z" fill="url(#ggold)" stroke="#a86c0c" stroke-width="0.8"/>
<path d="M145.2,2.6 H153.2 L156,4.2 V11 H145.2 z" fill="url(#gsky)" stroke="#2a78d8" stroke-width="0.5"/>
<path d="M146,3.4 L148.4,5.2 V10.6" fill="none" stroke="#e8f6ff" stroke-width="0.7"/>
<path d="M150,7.4 L154.6,6.6" stroke="#ffffff" stroke-width="1"/>
<path d="M145.4,17.4 a2.4,2.4 0 0 1 0.6,-4.7 a2.2,2.2 0 0 1 3,-1.4 a3.2,3.2 0 0 1 5.4,0.6 a2.6,2.6 0 0 1 3.6,1.6 a2.2,2.2 0 0 1 -0.6,4 z" fill="url(#gcloud)" stroke="#4c609c" stroke-width="0.9"/>
<g fill="none"><circle cx="179" cy="9.9" r="7.6" stroke="#6c94dc" stroke-width="1" opacity="0.75"/>
<circle cx="179" cy="9.9" r="4.8" stroke="#5c88d8" stroke-width="1" opacity="0.8"/></g>
<path d="M179,9.9 L183.4,3.4 A7.9,7.9 0 0 1 179,17.8 z" fill="url(#gsig)"/>
<path d="M183.6,3.6 A7.7,7.7 0 0 1 180,17.5" fill="none" stroke="#3c7878" stroke-width="1" opacity="0.7"/>
<circle cx="178.8" cy="9.6" r="2" fill="#2454c8"/>
<rect x="179" y="10" width="1.3" height="7.8" fill="#18a418"/>
<path d="M198.6,9.4 L205.6,17.6 L209,17.6 L213.2,9.2 z" fill="url(#gface)" stroke="#c89810" stroke-width="0.7"/>
<path d="M198.2,7.6 C198.6,5.4 201.8,6 202.6,4.4 C203.2,2.2 207.4,2 208.2,4.2 C209.4,6 213.2,4.8 213.8,6.4 C213.6,8.6 207.6,9.6 204.4,9.6 C201.4,9.6 198.2,9.2 198.2,7.6 z" fill="url(#ghat)" stroke="#2c88b8" stroke-width="0.8"/>
<circle cx="210.5" cy="13.7" r="4.1" fill="url(#gstop)" stroke="#a82010" stroke-width="0.5"/>
<rect x="209" y="12.2" width="3.1" height="3.1" fill="#fff"/>
<text x="219.1" y="12.8" font-size="12.0" fill="#000" stroke="#000" stroke-width="0.12" textLength="71.8" lengthAdjust="spacingAndGlyphs">AutoTrading</text>
<g shape-rendering="crispEdges"><rect x="298" y="0" width="1" height="21" fill="#a0a0a0"/></g>
<g shape-rendering="crispEdges"><rect x="302" y="1" width="3" height="1" fill="#a4a4a4"/><rect x="302" y="3" width="3" height="1" fill="#a4a4a4"/><rect x="302" y="5" width="3" height="1" fill="#a4a4a4"/><rect x="302" y="7" width="3" height="1" fill="#a4a4a4"/><rect x="302" y="9" width="3" height="1" fill="#a4a4a4"/><rect x="302" y="11" width="3" height="1" fill="#a4a4a4"/><rect x="302" y="13" width="3" height="1" fill="#a4a4a4"/><rect x="302" y="15" width="3" height="1" fill="#a4a4a4"/><rect x="302" y="17" width="3" height="1" fill="#a4a4a4"/><rect x="302" y="19" width="3" height="1" fill="#a4a4a4"/></g>
<g shape-rendering="crispEdges"><rect x="316" y="4" width="1" height="14" fill="#555555"/><rect x="315" y="5" width="3" height="1" fill="#555555"/><rect x="314" y="15" width="14" height="1" fill="#555555"/><rect x="326" y="14" width="1" height="3" fill="#555555"/><rect x="315" y="6" width="1" height="1" fill="#8a8a8a"/><rect x="317" y="6" width="1" height="1" fill="#8a8a8a"/><rect x="325" y="14" width="1" height="1" fill="#8a8a8a"/><rect x="325" y="16" width="1" height="1" fill="#8a8a8a"/></g>
<g shape-rendering="crispEdges"><rect x="322" y="5" width="1" height="9" fill="#0a8c0a"/><rect x="323" y="6" width="2" height="1" fill="#0a8c0a"/><rect x="320" y="12" width="2" height="1" fill="#0a8c0a"/></g>
<g shape-rendering="crispEdges"><rect x="337" y="0" width="25" height="20" fill="url(#dots)"/><rect x="336" y="0" width="1" height="21" fill="#a0a0a0"/><rect x="361" y="0" width="1" height="21" fill="#ffffff"/><rect x="336" y="20" width="26" height="1" fill="#ffffff"/></g>
<g shape-rendering="crispEdges"><rect x="344" y="4" width="1" height="14" fill="#555555"/><rect x="343" y="5" width="3" height="1" fill="#555555"/><rect x="342" y="15" width="14" height="1" fill="#555555"/><rect x="354" y="14" width="1" height="3" fill="#555555"/><rect x="343" y="6" width="1" height="1" fill="#8a8a8a"/><rect x="345" y="6" width="1" height="1" fill="#8a8a8a"/><rect x="353" y="14" width="1" height="1" fill="#8a8a8a"/><rect x="353" y="16" width="1" height="1" fill="#8a8a8a"/></g>
<g shape-rendering="crispEdges"><rect x="350" y="2" width="1" height="12" fill="#0a8a10"/><rect x="348" y="4" width="5" height="8" fill="#0a8a10"/><rect x="349" y="5" width="3" height="6" fill="url(#gcandle)"/></g>
<g shape-rendering="crispEdges"><rect x="372" y="4" width="1" height="14" fill="#555555"/><rect x="371" y="5" width="3" height="1" fill="#555555"/><rect x="370" y="15" width="14" height="1" fill="#555555"/><rect x="382" y="14" width="1" height="3" fill="#555555"/><rect x="371" y="6" width="1" height="1" fill="#8a8a8a"/><rect x="373" y="6" width="1" height="1" fill="#8a8a8a"/><rect x="381" y="14" width="1" height="1" fill="#8a8a8a"/><rect x="381" y="16" width="1" height="1" fill="#8a8a8a"/></g>
<path d="M371,12.6 C373.4,11.4 375,7.2 377.2,7.3 C379.2,7.4 380.4,10.4 382.8,11.1" stroke="#2ca02c" stroke-width="1.2" fill="none"/>
<g shape-rendering="crispEdges"><rect x="393" y="0" width="1" height="21" fill="#a0a0a0"/></g>
<line x1="412.4" y1="12.399999999999999" x2="417" y2="16.8" stroke="#a87800" stroke-width="4.2" stroke-linecap="butt"/><line x1="412.6" y1="12.6" x2="416.6" y2="16.4" stroke="#f8e040" stroke-width="2.4" stroke-linecap="butt"/><circle cx="408" cy="7.8" r="5.6" fill="url(#glens)" stroke="#2c6cc4" stroke-width="1.2"/><rect x="404.4" y="6.8999999999999995" width="7.2" height="1.8" fill="#3c88b4"/><rect x="407.1" y="4.199999999999999" width="1.8" height="7.2" fill="#3c88b4"/>
<line x1="440.4" y1="12.399999999999999" x2="445" y2="16.8" stroke="#a87800" stroke-width="4.2" stroke-linecap="butt"/><line x1="440.6" y1="12.6" x2="444.6" y2="16.4" stroke="#f8e040" stroke-width="2.4" stroke-linecap="butt"/><circle cx="436" cy="7.8" r="5.6" fill="url(#glens)" stroke="#2c6cc4" stroke-width="1.2"/><rect x="432.4" y="6.8999999999999995" width="7.2" height="1.8" fill="#3c88b4"/>
<g shape-rendering="crispEdges">
<rect x="458" y="2" width="8" height="8" fill="#3c9c14"/><rect x="458" y="2" width="8" height="2" fill="#58b830"/><rect x="459" y="3" width="1" height="1" fill="#ffffff"/><rect x="459" y="5" width="6" height="4" fill="#ffffff"/><rect x="460" y="6" width="4" height="1" fill="#b8e8a0"/><rect x="460" y="8" width="4" height="1" fill="#3c9c14"/>
<rect x="466" y="2" width="8" height="8" fill="#1c50c8"/><rect x="466" y="2" width="8" height="2" fill="#4478e0"/><rect x="467" y="3" width="1" height="1" fill="#ffffff"/><rect x="467" y="5" width="6" height="4" fill="#ffffff"/><rect x="468" y="6" width="4" height="1" fill="#a8c4f8"/><rect x="468" y="8" width="4" height="1" fill="#1c50c8"/>
<rect x="458" y="10" width="8" height="8" fill="#1c50c8"/><rect x="458" y="10" width="8" height="2" fill="#4478e0"/><rect x="459" y="11" width="1" height="1" fill="#ffffff"/><rect x="459" y="13" width="6" height="4" fill="#ffffff"/><rect x="460" y="14" width="4" height="1" fill="#a8c4f8"/><rect x="460" y="16" width="4" height="1" fill="#1c50c8"/>
<rect x="466" y="10" width="8" height="8" fill="#3c9c14"/><rect x="466" y="10" width="8" height="2" fill="#58b830"/><rect x="467" y="11" width="1" height="1" fill="#ffffff"/><rect x="467" y="13" width="6" height="4" fill="#ffffff"/><rect x="468" y="14" width="4" height="1" fill="#b8e8a0"/><rect x="468" y="16" width="4" height="1" fill="#3c9c14"/>
</g>
<g shape-rendering="crispEdges"><rect x="483" y="0" width="1" height="21" fill="#a0a0a0"/></g>
<g shape-rendering="crispEdges"><rect x="489" y="0" width="25" height="20" fill="url(#dots)"/><rect x="488" y="0" width="1" height="21" fill="#a0a0a0"/><rect x="513" y="0" width="1" height="21" fill="#ffffff"/><rect x="488" y="20" width="26" height="1" fill="#ffffff"/></g>
<g shape-rendering="crispEdges"><rect x="496" y="4" width="1" height="14" fill="#555555"/><rect x="495" y="5" width="3" height="1" fill="#555555"/><rect x="494" y="15" width="14" height="1" fill="#555555"/><rect x="506" y="14" width="1" height="3" fill="#555555"/><rect x="495" y="6" width="1" height="1" fill="#8a8a8a"/><rect x="497" y="6" width="1" height="1" fill="#8a8a8a"/><rect x="505" y="14" width="1" height="1" fill="#8a8a8a"/><rect x="505" y="16" width="1" height="1" fill="#8a8a8a"/></g>
<path d="M501.3,6.3 L504.9,9.6 L501.3,12.9 z" fill="#70f090" stroke="#10a020" stroke-width="1"/>
<g shape-rendering="crispEdges"><rect x="517" y="0" width="25" height="20" fill="url(#dots)"/><rect x="516" y="0" width="1" height="21" fill="#a0a0a0"/><rect x="541" y="0" width="1" height="21" fill="#ffffff"/><rect x="516" y="20" width="26" height="1" fill="#ffffff"/></g>
<g shape-rendering="crispEdges"><rect x="524" y="4" width="1" height="14" fill="#555555"/><rect x="523" y="5" width="3" height="1" fill="#555555"/><rect x="522" y="15" width="14" height="1" fill="#555555"/><rect x="534" y="14" width="1" height="3" fill="#555555"/><rect x="523" y="6" width="1" height="1" fill="#8a8a8a"/><rect x="525" y="6" width="1" height="1" fill="#8a8a8a"/><rect x="533" y="14" width="1" height="1" fill="#8a8a8a"/><rect x="533" y="16" width="1" height="1" fill="#8a8a8a"/></g>
<g shape-rendering="crispEdges"><rect x="530" y="4" width="1" height="10" fill="#2c78c8"/></g><path d="M531.6,9.5 h4.4 M533.6,7.6 L531.7,9.5 L533.6,11.4" stroke="#d84010" stroke-width="1.1" fill="none"/>
<g shape-rendering="crispEdges"><rect x="545" y="0" width="1" height="21" fill="#a0a0a0"/></g>
<path d="M555.5,2.5 H563.5 L566.5,5.5 V15.5 H555.5 Z" fill="#ffffff" stroke="#7a7a7a" stroke-width="1"/><path d="M563.5,2.5 V5.5 H566.5" fill="none" stroke="#7a7a7a" stroke-width="1"/><g shape-rendering="crispEdges"></g><text x="556.6" y="12.6" font-family="Liberation Serif, serif" font-style="italic" font-size="12" fill="#4a3c28">f</text><g shape-rendering="crispEdges"><rect x="563" y="8" width="4" height="12" fill="#0a8a10"/><rect x="559" y="12" width="12" height="4" fill="#0a8a10"/><rect x="564" y="9" width="2" height="10" fill="url(#gplus)"/><rect x="560" y="13" width="10" height="2" fill="url(#gplus)"/></g>
<g shape-rendering="crispEdges"><rect x="577" y="9" width="5" height="1" fill="#000"/><rect x="578" y="10" width="3" height="1" fill="#000"/><rect x="579" y="11" width="1" height="1" fill="#000"/></g>
<circle cx="600.5" cy="9.9" r="7.6" fill="url(#gclock)"/><circle cx="600.5" cy="9.9" r="5.3" fill="#f6faff"/>
<circle cx="600.5" cy="9.9" r="4.3" fill="none" stroke="#9aa4b4" stroke-width="0.8" stroke-dasharray="0.7 1.55"/>
<path d="M600.5,6.6 V10.2 L603.4,10.6" stroke="#222" stroke-width="1.1" fill="none"/>
<g shape-rendering="crispEdges"><rect x="616" y="9" width="5" height="1" fill="#000"/><rect x="617" y="10" width="3" height="1" fill="#000"/><rect x="618" y="11" width="1" height="1" fill="#000"/></g>
<rect x="632.3" y="3.3" width="15.4" height="13.6" rx="1" fill="#fff" stroke="#3c74c8" stroke-width="1"/>
<rect x="632.3" y="3.3" width="15.4" height="2.4" fill="#5c9ce8"/>
<path d="M632.5,10.5 h15" stroke="#3c74c8" stroke-width="0.9"/>
<path d="M634,9 h2 l1.5,-1.2 h2 l1.2,0.8 h2 l1.6,-1.4 h1.5" stroke="#a02000" stroke-width="1.2" fill="none"/>
<path d="M634.5,14.5 h2 l1.5,-1 h1.5 l1.8,-1.6 1.6,1.4 1.6,0.8" stroke="#108010" stroke-width="1.2" fill="none"/>
<g shape-rendering="crispEdges"><rect x="655" y="9" width="5" height="1" fill="#000"/><rect x="656" y="10" width="3" height="1" fill="#000"/><rect x="657" y="11" width="1" height="1" fill="#000"/></g>
<g shape-rendering="crispEdges"><rect x="666" y="0" width="1" height="21" fill="#a0a0a0"/></g>
<g shape-rendering="crispEdges"><rect x="670" y="1" width="3" height="1" fill="#a4a4a4"/><rect x="670" y="3" width="3" height="1" fill="#a4a4a4"/><rect x="670" y="5" width="3" height="1" fill="#a4a4a4"/><rect x="670" y="7" width="3" height="1" fill="#a4a4a4"/><rect x="670" y="9" width="3" height="1" fill="#a4a4a4"/><rect x="670" y="11" width="3" height="1" fill="#a4a4a4"/><rect x="670" y="13" width="3" height="1" fill="#a4a4a4"/><rect x="670" y="15" width="3" height="1" fill="#a4a4a4"/><rect x="670" y="17" width="3" height="1" fill="#a4a4a4"/><rect x="670" y="19" width="3" height="1" fill="#a4a4a4"/></g>
<g shape-rendering="crispEdges"><rect x="677" y="0" width="25" height="20" fill="url(#dots)"/><rect x="676" y="0" width="1" height="21" fill="#a0a0a0"/><rect x="701" y="0" width="1" height="21" fill="#ffffff"/><rect x="676" y="20" width="26" height="1" fill="#ffffff"/></g>
<path d="M684,3 L684,14.5 L686.8,12 L689.4,17.2 L691,16.4 L688.6,11.4 L692.2,11.2 z" fill="#505050"/>
<g shape-rendering="crispEdges"><rect x="716" y="3" width="1" height="6" fill="#505050"/><rect x="716" y="12" width="1" height="6" fill="#505050"/><rect x="709" y="10" width="6" height="1" fill="#505050"/><rect x="718" y="10" width="6" height="1" fill="#505050"/></g>
<g shape-rendering="crispEdges"><rect x="733" y="0" width="1" height="21" fill="#a0a0a0"/></g>
<g shape-rendering="crispEdges"><rect x="750" y="4" width="1" height="13" fill="#505050"/><rect x="773" y="10" width="12" height="1" fill="#505050"/></g>
<path d="M801,17 L812.7,4.7" stroke="#505050" stroke-width="1.1"/>
<path d="M827,12 L839,4 M829,16.5 L841,8.5 M828,14.2 L840,6.2" stroke="#505050" stroke-width="0.9"/>
<path d="M830.5,11 V16 M833.5,8.5 V14 M836.5,6.5 V12 M839,3 V9" stroke="#505050" stroke-width="0.8"/>
<text x="837.6" y="18.8" font-size="6.5" font-weight="bold" fill="#404040">E</text>
<rect x="856" y="3" width="1" height="1" fill="#505050" shape-rendering="crispEdges"/>
<rect x="858" y="3" width="1" height="1" fill="#505050" shape-rendering="crispEdges"/>
<rect x="860" y="3" width="1" height="1" fill="#505050" shape-rendering="crispEdges"/>
<rect x="862" y="3" width="1" height="1" fill="#505050" shape-rendering="crispEdges"/>
<rect x="864" y="3" width="1" height="1" fill="#505050" shape-rendering="crispEdges"/>
<rect x="866" y="3" width="1" height="1" fill="#505050" shape-rendering="crispEdges"/>
<rect x="868" y="3" width="1" height="1" fill="#505050" shape-rendering="crispEdges"/>
<rect x="856" y="6" width="1" height="1" fill="#505050" shape-rendering="crispEdges"/>
<rect x="858" y="6" width="1" height="1" fill="#505050" shape-rendering="crispEdges"/>
<rect x="860" y="6" width="1" height="1" fill="#505050" shape-rendering="crispEdges"/>
<rect x="862" y="6" width="1" height="1" fill="#505050" shape-rendering="crispEdges"/>
<rect x="864" y="6" width="1" height="1" fill="#505050" shape-rendering="crispEdges"/>
<rect x="866" y="6" width="1" height="1" fill="#505050" shape-rendering="crispEdges"/>
<rect x="868" y="6" width="1" height="1" fill="#505050" shape-rendering="crispEdges"/>
<rect x="856" y="10" width="1" height="1" fill="#505050" shape-rendering="crispEdges"/>
<rect x="858" y="10" width="1" height="1" fill="#505050" shape-rendering="crispEdges"/>
<rect x="860" y="10" width="1" height="1" fill="#505050" shape-rendering="crispEdges"/>
<rect x="862" y="10" width="1" height="1" fill="#505050" shape-rendering="crispEdges"/>
<rect x="864" y="10" width="1" height="1" fill="#505050" shape-rendering="crispEdges"/>
<rect x="866" y="10" width="1" height="1" fill="#505050" shape-rendering="crispEdges"/>
<rect x="868" y="10" width="1" height="1" fill="#505050" shape-rendering="crispEdges"/>
<rect x="856" y="14" width="1" height="1" fill="#505050" shape-rendering="crispEdges"/>
<rect x="858" y="14" width="1" height="1" fill="#505050" shape-rendering="crispEdges"/>
<rect x="860" y="14" width="1" height="1" fill="#505050" shape-rendering="crispEdges"/>
<rect x="862" y="14" width="1" height="1" fill="#505050" shape-rendering="crispEdges"/>
<rect x="864" y="14" width="1" height="1" fill="#505050" shape-rendering="crispEdges"/>
<text x="866" y="18.8" font-size="6.5" font-weight="bold" fill="#404040">F</text>
<text x="886.6" y="14.6" font-size="12" font-weight="bold" fill="#606060" textLength="8.4" lengthAdjust="spacingAndGlyphs">A</text>
<rect x="913" y="4.2" width="11.6" height="12.4" fill="none" stroke="#505050" stroke-width="1" stroke-dasharray="1 1"/>
<text x="918.8" y="14.8" font-size="11.5" font-weight="bold" fill="#505050" text-anchor="middle">T</text>
<path d="M940.2,7.6 L943.6,4 L947,7.6 L943.6,8.8 z" fill="#505050"/><path d="M947.4,14.4 L950.8,12 L954.2,14.4 L950.8,17 z" fill="#505050"/><path d="M942.5,11.2 L945,13.6 L949.4,8.2" stroke="#505050" stroke-width="1.2" fill="none"/>
<g shape-rendering="crispEdges"><rect x="961" y="9" width="5" height="1" fill="#000"/><rect x="962" y="10" width="3" height="1" fill="#000"/><rect x="963" y="11" width="1" height="1" fill="#000"/></g>
<g shape-rendering="crispEdges"><rect x="972" y="0" width="1" height="21" fill="#a0a0a0"/></g>
<g shape-rendering="crispEdges"><rect x="976" y="1" width="3" height="1" fill="#a4a4a4"/><rect x="976" y="3" width="3" height="1" fill="#a4a4a4"/><rect x="976" y="5" width="3" height="1" fill="#a4a4a4"/><rect x="976" y="7" width="3" height="1" fill="#a4a4a4"/><rect x="976" y="9" width="3" height="1" fill="#a4a4a4"/><rect x="976" y="11" width="3" height="1" fill="#a4a4a4"/><rect x="976" y="13" width="3" height="1" fill="#a4a4a4"/><rect x="976" y="15" width="3" height="1" fill="#a4a4a4"/><rect x="976" y="17" width="3" height="1" fill="#a4a4a4"/><rect x="976" y="19" width="3" height="1" fill="#a4a4a4"/></g>
<g shape-rendering="crispEdges"><rect x="1123" y="0" width="25" height="20" fill="url(#dots)"/><rect x="1122" y="0" width="1" height="21" fill="#a0a0a0"/><rect x="1147" y="0" width="1" height="21" fill="#ffffff"/><rect x="1122" y="20" width="26" height="1" fill="#ffffff"/></g>
<text x="987.3000000000001" y="14" font-size="10.2" fill="#333" stroke="#333" stroke-width="0.15" textLength="13.100000000000001" lengthAdjust="spacingAndGlyphs">M1</text>
<text x="1015.6" y="14" font-size="10.2" fill="#333" stroke="#333" stroke-width="0.15" textLength="12.9" lengthAdjust="spacingAndGlyphs">M5</text>
<text x="1041.6" y="14" font-size="10.2" fill="#333" stroke="#333" stroke-width="0.15" textLength="18.0" lengthAdjust="spacingAndGlyphs">M15</text>
<text x="1069.3999999999999" y="14" font-size="10.2" fill="#333" stroke="#333" stroke-width="0.15" textLength="18.3" lengthAdjust="spacingAndGlyphs">M30</text>
<text x="1100.6" y="14" font-size="10.2" fill="#333" stroke="#333" stroke-width="0.15" textLength="11.8" lengthAdjust="spacingAndGlyphs">H1</text>
<text x="1127.3999999999999" y="14" font-size="10.2" fill="#333" stroke="#333" stroke-width="0.15" textLength="12.600000000000001" lengthAdjust="spacingAndGlyphs">H4</text>
<text x="1156.1999999999998" y="14" font-size="10.2" fill="#333" stroke="#333" stroke-width="0.15" textLength="12.200000000000001" lengthAdjust="spacingAndGlyphs">D1</text>
<text x="1184.0" y="14" font-size="10.2" fill="#333" stroke="#333" stroke-width="0.15" textLength="14.4" lengthAdjust="spacingAndGlyphs">W1</text>
<text x="1210.3" y="14" font-size="10.2" fill="#333" stroke="#333" stroke-width="0.15" textLength="15.4" lengthAdjust="spacingAndGlyphs">MN</text>
<g shape-rendering="crispEdges"><rect x="1233" y="0" width="1" height="21" fill="#a0a0a0"/></g>
<line x1="1643.2" y1="14.6" x2="1647.6" y2="10.4" stroke="#2c5cc8" stroke-width="2.6" stroke-linecap="round"/>
<circle cx="1650.6" cy="7.2" r="3.9" fill="#fafcff" stroke="#2c5cc8" stroke-width="1.5"/>
<path d="M1667.5,12.5 a5.4,4.4 0 1 1 5,4.2 l-2.6,2 l0.4,-2.4 a5,4 0 0 1 -2.8,-3.8 z" fill="#e4e6ee" stroke="#b4b8c4" stroke-width="0.7"/>
<circle cx="1681.7" cy="7.4" r="8" fill="url(#gred)"/>
<text x="1681.6" y="12" font-size="12.5" fill="#fff" text-anchor="middle">1</text>
</svg>
</body></html>
